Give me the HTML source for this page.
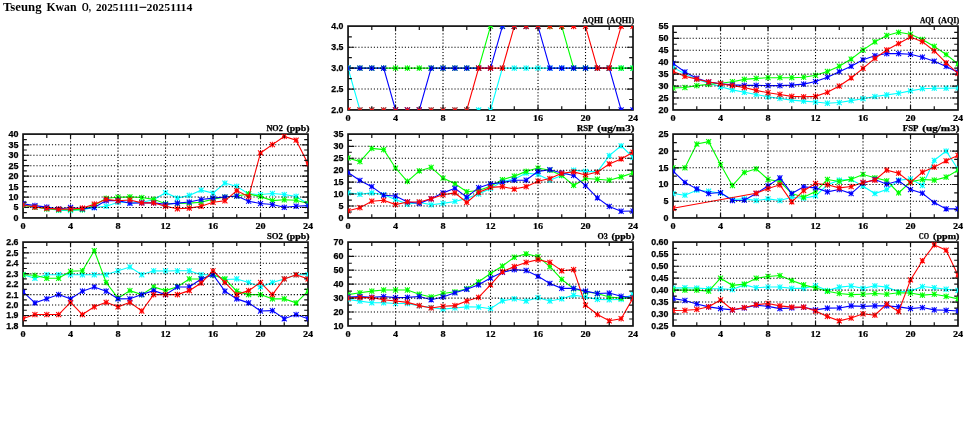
<!DOCTYPE html>
<html><head><meta charset="utf-8"><title>Tseung Kwan O</title>
<style>html,body{margin:0;padding:0;background:#fff;}svg{display:block;will-change:transform;}text{fill:#000;}</style></head>
<body>
<svg width="975" height="447" viewBox="0 0 975 447">
<defs>
<clipPath id="c0"><rect x="348.05" y="26.1" width="284.95" height="83.85"/></clipPath>
<clipPath id="s0"><path clip-rule="evenodd" d="M348.05 26.1h284.95v83.85h-284.95zM349.25 27.3h282.55v81.44999999999999h-282.55z"/></clipPath>
<clipPath id="c1"><rect x="673.05" y="26.1" width="284.95" height="83.85"/></clipPath>
<clipPath id="s1"><path clip-rule="evenodd" d="M673.05 26.1h284.95v83.85h-284.95zM674.25 27.3h282.55v81.44999999999999h-282.55z"/></clipPath>
<clipPath id="c2"><rect x="23.05" y="134.1" width="284.95" height="83.85"/></clipPath>
<clipPath id="s2"><path clip-rule="evenodd" d="M23.05 134.1h284.95v83.85h-284.95zM24.25 135.29999999999998h282.55v81.44999999999999h-282.55z"/></clipPath>
<clipPath id="c3"><rect x="348.05" y="134.1" width="284.95" height="83.85"/></clipPath>
<clipPath id="s3"><path clip-rule="evenodd" d="M348.05 134.1h284.95v83.85h-284.95zM349.25 135.29999999999998h282.55v81.44999999999999h-282.55z"/></clipPath>
<clipPath id="c4"><rect x="673.05" y="134.1" width="284.95" height="83.85"/></clipPath>
<clipPath id="s4"><path clip-rule="evenodd" d="M673.05 134.1h284.95v83.85h-284.95zM674.25 135.29999999999998h282.55v81.44999999999999h-282.55z"/></clipPath>
<clipPath id="c5"><rect x="23.05" y="242.1" width="284.95" height="83.85"/></clipPath>
<clipPath id="s5"><path clip-rule="evenodd" d="M23.05 242.1h284.95v83.85h-284.95zM24.25 243.29999999999998h282.55v81.44999999999999h-282.55z"/></clipPath>
<clipPath id="c6"><rect x="348.05" y="242.1" width="284.95" height="83.85"/></clipPath>
<clipPath id="s6"><path clip-rule="evenodd" d="M348.05 242.1h284.95v83.85h-284.95zM349.25 243.29999999999998h282.55v81.44999999999999h-282.55z"/></clipPath>
<clipPath id="c7"><rect x="673.05" y="242.1" width="284.95" height="83.85"/></clipPath>
<clipPath id="s7"><path clip-rule="evenodd" d="M673.05 242.1h284.95v83.85h-284.95zM674.25 243.29999999999998h282.55v81.44999999999999h-282.55z"/></clipPath>
</defs>
<rect width="975" height="447" fill="#fff"/>
<text x="3.0" y="10.8" font-family="Liberation Serif, serif" font-weight="bold" font-size="12" textLength="38.6" lengthAdjust="spacingAndGlyphs">Tseung</text>
<text x="46.4" y="10.8" font-family="Liberation Serif, serif" font-weight="bold" font-size="12" textLength="30.2" lengthAdjust="spacingAndGlyphs">Kwan</text>
<text x="81.7" y="10.8" font-family="Liberation Serif, serif" font-weight="bold" font-size="12" textLength="9.3" lengthAdjust="spacingAndGlyphs">O,</text>
<text x="96.0" y="10.8" font-family="Liberation Serif, serif" font-weight="bold" font-size="11.2" textLength="43.0" lengthAdjust="spacingAndGlyphs">20251111</text>
<path d="M139.5 7.3H146.3" stroke="#000" stroke-width="1.1" fill="none"/>
<text x="146.6" y="10.8" font-family="Liberation Serif, serif" font-weight="bold" font-size="11.2" textLength="45.8" lengthAdjust="spacingAndGlyphs">20251114</text>
<g clip-path="url(#c0)" fill="none" stroke-width="1.1" stroke-linecap="butt">
<path d="M348.05 68.15L359.92 109.95L371.80 109.95L383.67 109.95L395.54 109.95L407.41 109.95L419.29 109.95L431.16 109.95L443.03 109.95L454.91 109.95L466.78 109.95L478.65 109.95L490.52 109.95L502.40 68.15L514.27 68.15L526.14 68.15L538.02 68.15L549.89 68.15L561.76 68.15L573.64 68.15L585.51 68.15L597.38 68.15L609.25 68.15L621.13 68.15L633.00 68.15" stroke="#00ffff"/>
<path d="M345.53 65.63L350.57 70.67M345.53 70.67L350.57 65.63M348.05 65.35L348.05 70.95M345.95 68.15L350.15 68.15M357.40 107.43L362.44 112.47M357.40 112.47L362.44 107.43M359.92 107.15L359.92 112.75M357.82 109.95L362.02 109.95M369.28 107.43L374.32 112.47M369.28 112.47L374.32 107.43M371.80 107.15L371.80 112.75M369.70 109.95L373.90 109.95M381.15 107.43L386.19 112.47M381.15 112.47L386.19 107.43M383.67 107.15L383.67 112.75M381.57 109.95L385.77 109.95M393.02 107.43L398.06 112.47M393.02 112.47L398.06 107.43M395.54 107.15L395.54 112.75M393.44 109.95L397.64 109.95M404.89 107.43L409.93 112.47M404.89 112.47L409.93 107.43M407.41 107.15L407.41 112.75M405.31 109.95L409.51 109.95M416.77 107.43L421.81 112.47M416.77 112.47L421.81 107.43M419.29 107.15L419.29 112.75M417.19 109.95L421.39 109.95M428.64 107.43L433.68 112.47M428.64 112.47L433.68 107.43M431.16 107.15L431.16 112.75M429.06 109.95L433.26 109.95M440.51 107.43L445.55 112.47M440.51 112.47L445.55 107.43M443.03 107.15L443.03 112.75M440.93 109.95L445.13 109.95M452.39 107.43L457.43 112.47M452.39 112.47L457.43 107.43M454.91 107.15L454.91 112.75M452.81 109.95L457.01 109.95M464.26 107.43L469.30 112.47M464.26 112.47L469.30 107.43M466.78 107.15L466.78 112.75M464.68 109.95L468.88 109.95M476.13 107.43L481.17 112.47M476.13 112.47L481.17 107.43M478.65 107.15L478.65 112.75M476.55 109.95L480.75 109.95M488.00 107.43L493.04 112.47M488.00 112.47L493.04 107.43M490.52 107.15L490.52 112.75M488.42 109.95L492.62 109.95M499.88 65.63L504.92 70.67M499.88 70.67L504.92 65.63M502.40 65.35L502.40 70.95M500.30 68.15L504.50 68.15M511.75 65.63L516.79 70.67M511.75 70.67L516.79 65.63M514.27 65.35L514.27 70.95M512.17 68.15L516.37 68.15M523.62 65.63L528.66 70.67M523.62 70.67L528.66 65.63M526.14 65.35L526.14 70.95M524.04 68.15L528.24 68.15M535.50 65.63L540.54 70.67M535.50 70.67L540.54 65.63M538.02 65.35L538.02 70.95M535.92 68.15L540.12 68.15M547.37 65.63L552.41 70.67M547.37 70.67L552.41 65.63M549.89 65.35L549.89 70.95M547.79 68.15L551.99 68.15M559.24 65.63L564.28 70.67M559.24 70.67L564.28 65.63M561.76 65.35L561.76 70.95M559.66 68.15L563.86 68.15M571.12 65.63L576.16 70.67M571.12 70.67L576.16 65.63M573.64 65.35L573.64 70.95M571.54 68.15L575.74 68.15M582.99 65.63L588.03 70.67M582.99 70.67L588.03 65.63M585.51 65.35L585.51 70.95M583.41 68.15L587.61 68.15M594.86 65.63L599.90 70.67M594.86 70.67L599.90 65.63M597.38 65.35L597.38 70.95M595.28 68.15L599.48 68.15M606.73 65.63L611.77 70.67M606.73 70.67L611.77 65.63M609.25 65.35L609.25 70.95M607.15 68.15L611.35 68.15M618.61 65.63L623.65 70.67M618.61 70.67L623.65 65.63M621.13 65.35L621.13 70.95M619.03 68.15L623.23 68.15M630.48 65.63L635.52 70.67M630.48 70.67L635.52 65.63M633.00 65.35L633.00 70.95M630.90 68.15L635.10 68.15" stroke="#00ffff" stroke-width="1.05"/>
<path d="M348.05 68.15L359.92 68.15L371.80 68.15L383.67 68.15L395.54 68.15L407.41 68.15L419.29 68.15L431.16 68.15L443.03 68.15L454.91 68.15L466.78 68.15L478.65 68.15L490.52 26.35L502.40 26.35L514.27 26.35L526.14 26.35L538.02 26.35L549.89 26.35L561.76 26.35L573.64 68.15L585.51 68.15L597.38 68.15L609.25 68.15L621.13 68.15L633.00 68.15" stroke="#00ff00"/>
<path d="M345.53 65.63L350.57 70.67M345.53 70.67L350.57 65.63M348.05 65.35L348.05 70.95M345.95 68.15L350.15 68.15M357.40 65.63L362.44 70.67M357.40 70.67L362.44 65.63M359.92 65.35L359.92 70.95M357.82 68.15L362.02 68.15M369.28 65.63L374.32 70.67M369.28 70.67L374.32 65.63M371.80 65.35L371.80 70.95M369.70 68.15L373.90 68.15M381.15 65.63L386.19 70.67M381.15 70.67L386.19 65.63M383.67 65.35L383.67 70.95M381.57 68.15L385.77 68.15M393.02 65.63L398.06 70.67M393.02 70.67L398.06 65.63M395.54 65.35L395.54 70.95M393.44 68.15L397.64 68.15M404.89 65.63L409.93 70.67M404.89 70.67L409.93 65.63M407.41 65.35L407.41 70.95M405.31 68.15L409.51 68.15M416.77 65.63L421.81 70.67M416.77 70.67L421.81 65.63M419.29 65.35L419.29 70.95M417.19 68.15L421.39 68.15M428.64 65.63L433.68 70.67M428.64 70.67L433.68 65.63M431.16 65.35L431.16 70.95M429.06 68.15L433.26 68.15M440.51 65.63L445.55 70.67M440.51 70.67L445.55 65.63M443.03 65.35L443.03 70.95M440.93 68.15L445.13 68.15M452.39 65.63L457.43 70.67M452.39 70.67L457.43 65.63M454.91 65.35L454.91 70.95M452.81 68.15L457.01 68.15M464.26 65.63L469.30 70.67M464.26 70.67L469.30 65.63M466.78 65.35L466.78 70.95M464.68 68.15L468.88 68.15M476.13 65.63L481.17 70.67M476.13 70.67L481.17 65.63M478.65 65.35L478.65 70.95M476.55 68.15L480.75 68.15M488.00 23.83L493.04 28.87M488.00 28.87L493.04 23.83M490.52 23.55L490.52 29.15M488.42 26.35L492.62 26.35M499.88 23.83L504.92 28.87M499.88 28.87L504.92 23.83M502.40 23.55L502.40 29.15M500.30 26.35L504.50 26.35M511.75 23.83L516.79 28.87M511.75 28.87L516.79 23.83M514.27 23.55L514.27 29.15M512.17 26.35L516.37 26.35M523.62 23.83L528.66 28.87M523.62 28.87L528.66 23.83M526.14 23.55L526.14 29.15M524.04 26.35L528.24 26.35M535.50 23.83L540.54 28.87M535.50 28.87L540.54 23.83M538.02 23.55L538.02 29.15M535.92 26.35L540.12 26.35M547.37 23.83L552.41 28.87M547.37 28.87L552.41 23.83M549.89 23.55L549.89 29.15M547.79 26.35L551.99 26.35M559.24 23.83L564.28 28.87M559.24 28.87L564.28 23.83M561.76 23.55L561.76 29.15M559.66 26.35L563.86 26.35M571.12 65.63L576.16 70.67M571.12 70.67L576.16 65.63M573.64 65.35L573.64 70.95M571.54 68.15L575.74 68.15M582.99 65.63L588.03 70.67M582.99 70.67L588.03 65.63M585.51 65.35L585.51 70.95M583.41 68.15L587.61 68.15M594.86 65.63L599.90 70.67M594.86 70.67L599.90 65.63M597.38 65.35L597.38 70.95M595.28 68.15L599.48 68.15M606.73 65.63L611.77 70.67M606.73 70.67L611.77 65.63M609.25 65.35L609.25 70.95M607.15 68.15L611.35 68.15M618.61 65.63L623.65 70.67M618.61 70.67L623.65 65.63M621.13 65.35L621.13 70.95M619.03 68.15L623.23 68.15M630.48 65.63L635.52 70.67M630.48 70.67L635.52 65.63M633.00 65.35L633.00 70.95M630.90 68.15L635.10 68.15" stroke="#00ff00" stroke-width="1.05"/>
<path d="M348.05 68.15L359.92 68.15L371.80 68.15L383.67 68.15L395.54 109.95L407.41 109.95L419.29 109.95L431.16 68.15L443.03 68.15L454.91 68.15L466.78 68.15L478.65 68.15L490.52 68.15L502.40 26.35L514.27 26.35L526.14 26.35L538.02 26.35L549.89 68.15L561.76 68.15L573.64 68.15L585.51 68.15L597.38 68.15L609.25 68.15L621.13 109.95L633.00 109.95" stroke="#0000ff"/>
<path d="M345.53 65.63L350.57 70.67M345.53 70.67L350.57 65.63M348.05 65.35L348.05 70.95M345.95 68.15L350.15 68.15M357.40 65.63L362.44 70.67M357.40 70.67L362.44 65.63M359.92 65.35L359.92 70.95M357.82 68.15L362.02 68.15M369.28 65.63L374.32 70.67M369.28 70.67L374.32 65.63M371.80 65.35L371.80 70.95M369.70 68.15L373.90 68.15M381.15 65.63L386.19 70.67M381.15 70.67L386.19 65.63M383.67 65.35L383.67 70.95M381.57 68.15L385.77 68.15M393.02 107.43L398.06 112.47M393.02 112.47L398.06 107.43M395.54 107.15L395.54 112.75M393.44 109.95L397.64 109.95M404.89 107.43L409.93 112.47M404.89 112.47L409.93 107.43M407.41 107.15L407.41 112.75M405.31 109.95L409.51 109.95M416.77 107.43L421.81 112.47M416.77 112.47L421.81 107.43M419.29 107.15L419.29 112.75M417.19 109.95L421.39 109.95M428.64 65.63L433.68 70.67M428.64 70.67L433.68 65.63M431.16 65.35L431.16 70.95M429.06 68.15L433.26 68.15M440.51 65.63L445.55 70.67M440.51 70.67L445.55 65.63M443.03 65.35L443.03 70.95M440.93 68.15L445.13 68.15M452.39 65.63L457.43 70.67M452.39 70.67L457.43 65.63M454.91 65.35L454.91 70.95M452.81 68.15L457.01 68.15M464.26 65.63L469.30 70.67M464.26 70.67L469.30 65.63M466.78 65.35L466.78 70.95M464.68 68.15L468.88 68.15M476.13 65.63L481.17 70.67M476.13 70.67L481.17 65.63M478.65 65.35L478.65 70.95M476.55 68.15L480.75 68.15M488.00 65.63L493.04 70.67M488.00 70.67L493.04 65.63M490.52 65.35L490.52 70.95M488.42 68.15L492.62 68.15M499.88 23.83L504.92 28.87M499.88 28.87L504.92 23.83M502.40 23.55L502.40 29.15M500.30 26.35L504.50 26.35M511.75 23.83L516.79 28.87M511.75 28.87L516.79 23.83M514.27 23.55L514.27 29.15M512.17 26.35L516.37 26.35M523.62 23.83L528.66 28.87M523.62 28.87L528.66 23.83M526.14 23.55L526.14 29.15M524.04 26.35L528.24 26.35M535.50 23.83L540.54 28.87M535.50 28.87L540.54 23.83M538.02 23.55L538.02 29.15M535.92 26.35L540.12 26.35M547.37 65.63L552.41 70.67M547.37 70.67L552.41 65.63M549.89 65.35L549.89 70.95M547.79 68.15L551.99 68.15M559.24 65.63L564.28 70.67M559.24 70.67L564.28 65.63M561.76 65.35L561.76 70.95M559.66 68.15L563.86 68.15M571.12 65.63L576.16 70.67M571.12 70.67L576.16 65.63M573.64 65.35L573.64 70.95M571.54 68.15L575.74 68.15M582.99 65.63L588.03 70.67M582.99 70.67L588.03 65.63M585.51 65.35L585.51 70.95M583.41 68.15L587.61 68.15M594.86 65.63L599.90 70.67M594.86 70.67L599.90 65.63M597.38 65.35L597.38 70.95M595.28 68.15L599.48 68.15M606.73 65.63L611.77 70.67M606.73 70.67L611.77 65.63M609.25 65.35L609.25 70.95M607.15 68.15L611.35 68.15M618.61 107.43L623.65 112.47M618.61 112.47L623.65 107.43M621.13 107.15L621.13 112.75M619.03 109.95L623.23 109.95M630.48 107.43L635.52 112.47M630.48 112.47L635.52 107.43M633.00 107.15L633.00 112.75M630.90 109.95L635.10 109.95" stroke="#0000ff" stroke-width="1.05"/>
<path d="M348.05 109.95L359.92 109.95L371.80 109.95L383.67 109.95L395.54 109.95L407.41 109.95L419.29 109.95L431.16 109.95L443.03 109.95L454.91 109.95L466.78 109.95L478.65 68.15L490.52 68.15L502.40 68.15L514.27 26.35L526.14 26.35L538.02 26.35L549.89 26.35L561.76 26.35L573.64 26.35L585.51 26.35L597.38 68.15L609.25 68.15L621.13 26.35L633.00 26.35" stroke="#ff0000"/>
<path d="M345.53 107.43L350.57 112.47M345.53 112.47L350.57 107.43M348.05 107.15L348.05 112.75M345.95 109.95L350.15 109.95M357.40 107.43L362.44 112.47M357.40 112.47L362.44 107.43M359.92 107.15L359.92 112.75M357.82 109.95L362.02 109.95M369.28 107.43L374.32 112.47M369.28 112.47L374.32 107.43M371.80 107.15L371.80 112.75M369.70 109.95L373.90 109.95M381.15 107.43L386.19 112.47M381.15 112.47L386.19 107.43M383.67 107.15L383.67 112.75M381.57 109.95L385.77 109.95M393.02 107.43L398.06 112.47M393.02 112.47L398.06 107.43M395.54 107.15L395.54 112.75M393.44 109.95L397.64 109.95M404.89 107.43L409.93 112.47M404.89 112.47L409.93 107.43M407.41 107.15L407.41 112.75M405.31 109.95L409.51 109.95M416.77 107.43L421.81 112.47M416.77 112.47L421.81 107.43M419.29 107.15L419.29 112.75M417.19 109.95L421.39 109.95M428.64 107.43L433.68 112.47M428.64 112.47L433.68 107.43M431.16 107.15L431.16 112.75M429.06 109.95L433.26 109.95M440.51 107.43L445.55 112.47M440.51 112.47L445.55 107.43M443.03 107.15L443.03 112.75M440.93 109.95L445.13 109.95M452.39 107.43L457.43 112.47M452.39 112.47L457.43 107.43M454.91 107.15L454.91 112.75M452.81 109.95L457.01 109.95M464.26 107.43L469.30 112.47M464.26 112.47L469.30 107.43M466.78 107.15L466.78 112.75M464.68 109.95L468.88 109.95M476.13 65.63L481.17 70.67M476.13 70.67L481.17 65.63M478.65 65.35L478.65 70.95M476.55 68.15L480.75 68.15M488.00 65.63L493.04 70.67M488.00 70.67L493.04 65.63M490.52 65.35L490.52 70.95M488.42 68.15L492.62 68.15M499.88 65.63L504.92 70.67M499.88 70.67L504.92 65.63M502.40 65.35L502.40 70.95M500.30 68.15L504.50 68.15M511.75 23.83L516.79 28.87M511.75 28.87L516.79 23.83M514.27 23.55L514.27 29.15M512.17 26.35L516.37 26.35M523.62 23.83L528.66 28.87M523.62 28.87L528.66 23.83M526.14 23.55L526.14 29.15M524.04 26.35L528.24 26.35M535.50 23.83L540.54 28.87M535.50 28.87L540.54 23.83M538.02 23.55L538.02 29.15M535.92 26.35L540.12 26.35M547.37 23.83L552.41 28.87M547.37 28.87L552.41 23.83M549.89 23.55L549.89 29.15M547.79 26.35L551.99 26.35M559.24 23.83L564.28 28.87M559.24 28.87L564.28 23.83M561.76 23.55L561.76 29.15M559.66 26.35L563.86 26.35M571.12 23.83L576.16 28.87M571.12 28.87L576.16 23.83M573.64 23.55L573.64 29.15M571.54 26.35L575.74 26.35M582.99 23.83L588.03 28.87M582.99 28.87L588.03 23.83M585.51 23.55L585.51 29.15M583.41 26.35L587.61 26.35M594.86 65.63L599.90 70.67M594.86 70.67L599.90 65.63M597.38 65.35L597.38 70.95M595.28 68.15L599.48 68.15M606.73 65.63L611.77 70.67M606.73 70.67L611.77 65.63M609.25 65.35L609.25 70.95M607.15 68.15L611.35 68.15M618.61 23.83L623.65 28.87M618.61 28.87L623.65 23.83M621.13 23.55L621.13 29.15M619.03 26.35L623.23 26.35M630.48 23.83L635.52 28.87M630.48 28.87L635.52 23.83M633.00 23.55L633.00 29.15M630.90 26.35L635.10 26.35" stroke="#ff0000" stroke-width="1.05"/>
</g>
<path d="M349.05 89.05H633.00M349.05 68.15H633.00M349.05 47.25H633.00" stroke="#000" stroke-width="1.1" stroke-dasharray="1.15 1.95" fill="none"/>
<path d="M395.54 27.10V109.95M443.03 27.10V109.95M490.52 27.10V109.95M538.02 27.10V109.95M585.51 27.10V109.95" stroke="#000" stroke-width="1.1" stroke-dasharray="1.15 1.95" fill="none"/>
<path d="M371.80 26.10v3.8M371.80 109.95v-3.8M395.54 26.10v4.6M395.54 109.95v-4.6M419.29 26.10v3.8M419.29 109.95v-3.8M443.03 26.10v4.6M443.03 109.95v-4.6M466.78 26.10v3.8M466.78 109.95v-3.8M490.52 26.10v4.6M490.52 109.95v-4.6M514.27 26.10v3.8M514.27 109.95v-3.8M538.02 26.10v4.6M538.02 109.95v-4.6M561.76 26.10v3.8M561.76 109.95v-3.8M585.51 26.10v4.6M585.51 109.95v-4.6M609.25 26.10v3.8M609.25 109.95v-3.8M348.05 99.50h3.8M633.00 99.50h-3.8M348.05 89.05h6.2M633.00 89.05h-6.2M348.05 78.60h3.8M633.00 78.60h-3.8M348.05 68.15h6.2M633.00 68.15h-6.2M348.05 57.70h3.8M633.00 57.70h-3.8M348.05 47.25h6.2M633.00 47.25h-6.2M348.05 36.80h3.8M633.00 36.80h-3.8" stroke="#111" stroke-width="1.2" fill="none"/>
<rect x="348.05" y="26.1" width="284.95" height="83.85" fill="none" stroke="#111" stroke-width="1.7"/>
<g clip-path="url(#s0)" fill="none" stroke-width="1.05">
<path d="M345.53 65.63L350.57 70.67M345.53 70.67L350.57 65.63M348.05 65.35L348.05 70.95M345.95 68.15L350.15 68.15M357.40 107.43L362.44 112.47M357.40 112.47L362.44 107.43M359.92 107.15L359.92 112.75M357.82 109.95L362.02 109.95M369.28 107.43L374.32 112.47M369.28 112.47L374.32 107.43M371.80 107.15L371.80 112.75M369.70 109.95L373.90 109.95M381.15 107.43L386.19 112.47M381.15 112.47L386.19 107.43M383.67 107.15L383.67 112.75M381.57 109.95L385.77 109.95M393.02 107.43L398.06 112.47M393.02 112.47L398.06 107.43M395.54 107.15L395.54 112.75M393.44 109.95L397.64 109.95M404.89 107.43L409.93 112.47M404.89 112.47L409.93 107.43M407.41 107.15L407.41 112.75M405.31 109.95L409.51 109.95M416.77 107.43L421.81 112.47M416.77 112.47L421.81 107.43M419.29 107.15L419.29 112.75M417.19 109.95L421.39 109.95M428.64 107.43L433.68 112.47M428.64 112.47L433.68 107.43M431.16 107.15L431.16 112.75M429.06 109.95L433.26 109.95M440.51 107.43L445.55 112.47M440.51 112.47L445.55 107.43M443.03 107.15L443.03 112.75M440.93 109.95L445.13 109.95M452.39 107.43L457.43 112.47M452.39 112.47L457.43 107.43M454.91 107.15L454.91 112.75M452.81 109.95L457.01 109.95M464.26 107.43L469.30 112.47M464.26 112.47L469.30 107.43M466.78 107.15L466.78 112.75M464.68 109.95L468.88 109.95M476.13 107.43L481.17 112.47M476.13 112.47L481.17 107.43M478.65 107.15L478.65 112.75M476.55 109.95L480.75 109.95M488.00 107.43L493.04 112.47M488.00 112.47L493.04 107.43M490.52 107.15L490.52 112.75M488.42 109.95L492.62 109.95M630.48 65.63L635.52 70.67M630.48 70.67L635.52 65.63M633.00 65.35L633.00 70.95M630.90 68.15L635.10 68.15" stroke="#00ffff"/>
<path d="M345.53 65.63L350.57 70.67M345.53 70.67L350.57 65.63M348.05 65.35L348.05 70.95M345.95 68.15L350.15 68.15M488.00 23.83L493.04 28.87M488.00 28.87L493.04 23.83M490.52 23.55L490.52 29.15M488.42 26.35L492.62 26.35M499.88 23.83L504.92 28.87M499.88 28.87L504.92 23.83M502.40 23.55L502.40 29.15M500.30 26.35L504.50 26.35M511.75 23.83L516.79 28.87M511.75 28.87L516.79 23.83M514.27 23.55L514.27 29.15M512.17 26.35L516.37 26.35M523.62 23.83L528.66 28.87M523.62 28.87L528.66 23.83M526.14 23.55L526.14 29.15M524.04 26.35L528.24 26.35M535.50 23.83L540.54 28.87M535.50 28.87L540.54 23.83M538.02 23.55L538.02 29.15M535.92 26.35L540.12 26.35M547.37 23.83L552.41 28.87M547.37 28.87L552.41 23.83M549.89 23.55L549.89 29.15M547.79 26.35L551.99 26.35M559.24 23.83L564.28 28.87M559.24 28.87L564.28 23.83M561.76 23.55L561.76 29.15M559.66 26.35L563.86 26.35M630.48 65.63L635.52 70.67M630.48 70.67L635.52 65.63M633.00 65.35L633.00 70.95M630.90 68.15L635.10 68.15" stroke="#00ff00"/>
<path d="M345.53 65.63L350.57 70.67M345.53 70.67L350.57 65.63M348.05 65.35L348.05 70.95M345.95 68.15L350.15 68.15M393.02 107.43L398.06 112.47M393.02 112.47L398.06 107.43M395.54 107.15L395.54 112.75M393.44 109.95L397.64 109.95M404.89 107.43L409.93 112.47M404.89 112.47L409.93 107.43M407.41 107.15L407.41 112.75M405.31 109.95L409.51 109.95M416.77 107.43L421.81 112.47M416.77 112.47L421.81 107.43M419.29 107.15L419.29 112.75M417.19 109.95L421.39 109.95M499.88 23.83L504.92 28.87M499.88 28.87L504.92 23.83M502.40 23.55L502.40 29.15M500.30 26.35L504.50 26.35M511.75 23.83L516.79 28.87M511.75 28.87L516.79 23.83M514.27 23.55L514.27 29.15M512.17 26.35L516.37 26.35M523.62 23.83L528.66 28.87M523.62 28.87L528.66 23.83M526.14 23.55L526.14 29.15M524.04 26.35L528.24 26.35M535.50 23.83L540.54 28.87M535.50 28.87L540.54 23.83M538.02 23.55L538.02 29.15M535.92 26.35L540.12 26.35M618.61 107.43L623.65 112.47M618.61 112.47L623.65 107.43M621.13 107.15L621.13 112.75M619.03 109.95L623.23 109.95M630.48 107.43L635.52 112.47M630.48 112.47L635.52 107.43M633.00 107.15L633.00 112.75M630.90 109.95L635.10 109.95" stroke="#0000ff"/>
<path d="M345.53 107.43L350.57 112.47M345.53 112.47L350.57 107.43M348.05 107.15L348.05 112.75M345.95 109.95L350.15 109.95M357.40 107.43L362.44 112.47M357.40 112.47L362.44 107.43M359.92 107.15L359.92 112.75M357.82 109.95L362.02 109.95M369.28 107.43L374.32 112.47M369.28 112.47L374.32 107.43M371.80 107.15L371.80 112.75M369.70 109.95L373.90 109.95M381.15 107.43L386.19 112.47M381.15 112.47L386.19 107.43M383.67 107.15L383.67 112.75M381.57 109.95L385.77 109.95M393.02 107.43L398.06 112.47M393.02 112.47L398.06 107.43M395.54 107.15L395.54 112.75M393.44 109.95L397.64 109.95M404.89 107.43L409.93 112.47M404.89 112.47L409.93 107.43M407.41 107.15L407.41 112.75M405.31 109.95L409.51 109.95M416.77 107.43L421.81 112.47M416.77 112.47L421.81 107.43M419.29 107.15L419.29 112.75M417.19 109.95L421.39 109.95M428.64 107.43L433.68 112.47M428.64 112.47L433.68 107.43M431.16 107.15L431.16 112.75M429.06 109.95L433.26 109.95M440.51 107.43L445.55 112.47M440.51 112.47L445.55 107.43M443.03 107.15L443.03 112.75M440.93 109.95L445.13 109.95M452.39 107.43L457.43 112.47M452.39 112.47L457.43 107.43M454.91 107.15L454.91 112.75M452.81 109.95L457.01 109.95M464.26 107.43L469.30 112.47M464.26 112.47L469.30 107.43M466.78 107.15L466.78 112.75M464.68 109.95L468.88 109.95M511.75 23.83L516.79 28.87M511.75 28.87L516.79 23.83M514.27 23.55L514.27 29.15M512.17 26.35L516.37 26.35M523.62 23.83L528.66 28.87M523.62 28.87L528.66 23.83M526.14 23.55L526.14 29.15M524.04 26.35L528.24 26.35M535.50 23.83L540.54 28.87M535.50 28.87L540.54 23.83M538.02 23.55L538.02 29.15M535.92 26.35L540.12 26.35M547.37 23.83L552.41 28.87M547.37 28.87L552.41 23.83M549.89 23.55L549.89 29.15M547.79 26.35L551.99 26.35M559.24 23.83L564.28 28.87M559.24 28.87L564.28 23.83M561.76 23.55L561.76 29.15M559.66 26.35L563.86 26.35M571.12 23.83L576.16 28.87M571.12 28.87L576.16 23.83M573.64 23.55L573.64 29.15M571.54 26.35L575.74 26.35M582.99 23.83L588.03 28.87M582.99 28.87L588.03 23.83M585.51 23.55L585.51 29.15M583.41 26.35L587.61 26.35M618.61 23.83L623.65 28.87M618.61 28.87L623.65 23.83M621.13 23.55L621.13 29.15M619.03 26.35L623.23 26.35M630.48 23.83L635.52 28.87M630.48 28.87L635.52 23.83M633.00 23.55L633.00 29.15M630.90 26.35L635.10 26.35" stroke="#ff0000"/>
</g>
<text x="348.05" y="121.05" font-family="Liberation Serif, serif" font-weight="bold" font-size="8.6" stroke="#000" stroke-width="0.2" text-anchor="middle" textLength="5.1" lengthAdjust="spacingAndGlyphs">0</text>
<text x="395.54" y="121.05" font-family="Liberation Serif, serif" font-weight="bold" font-size="8.6" stroke="#000" stroke-width="0.2" text-anchor="middle" textLength="5.1" lengthAdjust="spacingAndGlyphs">4</text>
<text x="443.03" y="121.05" font-family="Liberation Serif, serif" font-weight="bold" font-size="8.6" stroke="#000" stroke-width="0.2" text-anchor="middle" textLength="5.1" lengthAdjust="spacingAndGlyphs">8</text>
<text x="490.52" y="121.05" font-family="Liberation Serif, serif" font-weight="bold" font-size="8.6" stroke="#000" stroke-width="0.2" text-anchor="middle" textLength="10.2" lengthAdjust="spacingAndGlyphs">12</text>
<text x="538.02" y="121.05" font-family="Liberation Serif, serif" font-weight="bold" font-size="8.6" stroke="#000" stroke-width="0.2" text-anchor="middle" textLength="10.2" lengthAdjust="spacingAndGlyphs">16</text>
<text x="585.51" y="121.05" font-family="Liberation Serif, serif" font-weight="bold" font-size="8.6" stroke="#000" stroke-width="0.2" text-anchor="middle" textLength="10.2" lengthAdjust="spacingAndGlyphs">20</text>
<text x="633.00" y="121.05" font-family="Liberation Serif, serif" font-weight="bold" font-size="8.6" stroke="#000" stroke-width="0.2" text-anchor="middle" textLength="10.2" lengthAdjust="spacingAndGlyphs">24</text>
<text x="343.45" y="112.85" font-family="Liberation Sans, sans-serif" font-weight="bold" font-size="8.5" stroke="#000" stroke-width="0.25" text-anchor="end" textLength="12.2" lengthAdjust="spacingAndGlyphs">2.0</text>
<text x="343.45" y="91.95" font-family="Liberation Sans, sans-serif" font-weight="bold" font-size="8.5" stroke="#000" stroke-width="0.25" text-anchor="end" textLength="12.2" lengthAdjust="spacingAndGlyphs">2.5</text>
<text x="343.45" y="71.05" font-family="Liberation Sans, sans-serif" font-weight="bold" font-size="8.5" stroke="#000" stroke-width="0.25" text-anchor="end" textLength="12.2" lengthAdjust="spacingAndGlyphs">3.0</text>
<text x="343.45" y="50.15" font-family="Liberation Sans, sans-serif" font-weight="bold" font-size="8.5" stroke="#000" stroke-width="0.25" text-anchor="end" textLength="12.2" lengthAdjust="spacingAndGlyphs">3.5</text>
<text x="343.45" y="29.25" font-family="Liberation Sans, sans-serif" font-weight="bold" font-size="8.5" stroke="#000" stroke-width="0.25" text-anchor="end" textLength="12.2" lengthAdjust="spacingAndGlyphs">4.0</text>
<text x="603.00" y="22.70" font-family="Liberation Serif, serif" font-weight="bold" font-size="7.8" stroke="#000" stroke-width="0.25" text-anchor="end" textLength="20.8" lengthAdjust="spacingAndGlyphs">AQHI</text>
<text x="634.20" y="22.70" font-family="Liberation Serif, serif" font-weight="bold" font-size="7.8" stroke="#000" stroke-width="0.25" text-anchor="end" textLength="27.4" lengthAdjust="spacingAndGlyphs">(AQHI)</text>
<g clip-path="url(#c1)" fill="none" stroke-width="1.1" stroke-linecap="butt">
<path d="M673.05 67.43L684.92 73.88L696.80 79.14L708.67 83.20L720.54 86.78L732.41 89.89L744.29 92.27L756.16 94.42L768.03 96.81L779.91 98.48L791.78 100.16L803.65 101.11L815.52 102.07L827.40 103.26L839.27 102.55L851.14 100.63L863.02 98.72L874.89 96.57L886.76 94.90L898.64 93.23L910.51 90.84L922.38 88.69L934.25 88.21L946.13 88.21L958.00 87.98" stroke="#00ffff"/>
<path d="M670.53 64.91L675.57 69.95M670.53 69.95L675.57 64.91M673.05 64.63L673.05 70.23M670.95 67.43L675.15 67.43M682.40 71.36L687.44 76.40M682.40 76.40L687.44 71.36M684.92 71.08L684.92 76.68M682.82 73.88L687.02 73.88M694.28 76.62L699.32 81.66M694.28 81.66L699.32 76.62M696.80 76.34L696.80 81.94M694.70 79.14L698.90 79.14M706.15 80.68L711.19 85.72M706.15 85.72L711.19 80.68M708.67 80.40L708.67 86.00M706.57 83.20L710.77 83.20M718.02 84.26L723.06 89.30M718.02 89.30L723.06 84.26M720.54 83.98L720.54 89.58M718.44 86.78L722.64 86.78M729.89 87.37L734.93 92.41M729.89 92.41L734.93 87.37M732.41 87.09L732.41 92.69M730.31 89.89L734.51 89.89M741.77 89.75L746.81 94.79M741.77 94.79L746.81 89.75M744.29 89.47L744.29 95.07M742.19 92.27L746.39 92.27M753.64 91.90L758.68 96.94M753.64 96.94L758.68 91.90M756.16 91.62L756.16 97.22M754.06 94.42L758.26 94.42M765.51 94.29L770.55 99.33M765.51 99.33L770.55 94.29M768.03 94.01L768.03 99.61M765.93 96.81L770.13 96.81M777.39 95.96L782.43 101.00M777.39 101.00L782.43 95.96M779.91 95.68L779.91 101.28M777.81 98.48L782.01 98.48M789.26 97.64L794.30 102.68M789.26 102.68L794.30 97.64M791.78 97.36L791.78 102.96M789.68 100.16L793.88 100.16M801.13 98.59L806.17 103.63M801.13 103.63L806.17 98.59M803.65 98.31L803.65 103.91M801.55 101.11L805.75 101.11M813.00 99.55L818.04 104.59M813.00 104.59L818.04 99.55M815.52 99.27L815.52 104.87M813.42 102.07L817.62 102.07M824.88 100.74L829.92 105.78M824.88 105.78L829.92 100.74M827.40 100.46L827.40 106.06M825.30 103.26L829.50 103.26M836.75 100.03L841.79 105.07M836.75 105.07L841.79 100.03M839.27 99.75L839.27 105.35M837.17 102.55L841.37 102.55M848.62 98.11L853.66 103.15M848.62 103.15L853.66 98.11M851.14 97.83L851.14 103.43M849.04 100.63L853.24 100.63M860.50 96.20L865.54 101.24M860.50 101.24L865.54 96.20M863.02 95.92L863.02 101.52M860.92 98.72L865.12 98.72M872.37 94.05L877.41 99.09M872.37 99.09L877.41 94.05M874.89 93.77L874.89 99.37M872.79 96.57L876.99 96.57M884.24 92.38L889.28 97.42M884.24 97.42L889.28 92.38M886.76 92.10L886.76 97.70M884.66 94.90L888.86 94.90M896.12 90.71L901.16 95.75M896.12 95.75L901.16 90.71M898.64 90.43L898.64 96.03M896.54 93.23L900.74 93.23M907.99 88.32L913.03 93.36M907.99 93.36L913.03 88.32M910.51 88.04L910.51 93.64M908.41 90.84L912.61 90.84M919.86 86.17L924.90 91.21M919.86 91.21L924.90 86.17M922.38 85.89L922.38 91.49M920.28 88.69L924.48 88.69M931.73 85.69L936.77 90.73M931.73 90.73L936.77 85.69M934.25 85.41L934.25 91.01M932.15 88.21L936.35 88.21M943.61 85.69L948.65 90.73M943.61 90.73L948.65 85.69M946.13 85.41L946.13 91.01M944.03 88.21L948.23 88.21M955.48 85.46L960.52 90.50M955.48 90.50L960.52 85.46M958.00 85.18L958.00 90.78M955.90 87.98L960.10 87.98" stroke="#00ffff" stroke-width="1.05"/>
<path d="M673.05 87.98L684.92 87.50L696.80 85.59L708.67 84.39L720.54 83.20L732.41 81.76L744.29 79.38L756.16 78.42L768.03 77.70L779.91 77.70L791.78 77.70L803.65 77.23L815.52 75.32L827.40 71.49L839.27 66.24L851.14 59.07L863.02 50.00L874.89 41.88L886.76 35.43L898.64 32.32L910.51 34.23L922.38 39.49L934.25 46.41L946.13 54.54L958.00 63.85" stroke="#00ff00"/>
<path d="M670.53 85.46L675.57 90.50M670.53 90.50L675.57 85.46M673.05 85.18L673.05 90.78M670.95 87.98L675.15 87.98M682.40 84.98L687.44 90.02M682.40 90.02L687.44 84.98M684.92 84.70L684.92 90.30M682.82 87.50L687.02 87.50M694.28 83.07L699.32 88.11M694.28 88.11L699.32 83.07M696.80 82.79L696.80 88.39M694.70 85.59L698.90 85.59M706.15 81.87L711.19 86.91M706.15 86.91L711.19 81.87M708.67 81.59L708.67 87.19M706.57 84.39L710.77 84.39M718.02 80.68L723.06 85.72M718.02 85.72L723.06 80.68M720.54 80.40L720.54 86.00M718.44 83.20L722.64 83.20M729.89 79.24L734.93 84.28M729.89 84.28L734.93 79.24M732.41 78.96L732.41 84.56M730.31 81.76L734.51 81.76M741.77 76.86L746.81 81.90M741.77 81.90L746.81 76.86M744.29 76.58L744.29 82.18M742.19 79.38L746.39 79.38M753.64 75.90L758.68 80.94M753.64 80.94L758.68 75.90M756.16 75.62L756.16 81.22M754.06 78.42L758.26 78.42M765.51 75.18L770.55 80.22M765.51 80.22L770.55 75.18M768.03 74.90L768.03 80.50M765.93 77.70L770.13 77.70M777.39 75.18L782.43 80.22M777.39 80.22L782.43 75.18M779.91 74.90L779.91 80.50M777.81 77.70L782.01 77.70M789.26 75.18L794.30 80.22M789.26 80.22L794.30 75.18M791.78 74.90L791.78 80.50M789.68 77.70L793.88 77.70M801.13 74.71L806.17 79.75M801.13 79.75L806.17 74.71M803.65 74.43L803.65 80.03M801.55 77.23L805.75 77.23M813.00 72.80L818.04 77.84M813.00 77.84L818.04 72.80M815.52 72.52L815.52 78.12M813.42 75.32L817.62 75.32M824.88 68.97L829.92 74.01M824.88 74.01L829.92 68.97M827.40 68.69L827.40 74.29M825.30 71.49L829.50 71.49M836.75 63.72L841.79 68.76M836.75 68.76L841.79 63.72M839.27 63.44L839.27 69.04M837.17 66.24L841.37 66.24M848.62 56.55L853.66 61.59M848.62 61.59L853.66 56.55M851.14 56.27L851.14 61.87M849.04 59.07L853.24 59.07M860.50 47.48L865.54 52.52M860.50 52.52L865.54 47.48M863.02 47.20L863.02 52.80M860.92 50.00L865.12 50.00M872.37 39.36L877.41 44.40M872.37 44.40L877.41 39.36M874.89 39.08L874.89 44.68M872.79 41.88L876.99 41.88M884.24 32.91L889.28 37.95M884.24 37.95L889.28 32.91M886.76 32.63L886.76 38.23M884.66 35.43L888.86 35.43M896.12 29.80L901.16 34.84M896.12 34.84L901.16 29.80M898.64 29.52L898.64 35.12M896.54 32.32L900.74 32.32M907.99 31.71L913.03 36.75M907.99 36.75L913.03 31.71M910.51 31.43L910.51 37.03M908.41 34.23L912.61 34.23M919.86 36.97L924.90 42.01M919.86 42.01L924.90 36.97M922.38 36.69L922.38 42.29M920.28 39.49L924.48 39.49M931.73 43.89L936.77 48.93M931.73 48.93L936.77 43.89M934.25 43.61L934.25 49.21M932.15 46.41L936.35 46.41M943.61 52.02L948.65 57.06M943.61 57.06L948.65 52.02M946.13 51.74L946.13 57.34M944.03 54.54L948.23 54.54M955.48 61.33L960.52 66.37M955.48 66.37L960.52 61.33M958.00 61.05L958.00 66.65M955.90 63.85L960.10 63.85" stroke="#00ff00" stroke-width="1.05"/>
<path d="M673.05 63.37L684.92 71.97L696.80 78.18L708.67 82.00L720.54 83.68L732.41 84.87L744.29 85.35L756.16 85.35L768.03 85.59L779.91 85.59L791.78 85.11L803.65 84.15L815.52 81.53L827.40 77.23L839.27 71.73L851.14 66.24L863.02 59.79L874.89 55.73L886.76 53.58L898.64 53.58L910.51 54.30L922.38 57.16L934.25 61.22L946.13 66.48L958.00 72.21" stroke="#0000ff"/>
<path d="M670.53 60.85L675.57 65.89M670.53 65.89L675.57 60.85M673.05 60.57L673.05 66.17M670.95 63.37L675.15 63.37M682.40 69.45L687.44 74.49M682.40 74.49L687.44 69.45M684.92 69.17L684.92 74.77M682.82 71.97L687.02 71.97M694.28 75.66L699.32 80.70M694.28 80.70L699.32 75.66M696.80 75.38L696.80 80.98M694.70 78.18L698.90 78.18M706.15 79.48L711.19 84.52M706.15 84.52L711.19 79.48M708.67 79.20L708.67 84.80M706.57 82.00L710.77 82.00M718.02 81.16L723.06 86.20M718.02 86.20L723.06 81.16M720.54 80.88L720.54 86.48M718.44 83.68L722.64 83.68M729.89 82.35L734.93 87.39M729.89 87.39L734.93 82.35M732.41 82.07L732.41 87.67M730.31 84.87L734.51 84.87M741.77 82.83L746.81 87.87M741.77 87.87L746.81 82.83M744.29 82.55L744.29 88.15M742.19 85.35L746.39 85.35M753.64 82.83L758.68 87.87M753.64 87.87L758.68 82.83M756.16 82.55L756.16 88.15M754.06 85.35L758.26 85.35M765.51 83.07L770.55 88.11M765.51 88.11L770.55 83.07M768.03 82.79L768.03 88.39M765.93 85.59L770.13 85.59M777.39 83.07L782.43 88.11M777.39 88.11L782.43 83.07M779.91 82.79L779.91 88.39M777.81 85.59L782.01 85.59M789.26 82.59L794.30 87.63M789.26 87.63L794.30 82.59M791.78 82.31L791.78 87.91M789.68 85.11L793.88 85.11M801.13 81.63L806.17 86.67M801.13 86.67L806.17 81.63M803.65 81.35L803.65 86.95M801.55 84.15L805.75 84.15M813.00 79.01L818.04 84.05M813.00 84.05L818.04 79.01M815.52 78.73L815.52 84.33M813.42 81.53L817.62 81.53M824.88 74.71L829.92 79.75M824.88 79.75L829.92 74.71M827.40 74.43L827.40 80.03M825.30 77.23L829.50 77.23M836.75 69.21L841.79 74.25M836.75 74.25L841.79 69.21M839.27 68.93L839.27 74.53M837.17 71.73L841.37 71.73M848.62 63.72L853.66 68.76M848.62 68.76L853.66 63.72M851.14 63.44L851.14 69.04M849.04 66.24L853.24 66.24M860.50 57.27L865.54 62.31M860.50 62.31L865.54 57.27M863.02 56.99L863.02 62.59M860.92 59.79L865.12 59.79M872.37 53.21L877.41 58.25M872.37 58.25L877.41 53.21M874.89 52.93L874.89 58.53M872.79 55.73L876.99 55.73M884.24 51.06L889.28 56.10M884.24 56.10L889.28 51.06M886.76 50.78L886.76 56.38M884.66 53.58L888.86 53.58M896.12 51.06L901.16 56.10M896.12 56.10L901.16 51.06M898.64 50.78L898.64 56.38M896.54 53.58L900.74 53.58M907.99 51.78L913.03 56.82M907.99 56.82L913.03 51.78M910.51 51.50L910.51 57.10M908.41 54.30L912.61 54.30M919.86 54.64L924.90 59.68M919.86 59.68L924.90 54.64M922.38 54.36L922.38 59.96M920.28 57.16L924.48 57.16M931.73 58.70L936.77 63.74M931.73 63.74L936.77 58.70M934.25 58.42L934.25 64.02M932.15 61.22L936.35 61.22M943.61 63.96L948.65 69.00M943.61 69.00L948.65 63.96M946.13 63.68L946.13 69.28M944.03 66.48L948.23 66.48M955.48 69.69L960.52 74.73M955.48 74.73L960.52 69.69M958.00 69.41L958.00 75.01M955.90 72.21L960.10 72.21" stroke="#0000ff" stroke-width="1.05"/>
<path d="M673.05 71.49L684.92 76.27L696.80 79.14L708.67 82.00L720.54 83.68L732.41 85.59L744.29 87.50L756.16 90.36L768.03 92.75L779.91 94.42L791.78 96.34L803.65 96.81L815.52 96.34L827.40 92.27L839.27 86.06L851.14 77.94L863.02 68.39L874.89 58.36L886.76 50.00L898.64 43.55L910.51 37.10L922.38 41.64L934.25 50.95L946.13 62.90L958.00 73.40" stroke="#ff0000"/>
<path d="M670.53 68.97L675.57 74.01M670.53 74.01L675.57 68.97M673.05 68.69L673.05 74.29M670.95 71.49L675.15 71.49M682.40 73.75L687.44 78.79M682.40 78.79L687.44 73.75M684.92 73.47L684.92 79.07M682.82 76.27L687.02 76.27M694.28 76.62L699.32 81.66M694.28 81.66L699.32 76.62M696.80 76.34L696.80 81.94M694.70 79.14L698.90 79.14M706.15 79.48L711.19 84.52M706.15 84.52L711.19 79.48M708.67 79.20L708.67 84.80M706.57 82.00L710.77 82.00M718.02 81.16L723.06 86.20M718.02 86.20L723.06 81.16M720.54 80.88L720.54 86.48M718.44 83.68L722.64 83.68M729.89 83.07L734.93 88.11M729.89 88.11L734.93 83.07M732.41 82.79L732.41 88.39M730.31 85.59L734.51 85.59M741.77 84.98L746.81 90.02M741.77 90.02L746.81 84.98M744.29 84.70L744.29 90.30M742.19 87.50L746.39 87.50M753.64 87.84L758.68 92.88M753.64 92.88L758.68 87.84M756.16 87.56L756.16 93.16M754.06 90.36L758.26 90.36M765.51 90.23L770.55 95.27M765.51 95.27L770.55 90.23M768.03 89.95L768.03 95.55M765.93 92.75L770.13 92.75M777.39 91.90L782.43 96.94M777.39 96.94L782.43 91.90M779.91 91.62L779.91 97.22M777.81 94.42L782.01 94.42M789.26 93.82L794.30 98.86M789.26 98.86L794.30 93.82M791.78 93.54L791.78 99.14M789.68 96.34L793.88 96.34M801.13 94.29L806.17 99.33M801.13 99.33L806.17 94.29M803.65 94.01L803.65 99.61M801.55 96.81L805.75 96.81M813.00 93.82L818.04 98.86M813.00 98.86L818.04 93.82M815.52 93.54L815.52 99.14M813.42 96.34L817.62 96.34M824.88 89.75L829.92 94.79M824.88 94.79L829.92 89.75M827.40 89.47L827.40 95.07M825.30 92.27L829.50 92.27M836.75 83.54L841.79 88.58M836.75 88.58L841.79 83.54M839.27 83.26L839.27 88.86M837.17 86.06L841.37 86.06M848.62 75.42L853.66 80.46M848.62 80.46L853.66 75.42M851.14 75.14L851.14 80.74M849.04 77.94L853.24 77.94M860.50 65.87L865.54 70.91M860.50 70.91L865.54 65.87M863.02 65.59L863.02 71.19M860.92 68.39L865.12 68.39M872.37 55.84L877.41 60.88M872.37 60.88L877.41 55.84M874.89 55.56L874.89 61.16M872.79 58.36L876.99 58.36M884.24 47.48L889.28 52.52M884.24 52.52L889.28 47.48M886.76 47.20L886.76 52.80M884.66 50.00L888.86 50.00M896.12 41.03L901.16 46.07M896.12 46.07L901.16 41.03M898.64 40.75L898.64 46.35M896.54 43.55L900.74 43.55M907.99 34.58L913.03 39.62M907.99 39.62L913.03 34.58M910.51 34.30L910.51 39.90M908.41 37.10L912.61 37.10M919.86 39.12L924.90 44.16M919.86 44.16L924.90 39.12M922.38 38.84L922.38 44.44M920.28 41.64L924.48 41.64M931.73 48.43L936.77 53.47M931.73 53.47L936.77 48.43M934.25 48.15L934.25 53.75M932.15 50.95L936.35 50.95M943.61 60.38L948.65 65.42M943.61 65.42L948.65 60.38M946.13 60.10L946.13 65.70M944.03 62.90L948.23 62.90M955.48 70.88L960.52 75.92M955.48 75.92L960.52 70.88M958.00 70.60L958.00 76.20M955.90 73.40L960.10 73.40" stroke="#ff0000" stroke-width="1.05"/>
</g>
<path d="M674.05 98.01H958.00M674.05 86.06H958.00M674.05 74.12H958.00M674.05 62.18H958.00M674.05 50.24H958.00M674.05 38.29H958.00" stroke="#000" stroke-width="1.1" stroke-dasharray="1.15 1.95" fill="none"/>
<path d="M720.54 27.10V109.95M768.03 27.10V109.95M815.52 27.10V109.95M863.02 27.10V109.95M910.51 27.10V109.95" stroke="#000" stroke-width="1.1" stroke-dasharray="1.15 1.95" fill="none"/>
<path d="M696.80 26.10v3.8M696.80 109.95v-3.8M720.54 26.10v4.6M720.54 109.95v-4.6M744.29 26.10v3.8M744.29 109.95v-3.8M768.03 26.10v4.6M768.03 109.95v-4.6M791.78 26.10v3.8M791.78 109.95v-3.8M815.52 26.10v4.6M815.52 109.95v-4.6M839.27 26.10v3.8M839.27 109.95v-3.8M863.02 26.10v4.6M863.02 109.95v-4.6M886.76 26.10v3.8M886.76 109.95v-3.8M910.51 26.10v4.6M910.51 109.95v-4.6M934.25 26.10v3.8M934.25 109.95v-3.8M673.05 103.98h3.8M958.00 103.98h-3.8M673.05 98.01h6.2M958.00 98.01h-6.2M673.05 92.04h3.8M958.00 92.04h-3.8M673.05 86.06h6.2M958.00 86.06h-6.2M673.05 80.09h3.8M958.00 80.09h-3.8M673.05 74.12h6.2M958.00 74.12h-6.2M673.05 68.15h3.8M958.00 68.15h-3.8M673.05 62.18h6.2M958.00 62.18h-6.2M673.05 56.21h3.8M958.00 56.21h-3.8M673.05 50.24h6.2M958.00 50.24h-6.2M673.05 44.26h3.8M958.00 44.26h-3.8M673.05 38.29h6.2M958.00 38.29h-6.2M673.05 32.32h3.8M958.00 32.32h-3.8" stroke="#111" stroke-width="1.2" fill="none"/>
<rect x="673.05" y="26.1" width="284.95" height="83.85" fill="none" stroke="#111" stroke-width="1.7"/>
<g clip-path="url(#s1)" fill="none" stroke-width="1.05">
<path d="M670.53 64.91L675.57 69.95M670.53 69.95L675.57 64.91M673.05 64.63L673.05 70.23M670.95 67.43L675.15 67.43M955.48 85.46L960.52 90.50M955.48 90.50L960.52 85.46M958.00 85.18L958.00 90.78M955.90 87.98L960.10 87.98" stroke="#00ffff"/>
<path d="M670.53 85.46L675.57 90.50M670.53 90.50L675.57 85.46M673.05 85.18L673.05 90.78M670.95 87.98L675.15 87.98M955.48 61.33L960.52 66.37M955.48 66.37L960.52 61.33M958.00 61.05L958.00 66.65M955.90 63.85L960.10 63.85" stroke="#00ff00"/>
<path d="M670.53 60.85L675.57 65.89M670.53 65.89L675.57 60.85M673.05 60.57L673.05 66.17M670.95 63.37L675.15 63.37M955.48 69.69L960.52 74.73M955.48 74.73L960.52 69.69M958.00 69.41L958.00 75.01M955.90 72.21L960.10 72.21" stroke="#0000ff"/>
<path d="M670.53 68.97L675.57 74.01M670.53 74.01L675.57 68.97M673.05 68.69L673.05 74.29M670.95 71.49L675.15 71.49M955.48 70.88L960.52 75.92M955.48 75.92L960.52 70.88M958.00 70.60L958.00 76.20M955.90 73.40L960.10 73.40" stroke="#ff0000"/>
</g>
<text x="673.05" y="121.05" font-family="Liberation Serif, serif" font-weight="bold" font-size="8.6" stroke="#000" stroke-width="0.2" text-anchor="middle" textLength="5.1" lengthAdjust="spacingAndGlyphs">0</text>
<text x="720.54" y="121.05" font-family="Liberation Serif, serif" font-weight="bold" font-size="8.6" stroke="#000" stroke-width="0.2" text-anchor="middle" textLength="5.1" lengthAdjust="spacingAndGlyphs">4</text>
<text x="768.03" y="121.05" font-family="Liberation Serif, serif" font-weight="bold" font-size="8.6" stroke="#000" stroke-width="0.2" text-anchor="middle" textLength="5.1" lengthAdjust="spacingAndGlyphs">8</text>
<text x="815.52" y="121.05" font-family="Liberation Serif, serif" font-weight="bold" font-size="8.6" stroke="#000" stroke-width="0.2" text-anchor="middle" textLength="10.2" lengthAdjust="spacingAndGlyphs">12</text>
<text x="863.02" y="121.05" font-family="Liberation Serif, serif" font-weight="bold" font-size="8.6" stroke="#000" stroke-width="0.2" text-anchor="middle" textLength="10.2" lengthAdjust="spacingAndGlyphs">16</text>
<text x="910.51" y="121.05" font-family="Liberation Serif, serif" font-weight="bold" font-size="8.6" stroke="#000" stroke-width="0.2" text-anchor="middle" textLength="10.2" lengthAdjust="spacingAndGlyphs">20</text>
<text x="958.00" y="121.05" font-family="Liberation Serif, serif" font-weight="bold" font-size="8.6" stroke="#000" stroke-width="0.2" text-anchor="middle" textLength="10.2" lengthAdjust="spacingAndGlyphs">24</text>
<text x="668.45" y="112.85" font-family="Liberation Sans, sans-serif" font-weight="bold" font-size="8.5" stroke="#000" stroke-width="0.25" text-anchor="end" textLength="10.0" lengthAdjust="spacingAndGlyphs">20</text>
<text x="668.45" y="100.91" font-family="Liberation Sans, sans-serif" font-weight="bold" font-size="8.5" stroke="#000" stroke-width="0.25" text-anchor="end" textLength="10.0" lengthAdjust="spacingAndGlyphs">25</text>
<text x="668.45" y="88.96" font-family="Liberation Sans, sans-serif" font-weight="bold" font-size="8.5" stroke="#000" stroke-width="0.25" text-anchor="end" textLength="10.0" lengthAdjust="spacingAndGlyphs">30</text>
<text x="668.45" y="77.02" font-family="Liberation Sans, sans-serif" font-weight="bold" font-size="8.5" stroke="#000" stroke-width="0.25" text-anchor="end" textLength="10.0" lengthAdjust="spacingAndGlyphs">35</text>
<text x="668.45" y="65.08" font-family="Liberation Sans, sans-serif" font-weight="bold" font-size="8.5" stroke="#000" stroke-width="0.25" text-anchor="end" textLength="10.0" lengthAdjust="spacingAndGlyphs">40</text>
<text x="668.45" y="53.14" font-family="Liberation Sans, sans-serif" font-weight="bold" font-size="8.5" stroke="#000" stroke-width="0.25" text-anchor="end" textLength="10.0" lengthAdjust="spacingAndGlyphs">45</text>
<text x="668.45" y="41.19" font-family="Liberation Sans, sans-serif" font-weight="bold" font-size="8.5" stroke="#000" stroke-width="0.25" text-anchor="end" textLength="10.0" lengthAdjust="spacingAndGlyphs">50</text>
<text x="668.45" y="29.25" font-family="Liberation Sans, sans-serif" font-weight="bold" font-size="8.5" stroke="#000" stroke-width="0.25" text-anchor="end" textLength="10.0" lengthAdjust="spacingAndGlyphs">55</text>
<text x="934.00" y="22.70" font-family="Liberation Serif, serif" font-weight="bold" font-size="7.8" stroke="#000" stroke-width="0.25" text-anchor="end" textLength="14.0" lengthAdjust="spacingAndGlyphs">AQI</text>
<text x="959.30" y="22.70" font-family="Liberation Serif, serif" font-weight="bold" font-size="7.8" stroke="#000" stroke-width="0.25" text-anchor="end" textLength="21.1" lengthAdjust="spacingAndGlyphs">(AQI)</text>
<g clip-path="url(#c2)" fill="none" stroke-width="1.1" stroke-linecap="butt">
<path d="M23.05 204.99L34.92 207.08L46.80 208.75L58.67 210.32L70.54 210.63L82.41 209.59L94.29 207.50L106.16 206.25L118.03 202.27L129.91 202.27L141.78 202.27L153.65 199.77L165.53 192.66L177.40 198.09L189.27 195.38L201.14 190.15L213.02 193.08L224.89 183.05L236.76 186.39L248.64 193.91L260.51 194.54L272.38 193.50L284.25 194.54L296.13 196.42L308.00 203.95" stroke="#00ffff"/>
<path d="M20.53 202.47L25.57 207.51M20.53 207.51L25.57 202.47M23.05 202.19L23.05 207.79M20.95 204.99L25.15 204.99M32.40 204.56L37.44 209.60M32.40 209.60L37.44 204.56M34.92 204.28L34.92 209.88M32.82 207.08L37.02 207.08M44.28 206.23L49.32 211.27M44.28 211.27L49.32 206.23M46.80 205.95L46.80 211.55M44.70 208.75L48.90 208.75M56.15 207.80L61.19 212.84M56.15 212.84L61.19 207.80M58.67 207.52L58.67 213.12M56.57 210.32L60.77 210.32M68.02 208.11L73.06 213.16M68.02 213.16L73.06 208.11M70.54 207.83L70.54 213.44M68.44 210.63L72.64 210.63M79.89 207.07L84.93 212.11M79.89 212.11L84.93 207.07M82.41 206.79L82.41 212.39M80.31 209.59L84.51 209.59M91.77 204.98L96.81 210.02M91.77 210.02L96.81 204.98M94.29 204.70L94.29 210.30M92.19 207.50L96.39 207.50M103.64 203.73L108.68 208.77M103.64 208.77L108.68 203.73M106.16 203.45L106.16 209.05M104.06 206.25L108.26 206.25M115.51 199.75L120.55 204.79M115.51 204.79L120.55 199.75M118.03 199.47L118.03 205.07M115.93 202.27L120.13 202.27M127.39 199.75L132.43 204.79M127.39 204.79L132.43 199.75M129.91 199.47L129.91 205.07M127.81 202.27L132.01 202.27M139.26 199.75L144.30 204.79M139.26 204.79L144.30 199.75M141.78 199.47L141.78 205.07M139.68 202.27L143.88 202.27M151.13 197.25L156.17 202.29M151.13 202.29L156.17 197.25M153.65 196.97L153.65 202.57M151.55 199.77L155.75 199.77M163.00 190.14L168.05 195.18M163.00 195.18L168.05 190.14M165.53 189.86L165.53 195.46M163.43 192.66L167.62 192.66M174.88 195.57L179.92 200.62M174.88 200.62L179.92 195.57M177.40 195.29L177.40 200.90M175.30 198.09L179.50 198.09M186.75 192.86L191.79 197.90M186.75 197.90L191.79 192.86M189.27 192.58L189.27 198.18M187.17 195.38L191.37 195.38M198.62 187.63L203.66 192.67M198.62 192.67L203.66 187.63M201.14 187.35L201.14 192.95M199.04 190.15L203.24 190.15M210.50 190.56L215.54 195.60M210.50 195.60L215.54 190.56M213.02 190.28L213.02 195.88M210.92 193.08L215.12 193.08M222.37 180.53L227.41 185.57M222.37 185.57L227.41 180.53M224.89 180.25L224.89 185.85M222.79 183.05L226.99 183.05M234.24 183.87L239.28 188.91M234.24 188.91L239.28 183.87M236.76 183.59L236.76 189.19M234.66 186.39L238.86 186.39M246.12 191.39L251.16 196.44M246.12 196.44L251.16 191.39M248.64 191.11L248.64 196.72M246.54 193.91L250.74 193.91M257.99 192.02L263.03 197.06M257.99 197.06L263.03 192.02M260.51 191.74L260.51 197.34M258.41 194.54L262.61 194.54M269.86 190.98L274.90 196.02M269.86 196.02L274.90 190.98M272.38 190.70L272.38 196.30M270.28 193.50L274.48 193.50M281.73 192.02L286.77 197.06M281.73 197.06L286.77 192.02M284.25 191.74L284.25 197.34M282.15 194.54L286.35 194.54M293.61 193.90L298.65 198.94M293.61 198.94L298.65 193.90M296.13 193.62L296.13 199.22M294.03 196.42L298.23 196.42M305.48 201.43L310.52 206.47M305.48 206.47L310.52 201.43M308.00 201.15L308.00 206.75M305.90 203.95L310.10 203.95" stroke="#00ffff" stroke-width="1.05"/>
<path d="M23.05 205.41L34.92 207.08L46.80 208.75L58.67 209.80L70.54 209.59L82.41 209.59L94.29 205.41L106.16 198.30L118.03 197.26L129.91 196.84L141.78 197.57L153.65 199.35L165.53 203.74L177.40 203.53L189.27 203.11L201.14 202.27L213.02 199.14L224.89 197.05L236.76 196.00L248.64 193.91L260.51 196.63L272.38 200.60L284.25 199.77L296.13 200.19L308.00 203.53" stroke="#00ff00"/>
<path d="M20.53 202.89L25.57 207.93M20.53 207.93L25.57 202.89M23.05 202.61L23.05 208.21M20.95 205.41L25.15 205.41M32.40 204.56L37.44 209.60M32.40 209.60L37.44 204.56M34.92 204.28L34.92 209.88M32.82 207.08L37.02 207.08M44.28 206.23L49.32 211.27M44.28 211.27L49.32 206.23M46.80 205.95L46.80 211.55M44.70 208.75L48.90 208.75M56.15 207.28L61.19 212.32M56.15 212.32L61.19 207.28M58.67 207.00L58.67 212.60M56.57 209.80L60.77 209.80M68.02 207.07L73.06 212.11M68.02 212.11L73.06 207.07M70.54 206.79L70.54 212.39M68.44 209.59L72.64 209.59M79.89 207.07L84.93 212.11M79.89 212.11L84.93 207.07M82.41 206.79L82.41 212.39M80.31 209.59L84.51 209.59M91.77 202.89L96.81 207.93M91.77 207.93L96.81 202.89M94.29 202.61L94.29 208.21M92.19 205.41L96.39 205.41M103.64 195.78L108.68 200.82M103.64 200.82L108.68 195.78M106.16 195.50L106.16 201.10M104.06 198.30L108.26 198.30M115.51 194.74L120.55 199.78M115.51 199.78L120.55 194.74M118.03 194.46L118.03 200.06M115.93 197.26L120.13 197.26M127.39 194.32L132.43 199.36M127.39 199.36L132.43 194.32M129.91 194.04L129.91 199.64M127.81 196.84L132.01 196.84M139.26 195.05L144.30 200.09M139.26 200.09L144.30 195.05M141.78 194.77L141.78 200.37M139.68 197.57L143.88 197.57M151.13 196.83L156.17 201.87M151.13 201.87L156.17 196.83M153.65 196.55L153.65 202.15M151.55 199.35L155.75 199.35M163.00 201.22L168.05 206.26M163.00 206.26L168.05 201.22M165.53 200.94L165.53 206.54M163.43 203.74L167.62 203.74M174.88 201.01L179.92 206.05M174.88 206.05L179.92 201.01M177.40 200.73L177.40 206.33M175.30 203.53L179.50 203.53M186.75 200.59L191.79 205.63M186.75 205.63L191.79 200.59M189.27 200.31L189.27 205.91M187.17 203.11L191.37 203.11M198.62 199.75L203.66 204.79M198.62 204.79L203.66 199.75M201.14 199.47L201.14 205.07M199.04 202.27L203.24 202.27M210.50 196.62L215.54 201.66M210.50 201.66L215.54 196.62M213.02 196.34L213.02 201.94M210.92 199.14L215.12 199.14M222.37 194.53L227.41 199.57M222.37 199.57L227.41 194.53M224.89 194.25L224.89 199.85M222.79 197.05L226.99 197.05M234.24 193.48L239.28 198.53M234.24 198.53L239.28 193.48M236.76 193.20L236.76 198.81M234.66 196.00L238.86 196.00M246.12 191.39L251.16 196.44M246.12 196.44L251.16 191.39M248.64 191.11L248.64 196.72M246.54 193.91L250.74 193.91M257.99 194.11L263.03 199.15M257.99 199.15L263.03 194.11M260.51 193.83L260.51 199.43M258.41 196.63L262.61 196.63M269.86 198.08L274.90 203.12M269.86 203.12L274.90 198.08M272.38 197.80L272.38 203.40M270.28 200.60L274.48 200.60M281.73 197.25L286.77 202.29M281.73 202.29L286.77 197.25M284.25 196.97L284.25 202.57M282.15 199.77L286.35 199.77M293.61 197.66L298.65 202.71M293.61 202.71L298.65 197.66M296.13 197.38L296.13 202.99M294.03 200.19L298.23 200.19M305.48 201.01L310.52 206.05M305.48 206.05L310.52 201.01M308.00 200.73L308.00 206.33M305.90 203.53L310.10 203.53" stroke="#00ff00" stroke-width="1.05"/>
<path d="M23.05 203.74L34.92 205.62L46.80 207.08L58.67 208.96L70.54 207.50L82.41 208.75L94.29 207.50L106.16 200.60L118.03 200.60L129.91 203.32L141.78 202.90L153.65 202.90L165.53 204.36L177.40 203.11L189.27 202.07L201.14 199.56L213.02 198.09L224.89 197.05L236.76 196.00L248.64 201.23L260.51 203.53L272.38 204.57L284.25 207.29L296.13 206.25L308.00 205.62" stroke="#0000ff"/>
<path d="M20.53 201.22L25.57 206.26M20.53 206.26L25.57 201.22M23.05 200.94L23.05 206.54M20.95 203.74L25.15 203.74M32.40 203.10L37.44 208.14M32.40 208.14L37.44 203.10M34.92 202.82L34.92 208.42M32.82 205.62L37.02 205.62M44.28 204.56L49.32 209.60M44.28 209.60L49.32 204.56M46.80 204.28L46.80 209.88M44.70 207.08L48.90 207.08M56.15 206.44L61.19 211.48M56.15 211.48L61.19 206.44M58.67 206.16L58.67 211.76M56.57 208.96L60.77 208.96M68.02 204.98L73.06 210.02M68.02 210.02L73.06 204.98M70.54 204.70L70.54 210.30M68.44 207.50L72.64 207.50M79.89 206.23L84.93 211.27M79.89 211.27L84.93 206.23M82.41 205.95L82.41 211.55M80.31 208.75L84.51 208.75M91.77 204.98L96.81 210.02M91.77 210.02L96.81 204.98M94.29 204.70L94.29 210.30M92.19 207.50L96.39 207.50M103.64 198.08L108.68 203.12M103.64 203.12L108.68 198.08M106.16 197.80L106.16 203.40M104.06 200.60L108.26 200.60M115.51 198.08L120.55 203.12M115.51 203.12L120.55 198.08M118.03 197.80L118.03 203.40M115.93 200.60L120.13 200.60M127.39 200.80L132.43 205.84M127.39 205.84L132.43 200.80M129.91 200.52L129.91 206.12M127.81 203.32L132.01 203.32M139.26 200.38L144.30 205.42M139.26 205.42L144.30 200.38M141.78 200.10L141.78 205.70M139.68 202.90L143.88 202.90M151.13 200.38L156.17 205.42M151.13 205.42L156.17 200.38M153.65 200.10L153.65 205.70M151.55 202.90L155.75 202.90M163.00 201.84L168.05 206.88M163.00 206.88L168.05 201.84M165.53 201.56L165.53 207.16M163.43 204.36L167.62 204.36M174.88 200.59L179.92 205.63M174.88 205.63L179.92 200.59M177.40 200.31L177.40 205.91M175.30 203.11L179.50 203.11M186.75 199.55L191.79 204.59M186.75 204.59L191.79 199.55M189.27 199.27L189.27 204.87M187.17 202.07L191.37 202.07M198.62 197.04L203.66 202.08M198.62 202.08L203.66 197.04M201.14 196.76L201.14 202.36M199.04 199.56L203.24 199.56M210.50 195.57L215.54 200.62M210.50 200.62L215.54 195.57M213.02 195.29L213.02 200.90M210.92 198.09L215.12 198.09M222.37 194.53L227.41 199.57M222.37 199.57L227.41 194.53M224.89 194.25L224.89 199.85M222.79 197.05L226.99 197.05M234.24 193.48L239.28 198.53M234.24 198.53L239.28 193.48M236.76 193.20L236.76 198.81M234.66 196.00L238.86 196.00M246.12 198.71L251.16 203.75M246.12 203.75L251.16 198.71M248.64 198.43L248.64 204.03M246.54 201.23L250.74 201.23M257.99 201.01L263.03 206.05M257.99 206.05L263.03 201.01M260.51 200.73L260.51 206.33M258.41 203.53L262.61 203.53M269.86 202.05L274.90 207.09M269.86 207.09L274.90 202.05M272.38 201.77L272.38 207.37M270.28 204.57L274.48 204.57M281.73 204.77L286.77 209.81M281.73 209.81L286.77 204.77M284.25 204.49L284.25 210.09M282.15 207.29L286.35 207.29M293.61 203.73L298.65 208.77M293.61 208.77L298.65 203.73M296.13 203.45L296.13 209.05M294.03 206.25L298.23 206.25M305.48 203.10L310.52 208.14M305.48 208.14L310.52 203.10M308.00 202.82L308.00 208.42M305.90 205.62L310.10 205.62" stroke="#0000ff" stroke-width="1.05"/>
<path d="M23.05 204.99L34.92 207.08L46.80 208.34L58.67 209.17L70.54 208.96L82.41 208.13L94.29 204.16L106.16 199.35L118.03 200.81L129.91 199.98L141.78 202.90L153.65 202.90L165.53 206.25L177.40 208.75L189.27 208.13L201.14 206.25L213.02 202.27L224.89 200.81L236.76 190.57L248.64 196.63L260.51 152.95L272.38 144.59L284.25 136.44L296.13 140.20L308.00 163.82" stroke="#ff0000"/>
<path d="M20.53 202.47L25.57 207.51M20.53 207.51L25.57 202.47M23.05 202.19L23.05 207.79M20.95 204.99L25.15 204.99M32.40 204.56L37.44 209.60M32.40 209.60L37.44 204.56M34.92 204.28L34.92 209.88M32.82 207.08L37.02 207.08M44.28 205.82L49.32 210.86M44.28 210.86L49.32 205.82M46.80 205.54L46.80 211.14M44.70 208.34L48.90 208.34M56.15 206.65L61.19 211.69M56.15 211.69L61.19 206.65M58.67 206.37L58.67 211.97M56.57 209.17L60.77 209.17M68.02 206.44L73.06 211.48M68.02 211.48L73.06 206.44M70.54 206.16L70.54 211.76M68.44 208.96L72.64 208.96M79.89 205.61L84.93 210.65M79.89 210.65L84.93 205.61M82.41 205.33L82.41 210.93M80.31 208.13L84.51 208.13M91.77 201.64L96.81 206.68M91.77 206.68L96.81 201.64M94.29 201.36L94.29 206.96M92.19 204.16L96.39 204.16M103.64 196.83L108.68 201.87M103.64 201.87L108.68 196.83M106.16 196.55L106.16 202.15M104.06 199.35L108.26 199.35M115.51 198.29L120.55 203.33M115.51 203.33L120.55 198.29M118.03 198.01L118.03 203.61M115.93 200.81L120.13 200.81M127.39 197.46L132.43 202.50M127.39 202.50L132.43 197.46M129.91 197.18L129.91 202.78M127.81 199.98L132.01 199.98M139.26 200.38L144.30 205.42M139.26 205.42L144.30 200.38M141.78 200.10L141.78 205.70M139.68 202.90L143.88 202.90M151.13 200.38L156.17 205.42M151.13 205.42L156.17 200.38M153.65 200.10L153.65 205.70M151.55 202.90L155.75 202.90M163.00 203.73L168.05 208.77M163.00 208.77L168.05 203.73M165.53 203.45L165.53 209.05M163.43 206.25L167.62 206.25M174.88 206.23L179.92 211.27M174.88 211.27L179.92 206.23M177.40 205.95L177.40 211.55M175.30 208.75L179.50 208.75M186.75 205.61L191.79 210.65M186.75 210.65L191.79 205.61M189.27 205.33L189.27 210.93M187.17 208.13L191.37 208.13M198.62 203.73L203.66 208.77M198.62 208.77L203.66 203.73M201.14 203.45L201.14 209.05M199.04 206.25L203.24 206.25M210.50 199.75L215.54 204.79M210.50 204.79L215.54 199.75M213.02 199.47L213.02 205.07M210.92 202.27L215.12 202.27M222.37 198.29L227.41 203.33M222.37 203.33L227.41 198.29M224.89 198.01L224.89 203.61M222.79 200.81L226.99 200.81M234.24 188.05L239.28 193.09M234.24 193.09L239.28 188.05M236.76 187.77L236.76 193.37M234.66 190.57L238.86 190.57M246.12 194.11L251.16 199.15M246.12 199.15L251.16 194.11M248.64 193.83L248.64 199.43M246.54 196.63L250.74 196.63M257.99 150.43L263.03 155.47M257.99 155.47L263.03 150.43M260.51 150.15L260.51 155.75M258.41 152.95L262.61 152.95M269.86 142.07L274.90 147.11M269.86 147.11L274.90 142.07M272.38 141.79L272.38 147.39M270.28 144.59L274.48 144.59M281.73 133.92L286.77 138.96M281.73 138.96L286.77 133.92M284.25 133.64L284.25 139.24M282.15 136.44L286.35 136.44M293.61 137.68L298.65 142.72M293.61 142.72L298.65 137.68M296.13 137.40L296.13 143.00M294.03 140.20L298.23 140.20M305.48 161.30L310.52 166.34M305.48 166.34L310.52 161.30M308.00 161.02L308.00 166.62M305.90 163.82L310.10 163.82" stroke="#ff0000" stroke-width="1.05"/>
</g>
<path d="M24.05 207.50H308.00M24.05 197.05H308.00M24.05 186.60H308.00M24.05 176.15H308.00M24.05 165.70H308.00M24.05 155.25H308.00M24.05 144.80H308.00" stroke="#000" stroke-width="1.1" stroke-dasharray="1.15 1.95" fill="none"/>
<path d="M70.54 135.10V217.95M118.03 135.10V217.95M165.53 135.10V217.95M213.02 135.10V217.95M260.51 135.10V217.95" stroke="#000" stroke-width="1.1" stroke-dasharray="1.15 1.95" fill="none"/>
<path d="M46.80 134.10v3.8M46.80 217.95v-3.8M70.54 134.10v4.6M70.54 217.95v-4.6M94.29 134.10v3.8M94.29 217.95v-3.8M118.03 134.10v4.6M118.03 217.95v-4.6M141.78 134.10v3.8M141.78 217.95v-3.8M165.53 134.10v4.6M165.53 217.95v-4.6M189.27 134.10v3.8M189.27 217.95v-3.8M213.02 134.10v4.6M213.02 217.95v-4.6M236.76 134.10v3.8M236.76 217.95v-3.8M260.51 134.10v4.6M260.51 217.95v-4.6M284.25 134.10v3.8M284.25 217.95v-3.8M23.05 212.72h3.8M308.00 212.72h-3.8M23.05 207.50h6.2M308.00 207.50h-6.2M23.05 202.27h3.8M308.00 202.27h-3.8M23.05 197.05h6.2M308.00 197.05h-6.2M23.05 191.82h3.8M308.00 191.82h-3.8M23.05 186.60h6.2M308.00 186.60h-6.2M23.05 181.38h3.8M308.00 181.38h-3.8M23.05 176.15h6.2M308.00 176.15h-6.2M23.05 170.92h3.8M308.00 170.92h-3.8M23.05 165.70h6.2M308.00 165.70h-6.2M23.05 160.47h3.8M308.00 160.47h-3.8M23.05 155.25h6.2M308.00 155.25h-6.2M23.05 150.02h3.8M308.00 150.02h-3.8M23.05 144.80h6.2M308.00 144.80h-6.2M23.05 139.57h3.8M308.00 139.57h-3.8" stroke="#111" stroke-width="1.2" fill="none"/>
<rect x="23.05" y="134.1" width="284.95" height="83.85" fill="none" stroke="#111" stroke-width="1.7"/>
<g clip-path="url(#s2)" fill="none" stroke-width="1.05">
<path d="M20.53 202.47L25.57 207.51M20.53 207.51L25.57 202.47M23.05 202.19L23.05 207.79M20.95 204.99L25.15 204.99M305.48 201.43L310.52 206.47M305.48 206.47L310.52 201.43M308.00 201.15L308.00 206.75M305.90 203.95L310.10 203.95" stroke="#00ffff"/>
<path d="M20.53 202.89L25.57 207.93M20.53 207.93L25.57 202.89M23.05 202.61L23.05 208.21M20.95 205.41L25.15 205.41M305.48 201.01L310.52 206.05M305.48 206.05L310.52 201.01M308.00 200.73L308.00 206.33M305.90 203.53L310.10 203.53" stroke="#00ff00"/>
<path d="M20.53 201.22L25.57 206.26M20.53 206.26L25.57 201.22M23.05 200.94L23.05 206.54M20.95 203.74L25.15 203.74M305.48 203.10L310.52 208.14M305.48 208.14L310.52 203.10M308.00 202.82L308.00 208.42M305.90 205.62L310.10 205.62" stroke="#0000ff"/>
<path d="M20.53 202.47L25.57 207.51M20.53 207.51L25.57 202.47M23.05 202.19L23.05 207.79M20.95 204.99L25.15 204.99M281.73 133.92L286.77 138.96M281.73 138.96L286.77 133.92M284.25 133.64L284.25 139.24M282.15 136.44L286.35 136.44M305.48 161.30L310.52 166.34M305.48 166.34L310.52 161.30M308.00 161.02L308.00 166.62M305.90 163.82L310.10 163.82" stroke="#ff0000"/>
</g>
<text x="23.05" y="229.05" font-family="Liberation Serif, serif" font-weight="bold" font-size="8.6" stroke="#000" stroke-width="0.2" text-anchor="middle" textLength="5.1" lengthAdjust="spacingAndGlyphs">0</text>
<text x="70.54" y="229.05" font-family="Liberation Serif, serif" font-weight="bold" font-size="8.6" stroke="#000" stroke-width="0.2" text-anchor="middle" textLength="5.1" lengthAdjust="spacingAndGlyphs">4</text>
<text x="118.03" y="229.05" font-family="Liberation Serif, serif" font-weight="bold" font-size="8.6" stroke="#000" stroke-width="0.2" text-anchor="middle" textLength="5.1" lengthAdjust="spacingAndGlyphs">8</text>
<text x="165.53" y="229.05" font-family="Liberation Serif, serif" font-weight="bold" font-size="8.6" stroke="#000" stroke-width="0.2" text-anchor="middle" textLength="10.2" lengthAdjust="spacingAndGlyphs">12</text>
<text x="213.02" y="229.05" font-family="Liberation Serif, serif" font-weight="bold" font-size="8.6" stroke="#000" stroke-width="0.2" text-anchor="middle" textLength="10.2" lengthAdjust="spacingAndGlyphs">16</text>
<text x="260.51" y="229.05" font-family="Liberation Serif, serif" font-weight="bold" font-size="8.6" stroke="#000" stroke-width="0.2" text-anchor="middle" textLength="10.2" lengthAdjust="spacingAndGlyphs">20</text>
<text x="308.00" y="229.05" font-family="Liberation Serif, serif" font-weight="bold" font-size="8.6" stroke="#000" stroke-width="0.2" text-anchor="middle" textLength="10.2" lengthAdjust="spacingAndGlyphs">24</text>
<text x="18.45" y="220.85" font-family="Liberation Sans, sans-serif" font-weight="bold" font-size="8.5" stroke="#000" stroke-width="0.25" text-anchor="end" textLength="5.0" lengthAdjust="spacingAndGlyphs">0</text>
<text x="18.45" y="210.40" font-family="Liberation Sans, sans-serif" font-weight="bold" font-size="8.5" stroke="#000" stroke-width="0.25" text-anchor="end" textLength="5.0" lengthAdjust="spacingAndGlyphs">5</text>
<text x="18.45" y="199.95" font-family="Liberation Sans, sans-serif" font-weight="bold" font-size="8.5" stroke="#000" stroke-width="0.25" text-anchor="end" textLength="10.0" lengthAdjust="spacingAndGlyphs">10</text>
<text x="18.45" y="189.50" font-family="Liberation Sans, sans-serif" font-weight="bold" font-size="8.5" stroke="#000" stroke-width="0.25" text-anchor="end" textLength="10.0" lengthAdjust="spacingAndGlyphs">15</text>
<text x="18.45" y="179.05" font-family="Liberation Sans, sans-serif" font-weight="bold" font-size="8.5" stroke="#000" stroke-width="0.25" text-anchor="end" textLength="10.0" lengthAdjust="spacingAndGlyphs">20</text>
<text x="18.45" y="168.60" font-family="Liberation Sans, sans-serif" font-weight="bold" font-size="8.5" stroke="#000" stroke-width="0.25" text-anchor="end" textLength="10.0" lengthAdjust="spacingAndGlyphs">25</text>
<text x="18.45" y="158.15" font-family="Liberation Sans, sans-serif" font-weight="bold" font-size="8.5" stroke="#000" stroke-width="0.25" text-anchor="end" textLength="10.0" lengthAdjust="spacingAndGlyphs">30</text>
<text x="18.45" y="147.70" font-family="Liberation Sans, sans-serif" font-weight="bold" font-size="8.5" stroke="#000" stroke-width="0.25" text-anchor="end" textLength="10.0" lengthAdjust="spacingAndGlyphs">35</text>
<text x="18.45" y="137.25" font-family="Liberation Sans, sans-serif" font-weight="bold" font-size="8.5" stroke="#000" stroke-width="0.25" text-anchor="end" textLength="10.0" lengthAdjust="spacingAndGlyphs">40</text>
<text x="282.90" y="130.70" font-family="Liberation Serif, serif" font-weight="bold" font-size="7.8" stroke="#000" stroke-width="0.25" text-anchor="end" textLength="16.5" lengthAdjust="spacingAndGlyphs">NO2</text>
<text x="309.50" y="130.70" font-family="Liberation Serif, serif" font-weight="bold" font-size="7.8" stroke="#000" stroke-width="0.25" text-anchor="end" textLength="23.0" lengthAdjust="spacingAndGlyphs">(ppb)</text>
<g clip-path="url(#c3)" fill="none" stroke-width="1.1" stroke-linecap="butt">
<path d="M348.05 192.87L359.92 194.30L371.80 192.87L383.67 194.78L395.54 199.56L407.41 204.10L419.29 202.42L431.16 204.81L443.03 203.38L454.91 201.47L466.78 198.36L478.65 194.06L490.52 188.57L502.40 181.40L514.27 179.26L526.14 173.04L538.02 174.48L549.89 180.21L561.76 175.43L573.64 170.18L585.51 171.37L597.38 171.85L609.25 155.61L621.13 145.82L633.00 157.28" stroke="#00ffff"/>
<path d="M345.53 190.35L350.57 195.39M345.53 195.39L350.57 190.35M348.05 190.07L348.05 195.67M345.95 192.87L350.15 192.87M357.40 191.78L362.44 196.82M357.40 196.82L362.44 191.78M359.92 191.50L359.92 197.10M357.82 194.30L362.02 194.30M369.28 190.35L374.32 195.39M369.28 195.39L374.32 190.35M371.80 190.07L371.80 195.67M369.70 192.87L373.90 192.87M381.15 192.26L386.19 197.30M381.15 197.30L386.19 192.26M383.67 191.98L383.67 197.58M381.57 194.78L385.77 194.78M393.02 197.04L398.06 202.08M393.02 202.08L398.06 197.04M395.54 196.76L395.54 202.36M393.44 199.56L397.64 199.56M404.89 201.58L409.93 206.62M404.89 206.62L409.93 201.58M407.41 201.30L407.41 206.90M405.31 204.10L409.51 204.10M416.77 199.90L421.81 204.94M416.77 204.94L421.81 199.90M419.29 199.62L419.29 205.22M417.19 202.42L421.39 202.42M428.64 202.29L433.68 207.33M428.64 207.33L433.68 202.29M431.16 202.01L431.16 207.61M429.06 204.81L433.26 204.81M440.51 200.86L445.55 205.90M440.51 205.90L445.55 200.86M443.03 200.58L443.03 206.18M440.93 203.38L445.13 203.38M452.39 198.95L457.43 203.99M452.39 203.99L457.43 198.95M454.91 198.67L454.91 204.27M452.81 201.47L457.01 201.47M464.26 195.84L469.30 200.88M464.26 200.88L469.30 195.84M466.78 195.56L466.78 201.16M464.68 198.36L468.88 198.36M476.13 191.54L481.17 196.58M476.13 196.58L481.17 191.54M478.65 191.26L478.65 196.86M476.55 194.06L480.75 194.06M488.00 186.05L493.04 191.09M488.00 191.09L493.04 186.05M490.52 185.77L490.52 191.37M488.42 188.57L492.62 188.57M499.88 178.88L504.92 183.92M499.88 183.92L504.92 178.88M502.40 178.60L502.40 184.20M500.30 181.40L504.50 181.40M511.75 176.74L516.79 181.78M511.75 181.78L516.79 176.74M514.27 176.46L514.27 182.06M512.17 179.26L516.37 179.26M523.62 170.52L528.66 175.56M523.62 175.56L528.66 170.52M526.14 170.24L526.14 175.84M524.04 173.04L528.24 173.04M535.50 171.96L540.54 177.00M535.50 177.00L540.54 171.96M538.02 171.68L538.02 177.28M535.92 174.48L540.12 174.48M547.37 177.69L552.41 182.73M547.37 182.73L552.41 177.69M549.89 177.41L549.89 183.01M547.79 180.21L551.99 180.21M559.24 172.91L564.28 177.95M559.24 177.95L564.28 172.91M561.76 172.63L561.76 178.23M559.66 175.43L563.86 175.43M571.12 167.66L576.16 172.70M571.12 172.70L576.16 167.66M573.64 167.38L573.64 172.98M571.54 170.18L575.74 170.18M582.99 168.85L588.03 173.89M582.99 173.89L588.03 168.85M585.51 168.57L585.51 174.17M583.41 171.37L587.61 171.37M594.86 169.33L599.90 174.37M594.86 174.37L599.90 169.33M597.38 169.05L597.38 174.65M595.28 171.85L599.48 171.85M606.73 153.09L611.77 158.13M606.73 158.13L611.77 153.09M609.25 152.81L609.25 158.41M607.15 155.61L611.35 155.61M618.61 143.30L623.65 148.34M618.61 148.34L623.65 143.30M621.13 143.02L621.13 148.62M619.03 145.82L623.23 145.82M630.48 154.76L635.52 159.80M630.48 159.80L635.52 154.76M633.00 154.48L633.00 160.08M630.90 157.28L635.10 157.28" stroke="#00ffff" stroke-width="1.05"/>
<path d="M348.05 158.00L359.92 161.58L371.80 148.44L383.67 149.64L395.54 168.03L407.41 181.40L419.29 170.90L431.16 167.31L443.03 178.06L454.91 183.79L466.78 191.68L478.65 190.48L490.52 186.18L502.40 179.73L514.27 176.15L526.14 171.37L538.02 168.03L549.89 170.18L561.76 175.43L573.64 185.47L585.51 178.54L597.38 179.26L609.25 180.21L621.13 176.87L633.00 173.04" stroke="#00ff00"/>
<path d="M345.53 155.48L350.57 160.52M345.53 160.52L350.57 155.48M348.05 155.20L348.05 160.80M345.95 158.00L350.15 158.00M357.40 159.06L362.44 164.10M357.40 164.10L362.44 159.06M359.92 158.78L359.92 164.38M357.82 161.58L362.02 161.58M369.28 145.92L374.32 150.96M369.28 150.96L374.32 145.92M371.80 145.64L371.80 151.24M369.70 148.44L373.90 148.44M381.15 147.12L386.19 152.16M381.15 152.16L386.19 147.12M383.67 146.84L383.67 152.44M381.57 149.64L385.77 149.64M393.02 165.51L398.06 170.55M393.02 170.55L398.06 165.51M395.54 165.23L395.54 170.83M393.44 168.03L397.64 168.03M404.89 178.88L409.93 183.92M404.89 183.92L409.93 178.88M407.41 178.60L407.41 184.20M405.31 181.40L409.51 181.40M416.77 168.38L421.81 173.42M416.77 173.42L421.81 168.38M419.29 168.10L419.29 173.70M417.19 170.90L421.39 170.90M428.64 164.79L433.68 169.83M428.64 169.83L433.68 164.79M431.16 164.51L431.16 170.11M429.06 167.31L433.26 167.31M440.51 175.54L445.55 180.58M440.51 180.58L445.55 175.54M443.03 175.26L443.03 180.86M440.93 178.06L445.13 178.06M452.39 181.27L457.43 186.31M452.39 186.31L457.43 181.27M454.91 180.99L454.91 186.59M452.81 183.79L457.01 183.79M464.26 189.16L469.30 194.20M464.26 194.20L469.30 189.16M466.78 188.88L466.78 194.48M464.68 191.68L468.88 191.68M476.13 187.96L481.17 193.00M476.13 193.00L481.17 187.96M478.65 187.68L478.65 193.28M476.55 190.48L480.75 190.48M488.00 183.66L493.04 188.70M488.00 188.70L493.04 183.66M490.52 183.38L490.52 188.98M488.42 186.18L492.62 186.18M499.88 177.21L504.92 182.25M499.88 182.25L504.92 177.21M502.40 176.93L502.40 182.53M500.30 179.73L504.50 179.73M511.75 173.63L516.79 178.67M511.75 178.67L516.79 173.63M514.27 173.35L514.27 178.95M512.17 176.15L516.37 176.15M523.62 168.85L528.66 173.89M523.62 173.89L528.66 168.85M526.14 168.57L526.14 174.17M524.04 171.37L528.24 171.37M535.50 165.51L540.54 170.55M535.50 170.55L540.54 165.51M538.02 165.23L538.02 170.83M535.92 168.03L540.12 168.03M547.37 167.66L552.41 172.70M547.37 172.70L552.41 167.66M549.89 167.38L549.89 172.98M547.79 170.18L551.99 170.18M559.24 172.91L564.28 177.95M559.24 177.95L564.28 172.91M561.76 172.63L561.76 178.23M559.66 175.43L563.86 175.43M571.12 182.95L576.16 187.99M571.12 187.99L576.16 182.95M573.64 182.67L573.64 188.27M571.54 185.47L575.74 185.47M582.99 176.02L588.03 181.06M582.99 181.06L588.03 176.02M585.51 175.74L585.51 181.34M583.41 178.54L587.61 178.54M594.86 176.74L599.90 181.78M594.86 181.78L599.90 176.74M597.38 176.46L597.38 182.06M595.28 179.26L599.48 179.26M606.73 177.69L611.77 182.73M606.73 182.73L611.77 177.69M609.25 177.41L609.25 183.01M607.15 180.21L611.35 180.21M618.61 174.35L623.65 179.39M618.61 179.39L623.65 174.35M621.13 174.07L621.13 179.67M619.03 176.87L623.23 176.87M630.48 170.52L635.52 175.56M630.48 175.56L635.52 170.52M633.00 170.24L633.00 175.84M630.90 173.04L635.10 173.04" stroke="#00ff00" stroke-width="1.05"/>
<path d="M348.05 172.57L359.92 180.45L371.80 186.66L383.67 195.26L395.54 195.98L407.41 201.95L419.29 203.38L431.16 198.84L443.03 192.87L454.91 188.33L466.78 197.17L478.65 187.62L490.52 183.79L502.40 182.60L514.27 180.21L526.14 180.21L538.02 171.37L549.89 169.70L561.76 173.04L573.64 175.43L585.51 185.70L597.38 197.89L609.25 206.48L621.13 211.26L633.00 211.02" stroke="#0000ff"/>
<path d="M345.53 170.05L350.57 175.09M345.53 175.09L350.57 170.05M348.05 169.77L348.05 175.37M345.95 172.57L350.15 172.57M357.40 177.93L362.44 182.97M357.40 182.97L362.44 177.93M359.92 177.65L359.92 183.25M357.82 180.45L362.02 180.45M369.28 184.14L374.32 189.18M369.28 189.18L374.32 184.14M371.80 183.86L371.80 189.46M369.70 186.66L373.90 186.66M381.15 192.74L386.19 197.78M381.15 197.78L386.19 192.74M383.67 192.46L383.67 198.06M381.57 195.26L385.77 195.26M393.02 193.46L398.06 198.50M393.02 198.50L398.06 193.46M395.54 193.18L395.54 198.78M393.44 195.98L397.64 195.98M404.89 199.43L409.93 204.47M404.89 204.47L409.93 199.43M407.41 199.15L407.41 204.75M405.31 201.95L409.51 201.95M416.77 200.86L421.81 205.90M416.77 205.90L421.81 200.86M419.29 200.58L419.29 206.18M417.19 203.38L421.39 203.38M428.64 196.32L433.68 201.36M428.64 201.36L433.68 196.32M431.16 196.04L431.16 201.64M429.06 198.84L433.26 198.84M440.51 190.35L445.55 195.39M440.51 195.39L445.55 190.35M443.03 190.07L443.03 195.67M440.93 192.87L445.13 192.87M452.39 185.81L457.43 190.85M452.39 190.85L457.43 185.81M454.91 185.53L454.91 191.13M452.81 188.33L457.01 188.33M464.26 194.65L469.30 199.69M464.26 199.69L469.30 194.65M466.78 194.37L466.78 199.97M464.68 197.17L468.88 197.17M476.13 185.10L481.17 190.14M476.13 190.14L481.17 185.10M478.65 184.82L478.65 190.42M476.55 187.62L480.75 187.62M488.00 181.27L493.04 186.31M488.00 186.31L493.04 181.27M490.52 180.99L490.52 186.59M488.42 183.79L492.62 183.79M499.88 180.08L504.92 185.12M499.88 185.12L504.92 180.08M502.40 179.80L502.40 185.40M500.30 182.60L504.50 182.60M511.75 177.69L516.79 182.73M511.75 182.73L516.79 177.69M514.27 177.41L514.27 183.01M512.17 180.21L516.37 180.21M523.62 177.69L528.66 182.73M523.62 182.73L528.66 177.69M526.14 177.41L526.14 183.01M524.04 180.21L528.24 180.21M535.50 168.85L540.54 173.89M535.50 173.89L540.54 168.85M538.02 168.57L538.02 174.17M535.92 171.37L540.12 171.37M547.37 167.18L552.41 172.22M547.37 172.22L552.41 167.18M549.89 166.90L549.89 172.50M547.79 169.70L551.99 169.70M559.24 170.52L564.28 175.56M559.24 175.56L564.28 170.52M561.76 170.24L561.76 175.84M559.66 173.04L563.86 173.04M571.12 172.91L576.16 177.95M571.12 177.95L576.16 172.91M573.64 172.63L573.64 178.23M571.54 175.43L575.74 175.43M582.99 183.18L588.03 188.22M582.99 188.22L588.03 183.18M585.51 182.90L585.51 188.50M583.41 185.70L587.61 185.70M594.86 195.37L599.90 200.41M594.86 200.41L599.90 195.37M597.38 195.09L597.38 200.69M595.28 197.89L599.48 197.89M606.73 203.96L611.77 209.00M606.73 209.00L611.77 203.96M609.25 203.68L609.25 209.28M607.15 206.48L611.35 206.48M618.61 208.74L623.65 213.78M618.61 213.78L623.65 208.74M621.13 208.46L621.13 214.06M619.03 211.26L623.23 211.26M630.48 208.50L635.52 213.54M630.48 213.54L635.52 208.50M633.00 208.22L633.00 213.82M630.90 211.02L635.10 211.02" stroke="#0000ff" stroke-width="1.05"/>
<path d="M348.05 210.78L359.92 207.68L371.80 201.23L383.67 200.27L395.54 204.57L407.41 201.95L419.29 201.95L431.16 198.84L443.03 194.78L454.91 192.87L466.78 202.42L478.65 192.39L490.52 187.38L502.40 186.66L514.27 189.05L526.14 186.66L538.02 181.17L549.89 178.54L561.76 173.28L573.64 171.85L585.51 174.96L597.38 172.09L609.25 163.97L621.13 158.95L633.00 152.26" stroke="#ff0000"/>
<path d="M345.53 208.26L350.57 213.30M345.53 213.30L350.57 208.26M348.05 207.98L348.05 213.58M345.95 210.78L350.15 210.78M357.40 205.16L362.44 210.20M357.40 210.20L362.44 205.16M359.92 204.88L359.92 210.48M357.82 207.68L362.02 207.68M369.28 198.71L374.32 203.75M369.28 203.75L374.32 198.71M371.80 198.43L371.80 204.03M369.70 201.23L373.90 201.23M381.15 197.75L386.19 202.79M381.15 202.79L386.19 197.75M383.67 197.47L383.67 203.07M381.57 200.27L385.77 200.27M393.02 202.05L398.06 207.09M393.02 207.09L398.06 202.05M395.54 201.77L395.54 207.37M393.44 204.57L397.64 204.57M404.89 199.43L409.93 204.47M404.89 204.47L409.93 199.43M407.41 199.15L407.41 204.75M405.31 201.95L409.51 201.95M416.77 199.43L421.81 204.47M416.77 204.47L421.81 199.43M419.29 199.15L419.29 204.75M417.19 201.95L421.39 201.95M428.64 196.32L433.68 201.36M428.64 201.36L433.68 196.32M431.16 196.04L431.16 201.64M429.06 198.84L433.26 198.84M440.51 192.26L445.55 197.30M440.51 197.30L445.55 192.26M443.03 191.98L443.03 197.58M440.93 194.78L445.13 194.78M452.39 190.35L457.43 195.39M452.39 195.39L457.43 190.35M454.91 190.07L454.91 195.67M452.81 192.87L457.01 192.87M464.26 199.90L469.30 204.94M464.26 204.94L469.30 199.90M466.78 199.62L466.78 205.22M464.68 202.42L468.88 202.42M476.13 189.87L481.17 194.91M476.13 194.91L481.17 189.87M478.65 189.59L478.65 195.19M476.55 192.39L480.75 192.39M488.00 184.86L493.04 189.90M488.00 189.90L493.04 184.86M490.52 184.58L490.52 190.18M488.42 187.38L492.62 187.38M499.88 184.14L504.92 189.18M499.88 189.18L504.92 184.14M502.40 183.86L502.40 189.46M500.30 186.66L504.50 186.66M511.75 186.53L516.79 191.57M511.75 191.57L516.79 186.53M514.27 186.25L514.27 191.85M512.17 189.05L516.37 189.05M523.62 184.14L528.66 189.18M523.62 189.18L528.66 184.14M526.14 183.86L526.14 189.46M524.04 186.66L528.24 186.66M535.50 178.65L540.54 183.69M535.50 183.69L540.54 178.65M538.02 178.37L538.02 183.97M535.92 181.17L540.12 181.17M547.37 176.02L552.41 181.06M547.37 181.06L552.41 176.02M549.89 175.74L549.89 181.34M547.79 178.54L551.99 178.54M559.24 170.76L564.28 175.80M559.24 175.80L564.28 170.76M561.76 170.48L561.76 176.08M559.66 173.28L563.86 173.28M571.12 169.33L576.16 174.37M571.12 174.37L576.16 169.33M573.64 169.05L573.64 174.65M571.54 171.85L575.74 171.85M582.99 172.44L588.03 177.48M582.99 177.48L588.03 172.44M585.51 172.16L585.51 177.76M583.41 174.96L587.61 174.96M594.86 169.57L599.90 174.61M594.86 174.61L599.90 169.57M597.38 169.29L597.38 174.89M595.28 172.09L599.48 172.09M606.73 161.45L611.77 166.49M606.73 166.49L611.77 161.45M609.25 161.17L609.25 166.77M607.15 163.97L611.35 163.97M618.61 156.43L623.65 161.47M618.61 161.47L623.65 156.43M621.13 156.15L621.13 161.75M619.03 158.95L623.23 158.95M630.48 149.74L635.52 154.78M630.48 154.78L635.52 149.74M633.00 149.46L633.00 155.06M630.90 152.26L635.10 152.26" stroke="#ff0000" stroke-width="1.05"/>
</g>
<path d="M349.05 206.01H633.00M349.05 194.06H633.00M349.05 182.12H633.00M349.05 170.18H633.00M349.05 158.24H633.00M349.05 146.29H633.00" stroke="#000" stroke-width="1.1" stroke-dasharray="1.15 1.95" fill="none"/>
<path d="M395.54 135.10V217.95M443.03 135.10V217.95M490.52 135.10V217.95M538.02 135.10V217.95M585.51 135.10V217.95" stroke="#000" stroke-width="1.1" stroke-dasharray="1.15 1.95" fill="none"/>
<path d="M371.80 134.10v3.8M371.80 217.95v-3.8M395.54 134.10v4.6M395.54 217.95v-4.6M419.29 134.10v3.8M419.29 217.95v-3.8M443.03 134.10v4.6M443.03 217.95v-4.6M466.78 134.10v3.8M466.78 217.95v-3.8M490.52 134.10v4.6M490.52 217.95v-4.6M514.27 134.10v3.8M514.27 217.95v-3.8M538.02 134.10v4.6M538.02 217.95v-4.6M561.76 134.10v3.8M561.76 217.95v-3.8M585.51 134.10v4.6M585.51 217.95v-4.6M609.25 134.10v3.8M609.25 217.95v-3.8M348.05 211.98h3.8M633.00 211.98h-3.8M348.05 206.01h6.2M633.00 206.01h-6.2M348.05 200.04h3.8M633.00 200.04h-3.8M348.05 194.06h6.2M633.00 194.06h-6.2M348.05 188.09h3.8M633.00 188.09h-3.8M348.05 182.12h6.2M633.00 182.12h-6.2M348.05 176.15h3.8M633.00 176.15h-3.8M348.05 170.18h6.2M633.00 170.18h-6.2M348.05 164.21h3.8M633.00 164.21h-3.8M348.05 158.24h6.2M633.00 158.24h-6.2M348.05 152.26h3.8M633.00 152.26h-3.8M348.05 146.29h6.2M633.00 146.29h-6.2M348.05 140.32h3.8M633.00 140.32h-3.8" stroke="#111" stroke-width="1.2" fill="none"/>
<rect x="348.05" y="134.1" width="284.95" height="83.85" fill="none" stroke="#111" stroke-width="1.7"/>
<g clip-path="url(#s3)" fill="none" stroke-width="1.05">
<path d="M345.53 190.35L350.57 195.39M345.53 195.39L350.57 190.35M348.05 190.07L348.05 195.67M345.95 192.87L350.15 192.87M630.48 154.76L635.52 159.80M630.48 159.80L635.52 154.76M633.00 154.48L633.00 160.08M630.90 157.28L635.10 157.28" stroke="#00ffff"/>
<path d="M345.53 155.48L350.57 160.52M345.53 160.52L350.57 155.48M348.05 155.20L348.05 160.80M345.95 158.00L350.15 158.00M630.48 170.52L635.52 175.56M630.48 175.56L635.52 170.52M633.00 170.24L633.00 175.84M630.90 173.04L635.10 173.04" stroke="#00ff00"/>
<path d="M345.53 170.05L350.57 175.09M345.53 175.09L350.57 170.05M348.05 169.77L348.05 175.37M345.95 172.57L350.15 172.57M630.48 208.50L635.52 213.54M630.48 213.54L635.52 208.50M633.00 208.22L633.00 213.82M630.90 211.02L635.10 211.02" stroke="#0000ff"/>
<path d="M345.53 208.26L350.57 213.30M345.53 213.30L350.57 208.26M348.05 207.98L348.05 213.58M345.95 210.78L350.15 210.78M630.48 149.74L635.52 154.78M630.48 154.78L635.52 149.74M633.00 149.46L633.00 155.06M630.90 152.26L635.10 152.26" stroke="#ff0000"/>
</g>
<text x="348.05" y="229.05" font-family="Liberation Serif, serif" font-weight="bold" font-size="8.6" stroke="#000" stroke-width="0.2" text-anchor="middle" textLength="5.1" lengthAdjust="spacingAndGlyphs">0</text>
<text x="395.54" y="229.05" font-family="Liberation Serif, serif" font-weight="bold" font-size="8.6" stroke="#000" stroke-width="0.2" text-anchor="middle" textLength="5.1" lengthAdjust="spacingAndGlyphs">4</text>
<text x="443.03" y="229.05" font-family="Liberation Serif, serif" font-weight="bold" font-size="8.6" stroke="#000" stroke-width="0.2" text-anchor="middle" textLength="5.1" lengthAdjust="spacingAndGlyphs">8</text>
<text x="490.52" y="229.05" font-family="Liberation Serif, serif" font-weight="bold" font-size="8.6" stroke="#000" stroke-width="0.2" text-anchor="middle" textLength="10.2" lengthAdjust="spacingAndGlyphs">12</text>
<text x="538.02" y="229.05" font-family="Liberation Serif, serif" font-weight="bold" font-size="8.6" stroke="#000" stroke-width="0.2" text-anchor="middle" textLength="10.2" lengthAdjust="spacingAndGlyphs">16</text>
<text x="585.51" y="229.05" font-family="Liberation Serif, serif" font-weight="bold" font-size="8.6" stroke="#000" stroke-width="0.2" text-anchor="middle" textLength="10.2" lengthAdjust="spacingAndGlyphs">20</text>
<text x="633.00" y="229.05" font-family="Liberation Serif, serif" font-weight="bold" font-size="8.6" stroke="#000" stroke-width="0.2" text-anchor="middle" textLength="10.2" lengthAdjust="spacingAndGlyphs">24</text>
<text x="343.45" y="220.85" font-family="Liberation Sans, sans-serif" font-weight="bold" font-size="8.5" stroke="#000" stroke-width="0.25" text-anchor="end" textLength="5.0" lengthAdjust="spacingAndGlyphs">0</text>
<text x="343.45" y="208.91" font-family="Liberation Sans, sans-serif" font-weight="bold" font-size="8.5" stroke="#000" stroke-width="0.25" text-anchor="end" textLength="5.0" lengthAdjust="spacingAndGlyphs">5</text>
<text x="343.45" y="196.96" font-family="Liberation Sans, sans-serif" font-weight="bold" font-size="8.5" stroke="#000" stroke-width="0.25" text-anchor="end" textLength="10.0" lengthAdjust="spacingAndGlyphs">10</text>
<text x="343.45" y="185.02" font-family="Liberation Sans, sans-serif" font-weight="bold" font-size="8.5" stroke="#000" stroke-width="0.25" text-anchor="end" textLength="10.0" lengthAdjust="spacingAndGlyphs">15</text>
<text x="343.45" y="173.08" font-family="Liberation Sans, sans-serif" font-weight="bold" font-size="8.5" stroke="#000" stroke-width="0.25" text-anchor="end" textLength="10.0" lengthAdjust="spacingAndGlyphs">20</text>
<text x="343.45" y="161.14" font-family="Liberation Sans, sans-serif" font-weight="bold" font-size="8.5" stroke="#000" stroke-width="0.25" text-anchor="end" textLength="10.0" lengthAdjust="spacingAndGlyphs">25</text>
<text x="343.45" y="149.19" font-family="Liberation Sans, sans-serif" font-weight="bold" font-size="8.5" stroke="#000" stroke-width="0.25" text-anchor="end" textLength="10.0" lengthAdjust="spacingAndGlyphs">30</text>
<text x="343.45" y="137.25" font-family="Liberation Sans, sans-serif" font-weight="bold" font-size="8.5" stroke="#000" stroke-width="0.25" text-anchor="end" textLength="10.0" lengthAdjust="spacingAndGlyphs">35</text>
<text x="593.40" y="130.70" font-family="Liberation Serif, serif" font-weight="bold" font-size="7.8" stroke="#000" stroke-width="0.25" text-anchor="end" textLength="16.3" lengthAdjust="spacingAndGlyphs">RSP</text>
<text x="634.50" y="130.70" font-family="Liberation Serif, serif" font-weight="bold" font-size="7.8" stroke="#000" stroke-width="0.25" text-anchor="end" textLength="37.3" lengthAdjust="spacingAndGlyphs">(ug/m3)</text>
<g clip-path="url(#c4)" fill="none" stroke-width="1.1" stroke-linecap="butt">
<path d="M673.05 193.54L684.92 195.21L696.80 190.19L708.67 191.20L720.54 193.20L732.41 199.56L744.29 198.89L756.16 200.56L768.03 198.89L779.91 200.56L791.78 197.22L803.65 198.22L815.52 195.88L827.40 184.84L839.27 180.16L851.14 179.49L863.02 186.18L874.89 193.54L886.76 189.53L898.64 180.16L910.51 178.83L922.38 185.51L934.25 160.43L946.13 151.07L958.00 169.13" stroke="#00ffff"/>
<path d="M670.53 191.02L675.57 196.06M670.53 196.06L675.57 191.02M673.05 190.74L673.05 196.34M670.95 193.54L675.15 193.54M682.40 192.69L687.44 197.73M682.40 197.73L687.44 192.69M684.92 192.41L684.92 198.01M682.82 195.21L687.02 195.21M694.28 187.67L699.32 192.71M694.28 192.71L699.32 187.67M696.80 187.39L696.80 192.99M694.70 190.19L698.90 190.19M706.15 188.68L711.19 193.72M706.15 193.72L711.19 188.68M708.67 188.40L708.67 194.00M706.57 191.20L710.77 191.20M718.02 190.68L723.06 195.72M718.02 195.72L723.06 190.68M720.54 190.40L720.54 196.00M718.44 193.20L722.64 193.20M729.89 197.04L734.93 202.08M729.89 202.08L734.93 197.04M732.41 196.76L732.41 202.36M730.31 199.56L734.51 199.56M741.77 196.37L746.81 201.41M741.77 201.41L746.81 196.37M744.29 196.09L744.29 201.69M742.19 198.89L746.39 198.89M753.64 198.04L758.68 203.08M753.64 203.08L758.68 198.04M756.16 197.76L756.16 203.36M754.06 200.56L758.26 200.56M765.51 196.37L770.55 201.41M765.51 201.41L770.55 196.37M768.03 196.09L768.03 201.69M765.93 198.89L770.13 198.89M777.39 198.04L782.43 203.08M777.39 203.08L782.43 198.04M779.91 197.76L779.91 203.36M777.81 200.56L782.01 200.56M789.26 194.70L794.30 199.74M789.26 199.74L794.30 194.70M791.78 194.42L791.78 200.02M789.68 197.22L793.88 197.22M801.13 195.70L806.17 200.74M801.13 200.74L806.17 195.70M803.65 195.42L803.65 201.02M801.55 198.22L805.75 198.22M813.00 193.36L818.04 198.40M813.00 198.40L818.04 193.36M815.52 193.08L815.52 198.68M813.42 195.88L817.62 195.88M824.88 182.32L829.92 187.36M824.88 187.36L829.92 182.32M827.40 182.04L827.40 187.64M825.30 184.84L829.50 184.84M836.75 177.64L841.79 182.68M836.75 182.68L841.79 177.64M839.27 177.36L839.27 182.96M837.17 180.16L841.37 180.16M848.62 176.97L853.66 182.01M848.62 182.01L853.66 176.97M851.14 176.69L851.14 182.29M849.04 179.49L853.24 179.49M860.50 183.66L865.54 188.70M860.50 188.70L865.54 183.66M863.02 183.38L863.02 188.98M860.92 186.18L865.12 186.18M872.37 191.02L877.41 196.06M872.37 196.06L877.41 191.02M874.89 190.74L874.89 196.34M872.79 193.54L876.99 193.54M884.24 187.01L889.28 192.05M884.24 192.05L889.28 187.01M886.76 186.73L886.76 192.33M884.66 189.53L888.86 189.53M896.12 177.64L901.16 182.68M896.12 182.68L901.16 177.64M898.64 177.36L898.64 182.96M896.54 180.16L900.74 180.16M907.99 176.31L913.03 181.35M907.99 181.35L913.03 176.31M910.51 176.03L910.51 181.63M908.41 178.83L912.61 178.83M919.86 182.99L924.90 188.03M919.86 188.03L924.90 182.99M922.38 182.71L922.38 188.31M920.28 185.51L924.48 185.51M931.73 157.91L936.77 162.95M931.73 162.95L936.77 157.91M934.25 157.63L934.25 163.23M932.15 160.43L936.35 160.43M943.61 148.55L948.65 153.59M943.61 153.59L948.65 148.55M946.13 148.27L946.13 153.87M944.03 151.07L948.23 151.07M955.48 166.61L960.52 171.65M955.48 171.65L960.52 166.61M958.00 166.33L958.00 171.93M955.90 169.13L960.10 169.13" stroke="#00ffff" stroke-width="1.05"/>
<path d="M673.05 167.79L684.92 167.79L696.80 144.05L708.67 141.71L720.54 164.45L732.41 185.51L744.29 172.47L756.16 168.79L768.03 179.49L779.91 181.50L791.78 193.54L803.65 197.22L815.52 191.53L827.40 179.49L839.27 181.50L851.14 179.16L863.02 174.48L874.89 177.82L886.76 180.83L898.64 192.87L910.51 181.83L922.38 179.49L934.25 180.16L946.13 177.15L958.00 170.13" stroke="#00ff00"/>
<path d="M670.53 165.27L675.57 170.31M670.53 170.31L675.57 165.27M673.05 164.99L673.05 170.59M670.95 167.79L675.15 167.79M682.40 165.27L687.44 170.31M682.40 170.31L687.44 165.27M684.92 164.99L684.92 170.59M682.82 167.79L687.02 167.79M694.28 141.53L699.32 146.57M694.28 146.57L699.32 141.53M696.80 141.25L696.80 146.85M694.70 144.05L698.90 144.05M706.15 139.19L711.19 144.23M706.15 144.23L711.19 139.19M708.67 138.91L708.67 144.51M706.57 141.71L710.77 141.71M718.02 161.93L723.06 166.97M718.02 166.97L723.06 161.93M720.54 161.65L720.54 167.25M718.44 164.45L722.64 164.45M729.89 182.99L734.93 188.03M729.89 188.03L734.93 182.99M732.41 182.71L732.41 188.31M730.31 185.51L734.51 185.51M741.77 169.95L746.81 174.99M741.77 174.99L746.81 169.95M744.29 169.67L744.29 175.27M742.19 172.47L746.39 172.47M753.64 166.27L758.68 171.31M753.64 171.31L758.68 166.27M756.16 165.99L756.16 171.59M754.06 168.79L758.26 168.79M765.51 176.97L770.55 182.01M765.51 182.01L770.55 176.97M768.03 176.69L768.03 182.29M765.93 179.49L770.13 179.49M777.39 178.98L782.43 184.02M777.39 184.02L782.43 178.98M779.91 178.70L779.91 184.30M777.81 181.50L782.01 181.50M789.26 191.02L794.30 196.06M789.26 196.06L794.30 191.02M791.78 190.74L791.78 196.34M789.68 193.54L793.88 193.54M801.13 194.70L806.17 199.74M801.13 199.74L806.17 194.70M803.65 194.42L803.65 200.02M801.55 197.22L805.75 197.22M813.00 189.01L818.04 194.05M813.00 194.05L818.04 189.01M815.52 188.73L815.52 194.33M813.42 191.53L817.62 191.53M824.88 176.97L829.92 182.01M824.88 182.01L829.92 176.97M827.40 176.69L827.40 182.29M825.30 179.49L829.50 179.49M836.75 178.98L841.79 184.02M836.75 184.02L841.79 178.98M839.27 178.70L839.27 184.30M837.17 181.50L841.37 181.50M848.62 176.64L853.66 181.68M848.62 181.68L853.66 176.64M851.14 176.36L851.14 181.96M849.04 179.16L853.24 179.16M860.50 171.96L865.54 177.00M860.50 177.00L865.54 171.96M863.02 171.68L863.02 177.28M860.92 174.48L865.12 174.48M872.37 175.30L877.41 180.34M872.37 180.34L877.41 175.30M874.89 175.02L874.89 180.62M872.79 177.82L876.99 177.82M884.24 178.31L889.28 183.35M884.24 183.35L889.28 178.31M886.76 178.03L886.76 183.63M884.66 180.83L888.86 180.83M896.12 190.35L901.16 195.39M896.12 195.39L901.16 190.35M898.64 190.07L898.64 195.67M896.54 192.87L900.74 192.87M907.99 179.31L913.03 184.35M907.99 184.35L913.03 179.31M910.51 179.03L910.51 184.63M908.41 181.83L912.61 181.83M919.86 176.97L924.90 182.01M919.86 182.01L924.90 176.97M922.38 176.69L922.38 182.29M920.28 179.49L924.48 179.49M931.73 177.64L936.77 182.68M931.73 182.68L936.77 177.64M934.25 177.36L934.25 182.96M932.15 180.16L936.35 180.16M943.61 174.63L948.65 179.67M943.61 179.67L948.65 174.63M946.13 174.35L946.13 179.95M944.03 177.15L948.23 177.15M955.48 167.61L960.52 172.65M955.48 172.65L960.52 167.61M958.00 167.33L958.00 172.93M955.90 170.13L960.10 170.13" stroke="#00ff00" stroke-width="1.05"/>
<path d="M673.05 171.13L684.92 182.50L696.80 188.86L708.67 193.54L720.54 192.54L732.41 200.56L744.29 200.23L756.16 193.54L768.03 185.85L779.91 177.82L791.78 193.54L803.65 186.85L815.52 187.85L827.40 191.87L839.27 189.53L851.14 193.54L863.02 183.17L874.89 179.49L886.76 184.18L898.64 180.83L910.51 189.53L922.38 193.20L934.25 202.57L946.13 208.92L958.00 208.92" stroke="#0000ff"/>
<path d="M670.53 168.61L675.57 173.65M670.53 173.65L675.57 168.61M673.05 168.33L673.05 173.93M670.95 171.13L675.15 171.13M682.40 179.98L687.44 185.02M682.40 185.02L687.44 179.98M684.92 179.70L684.92 185.30M682.82 182.50L687.02 182.50M694.28 186.34L699.32 191.38M694.28 191.38L699.32 186.34M696.80 186.06L696.80 191.66M694.70 188.86L698.90 188.86M706.15 191.02L711.19 196.06M706.15 196.06L711.19 191.02M708.67 190.74L708.67 196.34M706.57 193.54L710.77 193.54M718.02 190.02L723.06 195.06M718.02 195.06L723.06 190.02M720.54 189.74L720.54 195.34M718.44 192.54L722.64 192.54M729.89 198.04L734.93 203.08M729.89 203.08L734.93 198.04M732.41 197.76L732.41 203.36M730.31 200.56L734.51 200.56M741.77 197.71L746.81 202.75M741.77 202.75L746.81 197.71M744.29 197.43L744.29 203.03M742.19 200.23L746.39 200.23M753.64 191.02L758.68 196.06M753.64 196.06L758.68 191.02M756.16 190.74L756.16 196.34M754.06 193.54L758.26 193.54M765.51 183.33L770.55 188.37M765.51 188.37L770.55 183.33M768.03 183.05L768.03 188.65M765.93 185.85L770.13 185.85M777.39 175.30L782.43 180.34M777.39 180.34L782.43 175.30M779.91 175.02L779.91 180.62M777.81 177.82L782.01 177.82M789.26 191.02L794.30 196.06M789.26 196.06L794.30 191.02M791.78 190.74L791.78 196.34M789.68 193.54L793.88 193.54M801.13 184.33L806.17 189.37M801.13 189.37L806.17 184.33M803.65 184.05L803.65 189.65M801.55 186.85L805.75 186.85M813.00 185.33L818.04 190.37M813.00 190.37L818.04 185.33M815.52 185.05L815.52 190.65M813.42 187.85L817.62 187.85M824.88 189.35L829.92 194.39M824.88 194.39L829.92 189.35M827.40 189.07L827.40 194.67M825.30 191.87L829.50 191.87M836.75 187.01L841.79 192.05M836.75 192.05L841.79 187.01M839.27 186.73L839.27 192.33M837.17 189.53L841.37 189.53M848.62 191.02L853.66 196.06M848.62 196.06L853.66 191.02M851.14 190.74L851.14 196.34M849.04 193.54L853.24 193.54M860.50 180.65L865.54 185.69M860.50 185.69L865.54 180.65M863.02 180.37L863.02 185.97M860.92 183.17L865.12 183.17M872.37 176.97L877.41 182.01M872.37 182.01L877.41 176.97M874.89 176.69L874.89 182.29M872.79 179.49L876.99 179.49M884.24 181.66L889.28 186.70M884.24 186.70L889.28 181.66M886.76 181.38L886.76 186.98M884.66 184.18L888.86 184.18M896.12 178.31L901.16 183.35M896.12 183.35L901.16 178.31M898.64 178.03L898.64 183.63M896.54 180.83L900.74 180.83M907.99 187.01L913.03 192.05M907.99 192.05L913.03 187.01M910.51 186.73L910.51 192.33M908.41 189.53L912.61 189.53M919.86 190.68L924.90 195.72M919.86 195.72L924.90 190.68M922.38 190.40L922.38 196.00M920.28 193.20L924.48 193.20M931.73 200.05L936.77 205.09M931.73 205.09L936.77 200.05M934.25 199.77L934.25 205.37M932.15 202.57L936.35 202.57M943.61 206.40L948.65 211.44M943.61 211.44L948.65 206.40M946.13 206.12L946.13 211.72M944.03 208.92L948.23 208.92M955.48 206.40L960.52 211.44M955.48 211.44L960.52 206.40M958.00 206.12L958.00 211.72M955.90 208.92L960.10 208.92" stroke="#0000ff" stroke-width="1.05"/>
<path d="M673.05 208.25L756.16 193.20L768.03 188.52L779.91 184.84L791.78 201.90L803.65 190.70L815.52 183.51L827.40 184.84L839.27 187.85L851.14 186.52L863.02 182.50L874.89 180.16L886.76 170.13L898.64 173.14L910.51 182.50L922.38 172.14L934.25 167.12L946.13 160.77L958.00 155.42" stroke="#ff0000"/>
<path d="M670.53 205.73L675.57 210.77M670.53 210.77L675.57 205.73M673.05 205.45L673.05 211.05M670.95 208.25L675.15 208.25M753.64 190.68L758.68 195.72M753.64 195.72L758.68 190.68M756.16 190.40L756.16 196.00M754.06 193.20L758.26 193.20M765.51 186.00L770.55 191.04M765.51 191.04L770.55 186.00M768.03 185.72L768.03 191.32M765.93 188.52L770.13 188.52M777.39 182.32L782.43 187.36M777.39 187.36L782.43 182.32M779.91 182.04L779.91 187.64M777.81 184.84L782.01 184.84M789.26 199.38L794.30 204.42M789.26 204.42L794.30 199.38M791.78 199.10L791.78 204.70M789.68 201.90L793.88 201.90M801.13 188.18L806.17 193.22M801.13 193.22L806.17 188.18M803.65 187.90L803.65 193.50M801.55 190.70L805.75 190.70M813.00 180.99L818.04 186.03M813.00 186.03L818.04 180.99M815.52 180.71L815.52 186.31M813.42 183.51L817.62 183.51M824.88 182.32L829.92 187.36M824.88 187.36L829.92 182.32M827.40 182.04L827.40 187.64M825.30 184.84L829.50 184.84M836.75 185.33L841.79 190.37M836.75 190.37L841.79 185.33M839.27 185.05L839.27 190.65M837.17 187.85L841.37 187.85M848.62 184.00L853.66 189.04M848.62 189.04L853.66 184.00M851.14 183.72L851.14 189.32M849.04 186.52L853.24 186.52M860.50 179.98L865.54 185.02M860.50 185.02L865.54 179.98M863.02 179.70L863.02 185.30M860.92 182.50L865.12 182.50M872.37 177.64L877.41 182.68M872.37 182.68L877.41 177.64M874.89 177.36L874.89 182.96M872.79 180.16L876.99 180.16M884.24 167.61L889.28 172.65M884.24 172.65L889.28 167.61M886.76 167.33L886.76 172.93M884.66 170.13L888.86 170.13M896.12 170.62L901.16 175.66M896.12 175.66L901.16 170.62M898.64 170.34L898.64 175.94M896.54 173.14L900.74 173.14M907.99 179.98L913.03 185.02M907.99 185.02L913.03 179.98M910.51 179.70L910.51 185.30M908.41 182.50L912.61 182.50M919.86 169.62L924.90 174.66M919.86 174.66L924.90 169.62M922.38 169.34L922.38 174.94M920.28 172.14L924.48 172.14M931.73 164.60L936.77 169.64M931.73 169.64L936.77 164.60M934.25 164.32L934.25 169.92M932.15 167.12L936.35 167.12M943.61 158.25L948.65 163.29M943.61 163.29L948.65 158.25M946.13 157.97L946.13 163.57M944.03 160.77L948.23 160.77M955.48 152.90L960.52 157.94M955.48 157.94L960.52 152.90M958.00 152.62L958.00 158.22M955.90 155.42L960.10 155.42" stroke="#ff0000" stroke-width="1.05"/>
</g>
<path d="M674.05 201.23H958.00M674.05 184.51H958.00M674.05 167.79H958.00M674.05 151.07H958.00" stroke="#000" stroke-width="1.1" stroke-dasharray="1.15 1.95" fill="none"/>
<path d="M720.54 135.10V217.95M768.03 135.10V217.95M815.52 135.10V217.95M863.02 135.10V217.95M910.51 135.10V217.95" stroke="#000" stroke-width="1.1" stroke-dasharray="1.15 1.95" fill="none"/>
<path d="M696.80 134.10v3.8M696.80 217.95v-3.8M720.54 134.10v4.6M720.54 217.95v-4.6M744.29 134.10v3.8M744.29 217.95v-3.8M768.03 134.10v4.6M768.03 217.95v-4.6M791.78 134.10v3.8M791.78 217.95v-3.8M815.52 134.10v4.6M815.52 217.95v-4.6M839.27 134.10v3.8M839.27 217.95v-3.8M863.02 134.10v4.6M863.02 217.95v-4.6M886.76 134.10v3.8M886.76 217.95v-3.8M910.51 134.10v4.6M910.51 217.95v-4.6M934.25 134.10v3.8M934.25 217.95v-3.8M673.05 209.59h3.8M958.00 209.59h-3.8M673.05 201.23h6.2M958.00 201.23h-6.2M673.05 192.87h3.8M958.00 192.87h-3.8M673.05 184.51h6.2M958.00 184.51h-6.2M673.05 176.15h3.8M958.00 176.15h-3.8M673.05 167.79h6.2M958.00 167.79h-6.2M673.05 159.43h3.8M958.00 159.43h-3.8M673.05 151.07h6.2M958.00 151.07h-6.2M673.05 142.71h3.8M958.00 142.71h-3.8" stroke="#111" stroke-width="1.2" fill="none"/>
<rect x="673.05" y="134.1" width="284.95" height="83.85" fill="none" stroke="#111" stroke-width="1.7"/>
<g clip-path="url(#s4)" fill="none" stroke-width="1.05">
<path d="M670.53 191.02L675.57 196.06M670.53 196.06L675.57 191.02M673.05 190.74L673.05 196.34M670.95 193.54L675.15 193.54M955.48 166.61L960.52 171.65M955.48 171.65L960.52 166.61M958.00 166.33L958.00 171.93M955.90 169.13L960.10 169.13" stroke="#00ffff"/>
<path d="M670.53 165.27L675.57 170.31M670.53 170.31L675.57 165.27M673.05 164.99L673.05 170.59M670.95 167.79L675.15 167.79M955.48 167.61L960.52 172.65M955.48 172.65L960.52 167.61M958.00 167.33L958.00 172.93M955.90 170.13L960.10 170.13" stroke="#00ff00"/>
<path d="M670.53 168.61L675.57 173.65M670.53 173.65L675.57 168.61M673.05 168.33L673.05 173.93M670.95 171.13L675.15 171.13M955.48 206.40L960.52 211.44M955.48 211.44L960.52 206.40M958.00 206.12L958.00 211.72M955.90 208.92L960.10 208.92" stroke="#0000ff"/>
<path d="M670.53 205.73L675.57 210.77M670.53 210.77L675.57 205.73M673.05 205.45L673.05 211.05M670.95 208.25L675.15 208.25M955.48 152.90L960.52 157.94M955.48 157.94L960.52 152.90M958.00 152.62L958.00 158.22M955.90 155.42L960.10 155.42" stroke="#ff0000"/>
</g>
<text x="673.05" y="229.05" font-family="Liberation Serif, serif" font-weight="bold" font-size="8.6" stroke="#000" stroke-width="0.2" text-anchor="middle" textLength="5.1" lengthAdjust="spacingAndGlyphs">0</text>
<text x="720.54" y="229.05" font-family="Liberation Serif, serif" font-weight="bold" font-size="8.6" stroke="#000" stroke-width="0.2" text-anchor="middle" textLength="5.1" lengthAdjust="spacingAndGlyphs">4</text>
<text x="768.03" y="229.05" font-family="Liberation Serif, serif" font-weight="bold" font-size="8.6" stroke="#000" stroke-width="0.2" text-anchor="middle" textLength="5.1" lengthAdjust="spacingAndGlyphs">8</text>
<text x="815.52" y="229.05" font-family="Liberation Serif, serif" font-weight="bold" font-size="8.6" stroke="#000" stroke-width="0.2" text-anchor="middle" textLength="10.2" lengthAdjust="spacingAndGlyphs">12</text>
<text x="863.02" y="229.05" font-family="Liberation Serif, serif" font-weight="bold" font-size="8.6" stroke="#000" stroke-width="0.2" text-anchor="middle" textLength="10.2" lengthAdjust="spacingAndGlyphs">16</text>
<text x="910.51" y="229.05" font-family="Liberation Serif, serif" font-weight="bold" font-size="8.6" stroke="#000" stroke-width="0.2" text-anchor="middle" textLength="10.2" lengthAdjust="spacingAndGlyphs">20</text>
<text x="958.00" y="229.05" font-family="Liberation Serif, serif" font-weight="bold" font-size="8.6" stroke="#000" stroke-width="0.2" text-anchor="middle" textLength="10.2" lengthAdjust="spacingAndGlyphs">24</text>
<text x="668.45" y="220.85" font-family="Liberation Sans, sans-serif" font-weight="bold" font-size="8.5" stroke="#000" stroke-width="0.25" text-anchor="end" textLength="5.0" lengthAdjust="spacingAndGlyphs">0</text>
<text x="668.45" y="204.13" font-family="Liberation Sans, sans-serif" font-weight="bold" font-size="8.5" stroke="#000" stroke-width="0.25" text-anchor="end" textLength="5.0" lengthAdjust="spacingAndGlyphs">5</text>
<text x="668.45" y="187.41" font-family="Liberation Sans, sans-serif" font-weight="bold" font-size="8.5" stroke="#000" stroke-width="0.25" text-anchor="end" textLength="10.0" lengthAdjust="spacingAndGlyphs">10</text>
<text x="668.45" y="170.69" font-family="Liberation Sans, sans-serif" font-weight="bold" font-size="8.5" stroke="#000" stroke-width="0.25" text-anchor="end" textLength="10.0" lengthAdjust="spacingAndGlyphs">15</text>
<text x="668.45" y="153.97" font-family="Liberation Sans, sans-serif" font-weight="bold" font-size="8.5" stroke="#000" stroke-width="0.25" text-anchor="end" textLength="10.0" lengthAdjust="spacingAndGlyphs">20</text>
<text x="668.45" y="137.25" font-family="Liberation Sans, sans-serif" font-weight="bold" font-size="8.5" stroke="#000" stroke-width="0.25" text-anchor="end" textLength="10.0" lengthAdjust="spacingAndGlyphs">25</text>
<text x="918.50" y="130.70" font-family="Liberation Serif, serif" font-weight="bold" font-size="7.8" stroke="#000" stroke-width="0.25" text-anchor="end" textLength="15.7" lengthAdjust="spacingAndGlyphs">FSP</text>
<text x="959.50" y="130.70" font-family="Liberation Serif, serif" font-weight="bold" font-size="7.8" stroke="#000" stroke-width="0.25" text-anchor="end" textLength="37.3" lengthAdjust="spacingAndGlyphs">(ug/m3)</text>
<g clip-path="url(#c5)" fill="none" stroke-width="1.1" stroke-linecap="butt">
<path d="M23.05 274.75L34.92 278.30L46.80 274.75L58.67 274.75L70.54 274.75L82.41 274.75L94.29 274.75L106.16 274.75L118.03 270.77L129.91 267.01L141.78 274.75L153.65 270.77L165.53 270.98L177.40 270.77L189.27 270.77L201.14 274.75L213.02 274.75L224.89 279.45L236.76 278.93L248.64 282.48L260.51 286.97L272.38 282.48L284.25 278.93L296.13 274.75L308.00 274.75" stroke="#00ffff"/>
<path d="M20.53 272.23L25.57 277.26M20.53 277.26L25.57 272.23M23.05 271.94L23.05 277.55M20.95 274.75L25.15 274.75M32.40 275.78L37.44 280.82M32.40 280.82L37.44 275.78M34.92 275.50L34.92 281.10M32.82 278.30L37.02 278.30M44.28 272.23L49.32 277.26M44.28 277.26L49.32 272.23M46.80 271.94L46.80 277.55M44.70 274.75L48.90 274.75M56.15 272.23L61.19 277.26M56.15 277.26L61.19 272.23M58.67 271.94L58.67 277.55M56.57 274.75L60.77 274.75M68.02 272.23L73.06 277.26M68.02 277.26L73.06 272.23M70.54 271.94L70.54 277.55M68.44 274.75L72.64 274.75M79.89 272.23L84.93 277.26M79.89 277.26L84.93 272.23M82.41 271.94L82.41 277.55M80.31 274.75L84.51 274.75M91.77 272.23L96.81 277.26M91.77 277.26L96.81 272.23M94.29 271.94L94.29 277.55M92.19 274.75L96.39 274.75M103.64 272.23L108.68 277.26M103.64 277.26L108.68 272.23M106.16 271.94L106.16 277.55M104.06 274.75L108.26 274.75M115.51 268.25L120.55 273.29M115.51 273.29L120.55 268.25M118.03 267.97L118.03 273.57M115.93 270.77L120.13 270.77M127.39 264.49L132.43 269.53M127.39 269.53L132.43 264.49M129.91 264.21L129.91 269.81M127.81 267.01L132.01 267.01M139.26 272.23L144.30 277.26M139.26 277.26L144.30 272.23M141.78 271.94L141.78 277.55M139.68 274.75L143.88 274.75M151.13 268.25L156.17 273.29M151.13 273.29L156.17 268.25M153.65 267.97L153.65 273.57M151.55 270.77L155.75 270.77M163.00 268.46L168.05 273.50M163.00 273.50L168.05 268.46M165.53 268.18L165.53 273.78M163.43 270.98L167.62 270.98M174.88 268.25L179.92 273.29M174.88 273.29L179.92 268.25M177.40 267.97L177.40 273.57M175.30 270.77L179.50 270.77M186.75 268.25L191.79 273.29M186.75 273.29L191.79 268.25M189.27 267.97L189.27 273.57M187.17 270.77L191.37 270.77M198.62 272.23L203.66 277.26M198.62 277.26L203.66 272.23M201.14 271.94L201.14 277.55M199.04 274.75L203.24 274.75M210.50 272.23L215.54 277.26M210.50 277.26L215.54 272.23M213.02 271.94L213.02 277.55M210.92 274.75L215.12 274.75M222.37 276.93L227.41 281.97M222.37 281.97L227.41 276.93M224.89 276.65L224.89 282.25M222.79 279.45L226.99 279.45M234.24 276.41L239.28 281.44M234.24 281.44L239.28 276.41M236.76 276.12L236.76 281.73M234.66 278.93L238.86 278.93M246.12 279.96L251.16 285.00M246.12 285.00L251.16 279.96M248.64 279.68L248.64 285.28M246.54 282.48L250.74 282.48M257.99 284.45L263.03 289.49M257.99 289.49L263.03 284.45M260.51 284.17L260.51 289.77M258.41 286.97L262.61 286.97M269.86 279.96L274.90 285.00M269.86 285.00L274.90 279.96M272.38 279.68L272.38 285.28M270.28 282.48L274.48 282.48M281.73 276.41L286.77 281.44M281.73 281.44L286.77 276.41M284.25 276.12L284.25 281.73M282.15 278.93L286.35 278.93M293.61 272.23L298.65 277.26M293.61 277.26L298.65 272.23M296.13 271.94L296.13 277.55M294.03 274.75L298.23 274.75M305.48 272.23L310.52 277.26M305.48 277.26L310.52 272.23M308.00 271.94L308.00 277.55M305.90 274.75L310.10 274.75" stroke="#00ffff" stroke-width="1.05"/>
<path d="M23.05 274.75L34.92 275.27L46.80 278.30L58.67 278.30L70.54 271.30L82.41 270.77L94.29 250.71L106.16 282.48L118.03 298.15L129.91 290.63L141.78 294.60L153.65 286.97L165.53 290.63L177.40 286.66L189.27 278.93L201.14 278.93L213.02 274.75L224.89 278.93L236.76 291.15L248.64 294.60L260.51 294.60L272.38 298.88L284.25 298.88L296.13 302.86L308.00 291.15" stroke="#00ff00"/>
<path d="M20.53 272.23L25.57 277.26M20.53 277.26L25.57 272.23M23.05 271.94L23.05 277.55M20.95 274.75L25.15 274.75M32.40 272.75L37.44 277.79M32.40 277.79L37.44 272.75M34.92 272.47L34.92 278.07M32.82 275.27L37.02 275.27M44.28 275.78L49.32 280.82M44.28 280.82L49.32 275.78M46.80 275.50L46.80 281.10M44.70 278.30L48.90 278.30M56.15 275.78L61.19 280.82M56.15 280.82L61.19 275.78M58.67 275.50L58.67 281.10M56.57 278.30L60.77 278.30M68.02 268.78L73.06 273.82M68.02 273.82L73.06 268.78M70.54 268.50L70.54 274.10M68.44 271.30L72.64 271.30M79.89 268.25L84.93 273.29M79.89 273.29L84.93 268.25M82.41 267.97L82.41 273.57M80.31 270.77L84.51 270.77M91.77 248.19L96.81 253.23M91.77 253.23L96.81 248.19M94.29 247.91L94.29 253.51M92.19 250.71L96.39 250.71M103.64 279.96L108.68 285.00M103.64 285.00L108.68 279.96M106.16 279.68L106.16 285.28M104.06 282.48L108.26 282.48M115.51 295.63L120.55 300.67M115.51 300.67L120.55 295.63M118.03 295.35L118.03 300.95M115.93 298.15L120.13 298.15M127.39 288.11L132.43 293.15M127.39 293.15L132.43 288.11M129.91 287.83L129.91 293.43M127.81 290.63L132.01 290.63M139.26 292.08L144.30 297.12M139.26 297.12L144.30 292.08M141.78 291.80L141.78 297.40M139.68 294.60L143.88 294.60M151.13 284.45L156.17 289.49M151.13 289.49L156.17 284.45M153.65 284.17L153.65 289.77M151.55 286.97L155.75 286.97M163.00 288.11L168.05 293.15M163.00 293.15L168.05 288.11M165.53 287.83L165.53 293.43M163.43 290.63L167.62 290.63M174.88 284.14L179.92 289.18M174.88 289.18L179.92 284.14M177.40 283.86L177.40 289.46M175.30 286.66L179.50 286.66M186.75 276.41L191.79 281.44M186.75 281.44L191.79 276.41M189.27 276.12L189.27 281.73M187.17 278.93L191.37 278.93M198.62 276.41L203.66 281.44M198.62 281.44L203.66 276.41M201.14 276.12L201.14 281.73M199.04 278.93L203.24 278.93M210.50 272.23L215.54 277.26M210.50 277.26L215.54 272.23M213.02 271.94L213.02 277.55M210.92 274.75L215.12 274.75M222.37 276.41L227.41 281.44M222.37 281.44L227.41 276.41M224.89 276.12L224.89 281.73M222.79 278.93L226.99 278.93M234.24 288.63L239.28 293.67M234.24 293.67L239.28 288.63M236.76 288.35L236.76 293.95M234.66 291.15L238.86 291.15M246.12 292.08L251.16 297.12M246.12 297.12L251.16 292.08M248.64 291.80L248.64 297.40M246.54 294.60L250.74 294.60M257.99 292.08L263.03 297.12M257.99 297.12L263.03 292.08M260.51 291.80L260.51 297.40M258.41 294.60L262.61 294.60M269.86 296.36L274.90 301.40M269.86 301.40L274.90 296.36M272.38 296.08L272.38 301.68M270.28 298.88L274.48 298.88M281.73 296.36L286.77 301.40M281.73 301.40L286.77 296.36M284.25 296.08L284.25 301.68M282.15 298.88L286.35 298.88M293.61 300.34L298.65 305.38M293.61 305.38L298.65 300.34M296.13 300.06L296.13 305.66M294.03 302.86L298.23 302.86M305.48 288.63L310.52 293.67M305.48 293.67L310.52 288.63M308.00 288.35L308.00 293.95M305.90 291.15L310.10 291.15" stroke="#00ff00" stroke-width="1.05"/>
<path d="M23.05 291.88L34.92 302.86L46.80 298.78L58.67 294.60L70.54 298.78L82.41 291.15L94.29 286.97L106.16 291.15L118.03 298.88L129.91 298.78L141.78 294.60L153.65 290.63L165.53 294.60L177.40 286.97L189.27 286.97L201.14 278.93L213.02 274.75L224.89 291.15L236.76 298.88L248.64 302.86L260.51 311.01L272.38 310.59L284.25 318.74L296.13 314.56L308.00 318.74" stroke="#0000ff"/>
<path d="M20.53 289.36L25.57 294.40M20.53 294.40L25.57 289.36M23.05 289.08L23.05 294.68M20.95 291.88L25.15 291.88M32.40 300.34L37.44 305.38M32.40 305.38L37.44 300.34M34.92 300.06L34.92 305.66M32.82 302.86L37.02 302.86M44.28 296.26L49.32 301.30M44.28 301.30L49.32 296.26M46.80 295.98L46.80 301.58M44.70 298.78L48.90 298.78M56.15 292.08L61.19 297.12M56.15 297.12L61.19 292.08M58.67 291.80L58.67 297.40M56.57 294.60L60.77 294.60M68.02 296.26L73.06 301.30M68.02 301.30L73.06 296.26M70.54 295.98L70.54 301.58M68.44 298.78L72.64 298.78M79.89 288.63L84.93 293.67M79.89 293.67L84.93 288.63M82.41 288.35L82.41 293.95M80.31 291.15L84.51 291.15M91.77 284.45L96.81 289.49M91.77 289.49L96.81 284.45M94.29 284.17L94.29 289.77M92.19 286.97L96.39 286.97M103.64 288.63L108.68 293.67M103.64 293.67L108.68 288.63M106.16 288.35L106.16 293.95M104.06 291.15L108.26 291.15M115.51 296.36L120.55 301.40M115.51 301.40L120.55 296.36M118.03 296.08L118.03 301.68M115.93 298.88L120.13 298.88M127.39 296.26L132.43 301.30M127.39 301.30L132.43 296.26M129.91 295.98L129.91 301.58M127.81 298.78L132.01 298.78M139.26 292.08L144.30 297.12M139.26 297.12L144.30 292.08M141.78 291.80L141.78 297.40M139.68 294.60L143.88 294.60M151.13 288.11L156.17 293.15M151.13 293.15L156.17 288.11M153.65 287.83L153.65 293.43M151.55 290.63L155.75 290.63M163.00 292.08L168.05 297.12M163.00 297.12L168.05 292.08M165.53 291.80L165.53 297.40M163.43 294.60L167.62 294.60M174.88 284.45L179.92 289.49M174.88 289.49L179.92 284.45M177.40 284.17L177.40 289.77M175.30 286.97L179.50 286.97M186.75 284.45L191.79 289.49M186.75 289.49L191.79 284.45M189.27 284.17L189.27 289.77M187.17 286.97L191.37 286.97M198.62 276.41L203.66 281.44M198.62 281.44L203.66 276.41M201.14 276.12L201.14 281.73M199.04 278.93L203.24 278.93M210.50 272.23L215.54 277.26M210.50 277.26L215.54 272.23M213.02 271.94L213.02 277.55M210.92 274.75L215.12 274.75M222.37 288.63L227.41 293.67M222.37 293.67L227.41 288.63M224.89 288.35L224.89 293.95M222.79 291.15L226.99 291.15M234.24 296.36L239.28 301.40M234.24 301.40L239.28 296.36M236.76 296.08L236.76 301.68M234.66 298.88L238.86 298.88M246.12 300.34L251.16 305.38M246.12 305.38L251.16 300.34M248.64 300.06L248.64 305.66M246.54 302.86L250.74 302.86M257.99 308.49L263.03 313.53M257.99 313.53L263.03 308.49M260.51 308.21L260.51 313.81M258.41 311.01L262.61 311.01M269.86 308.07L274.90 313.11M269.86 313.11L274.90 308.07M272.38 307.79L272.38 313.39M270.28 310.59L274.48 310.59M281.73 316.22L286.77 321.26M281.73 321.26L286.77 316.22M284.25 315.94L284.25 321.54M282.15 318.74L286.35 318.74M293.61 312.04L298.65 317.08M293.61 317.08L298.65 312.04M296.13 311.76L296.13 317.36M294.03 314.56L298.23 314.56M305.48 316.22L310.52 321.26M305.48 321.26L310.52 316.22M308.00 315.94L308.00 321.54M305.90 318.74L310.10 318.74" stroke="#0000ff" stroke-width="1.05"/>
<path d="M23.05 318.53L34.92 314.56L46.80 314.56L58.67 314.56L70.54 302.33L82.41 314.56L94.29 306.83L106.16 302.33L118.03 306.83L129.91 302.33L141.78 311.01L153.65 294.60L165.53 294.60L177.40 294.60L189.27 290.63L201.14 283.00L213.02 270.77L224.89 282.48L236.76 294.60L248.64 290.63L260.51 282.48L272.38 294.60L284.25 278.93L296.13 274.75L308.00 278.93" stroke="#ff0000"/>
<path d="M20.53 316.01L25.57 321.05M20.53 321.05L25.57 316.01M23.05 315.73L23.05 321.33M20.95 318.53L25.15 318.53M32.40 312.04L37.44 317.08M32.40 317.08L37.44 312.04M34.92 311.76L34.92 317.36M32.82 314.56L37.02 314.56M44.28 312.04L49.32 317.08M44.28 317.08L49.32 312.04M46.80 311.76L46.80 317.36M44.70 314.56L48.90 314.56M56.15 312.04L61.19 317.08M56.15 317.08L61.19 312.04M58.67 311.76L58.67 317.36M56.57 314.56L60.77 314.56M68.02 299.81L73.06 304.85M68.02 304.85L73.06 299.81M70.54 299.53L70.54 305.13M68.44 302.33L72.64 302.33M79.89 312.04L84.93 317.08M79.89 317.08L84.93 312.04M82.41 311.76L82.41 317.36M80.31 314.56L84.51 314.56M91.77 304.31L96.81 309.35M91.77 309.35L96.81 304.31M94.29 304.03L94.29 309.63M92.19 306.83L96.39 306.83M103.64 299.81L108.68 304.85M103.64 304.85L108.68 299.81M106.16 299.53L106.16 305.13M104.06 302.33L108.26 302.33M115.51 304.31L120.55 309.35M115.51 309.35L120.55 304.31M118.03 304.03L118.03 309.63M115.93 306.83L120.13 306.83M127.39 299.81L132.43 304.85M127.39 304.85L132.43 299.81M129.91 299.53L129.91 305.13M127.81 302.33L132.01 302.33M139.26 308.49L144.30 313.53M139.26 313.53L144.30 308.49M141.78 308.21L141.78 313.81M139.68 311.01L143.88 311.01M151.13 292.08L156.17 297.12M151.13 297.12L156.17 292.08M153.65 291.80L153.65 297.40M151.55 294.60L155.75 294.60M163.00 292.08L168.05 297.12M163.00 297.12L168.05 292.08M165.53 291.80L165.53 297.40M163.43 294.60L167.62 294.60M174.88 292.08L179.92 297.12M174.88 297.12L179.92 292.08M177.40 291.80L177.40 297.40M175.30 294.60L179.50 294.60M186.75 288.11L191.79 293.15M186.75 293.15L191.79 288.11M189.27 287.83L189.27 293.43M187.17 290.63L191.37 290.63M198.62 280.48L203.66 285.52M198.62 285.52L203.66 280.48M201.14 280.20L201.14 285.80M199.04 283.00L203.24 283.00M210.50 268.25L215.54 273.29M210.50 273.29L215.54 268.25M213.02 267.97L213.02 273.57M210.92 270.77L215.12 270.77M222.37 279.96L227.41 285.00M222.37 285.00L227.41 279.96M224.89 279.68L224.89 285.28M222.79 282.48L226.99 282.48M234.24 292.08L239.28 297.12M234.24 297.12L239.28 292.08M236.76 291.80L236.76 297.40M234.66 294.60L238.86 294.60M246.12 288.11L251.16 293.15M246.12 293.15L251.16 288.11M248.64 287.83L248.64 293.43M246.54 290.63L250.74 290.63M257.99 279.96L263.03 285.00M257.99 285.00L263.03 279.96M260.51 279.68L260.51 285.28M258.41 282.48L262.61 282.48M269.86 292.08L274.90 297.12M269.86 297.12L274.90 292.08M272.38 291.80L272.38 297.40M270.28 294.60L274.48 294.60M281.73 276.41L286.77 281.44M281.73 281.44L286.77 276.41M284.25 276.12L284.25 281.73M282.15 278.93L286.35 278.93M293.61 272.23L298.65 277.26M293.61 277.26L298.65 272.23M296.13 271.94L296.13 277.55M294.03 274.75L298.23 274.75M305.48 276.41L310.52 281.44M305.48 281.44L310.52 276.41M308.00 276.12L308.00 281.73M305.90 278.93L310.10 278.93" stroke="#ff0000" stroke-width="1.05"/>
</g>
<path d="M24.05 315.50H308.00M24.05 305.05H308.00M24.05 294.60H308.00M24.05 284.15H308.00M24.05 273.70H308.00M24.05 263.25H308.00M24.05 252.80H308.00" stroke="#000" stroke-width="1.1" stroke-dasharray="1.15 1.95" fill="none"/>
<path d="M70.54 243.10V325.95M118.03 243.10V325.95M165.53 243.10V325.95M213.02 243.10V325.95M260.51 243.10V325.95" stroke="#000" stroke-width="1.1" stroke-dasharray="1.15 1.95" fill="none"/>
<path d="M46.80 242.10v3.8M46.80 325.95v-3.8M70.54 242.10v4.6M70.54 325.95v-4.6M94.29 242.10v3.8M94.29 325.95v-3.8M118.03 242.10v4.6M118.03 325.95v-4.6M141.78 242.10v3.8M141.78 325.95v-3.8M165.53 242.10v4.6M165.53 325.95v-4.6M189.27 242.10v3.8M189.27 325.95v-3.8M213.02 242.10v4.6M213.02 325.95v-4.6M236.76 242.10v3.8M236.76 325.95v-3.8M260.51 242.10v4.6M260.51 325.95v-4.6M284.25 242.10v3.8M284.25 325.95v-3.8M23.05 320.72h3.8M308.00 320.72h-3.8M23.05 315.50h6.2M308.00 315.50h-6.2M23.05 310.27h3.8M308.00 310.27h-3.8M23.05 305.05h6.2M308.00 305.05h-6.2M23.05 299.82h3.8M308.00 299.82h-3.8M23.05 294.60h6.2M308.00 294.60h-6.2M23.05 289.38h3.8M308.00 289.38h-3.8M23.05 284.15h6.2M308.00 284.15h-6.2M23.05 278.93h3.8M308.00 278.93h-3.8M23.05 273.70h6.2M308.00 273.70h-6.2M23.05 268.48h3.8M308.00 268.48h-3.8M23.05 263.25h6.2M308.00 263.25h-6.2M23.05 258.02h3.8M308.00 258.02h-3.8M23.05 252.80h6.2M308.00 252.80h-6.2M23.05 247.58h3.8M308.00 247.58h-3.8" stroke="#111" stroke-width="1.2" fill="none"/>
<rect x="23.05" y="242.1" width="284.95" height="83.85" fill="none" stroke="#111" stroke-width="1.7"/>
<g clip-path="url(#s5)" fill="none" stroke-width="1.05">
<path d="M20.53 272.23L25.57 277.26M20.53 277.26L25.57 272.23M23.05 271.94L23.05 277.55M20.95 274.75L25.15 274.75M305.48 272.23L310.52 277.26M305.48 277.26L310.52 272.23M308.00 271.94L308.00 277.55M305.90 274.75L310.10 274.75" stroke="#00ffff"/>
<path d="M20.53 272.23L25.57 277.26M20.53 277.26L25.57 272.23M23.05 271.94L23.05 277.55M20.95 274.75L25.15 274.75M305.48 288.63L310.52 293.67M305.48 293.67L310.52 288.63M308.00 288.35L308.00 293.95M305.90 291.15L310.10 291.15" stroke="#00ff00"/>
<path d="M20.53 289.36L25.57 294.40M20.53 294.40L25.57 289.36M23.05 289.08L23.05 294.68M20.95 291.88L25.15 291.88M305.48 316.22L310.52 321.26M305.48 321.26L310.52 316.22M308.00 315.94L308.00 321.54M305.90 318.74L310.10 318.74" stroke="#0000ff"/>
<path d="M20.53 316.01L25.57 321.05M20.53 321.05L25.57 316.01M23.05 315.73L23.05 321.33M20.95 318.53L25.15 318.53M305.48 276.41L310.52 281.44M305.48 281.44L310.52 276.41M308.00 276.12L308.00 281.73M305.90 278.93L310.10 278.93" stroke="#ff0000"/>
</g>
<text x="23.05" y="337.05" font-family="Liberation Serif, serif" font-weight="bold" font-size="8.6" stroke="#000" stroke-width="0.2" text-anchor="middle" textLength="5.1" lengthAdjust="spacingAndGlyphs">0</text>
<text x="70.54" y="337.05" font-family="Liberation Serif, serif" font-weight="bold" font-size="8.6" stroke="#000" stroke-width="0.2" text-anchor="middle" textLength="5.1" lengthAdjust="spacingAndGlyphs">4</text>
<text x="118.03" y="337.05" font-family="Liberation Serif, serif" font-weight="bold" font-size="8.6" stroke="#000" stroke-width="0.2" text-anchor="middle" textLength="5.1" lengthAdjust="spacingAndGlyphs">8</text>
<text x="165.53" y="337.05" font-family="Liberation Serif, serif" font-weight="bold" font-size="8.6" stroke="#000" stroke-width="0.2" text-anchor="middle" textLength="10.2" lengthAdjust="spacingAndGlyphs">12</text>
<text x="213.02" y="337.05" font-family="Liberation Serif, serif" font-weight="bold" font-size="8.6" stroke="#000" stroke-width="0.2" text-anchor="middle" textLength="10.2" lengthAdjust="spacingAndGlyphs">16</text>
<text x="260.51" y="337.05" font-family="Liberation Serif, serif" font-weight="bold" font-size="8.6" stroke="#000" stroke-width="0.2" text-anchor="middle" textLength="10.2" lengthAdjust="spacingAndGlyphs">20</text>
<text x="308.00" y="337.05" font-family="Liberation Serif, serif" font-weight="bold" font-size="8.6" stroke="#000" stroke-width="0.2" text-anchor="middle" textLength="10.2" lengthAdjust="spacingAndGlyphs">24</text>
<text x="18.45" y="328.85" font-family="Liberation Sans, sans-serif" font-weight="bold" font-size="8.5" stroke="#000" stroke-width="0.25" text-anchor="end" textLength="12.2" lengthAdjust="spacingAndGlyphs">1.8</text>
<text x="18.45" y="318.40" font-family="Liberation Sans, sans-serif" font-weight="bold" font-size="8.5" stroke="#000" stroke-width="0.25" text-anchor="end" textLength="12.2" lengthAdjust="spacingAndGlyphs">1.9</text>
<text x="18.45" y="307.95" font-family="Liberation Sans, sans-serif" font-weight="bold" font-size="8.5" stroke="#000" stroke-width="0.25" text-anchor="end" textLength="12.2" lengthAdjust="spacingAndGlyphs">2.0</text>
<text x="18.45" y="297.50" font-family="Liberation Sans, sans-serif" font-weight="bold" font-size="8.5" stroke="#000" stroke-width="0.25" text-anchor="end" textLength="12.2" lengthAdjust="spacingAndGlyphs">2.1</text>
<text x="18.45" y="287.05" font-family="Liberation Sans, sans-serif" font-weight="bold" font-size="8.5" stroke="#000" stroke-width="0.25" text-anchor="end" textLength="12.2" lengthAdjust="spacingAndGlyphs">2.2</text>
<text x="18.45" y="276.60" font-family="Liberation Sans, sans-serif" font-weight="bold" font-size="8.5" stroke="#000" stroke-width="0.25" text-anchor="end" textLength="12.2" lengthAdjust="spacingAndGlyphs">2.3</text>
<text x="18.45" y="266.15" font-family="Liberation Sans, sans-serif" font-weight="bold" font-size="8.5" stroke="#000" stroke-width="0.25" text-anchor="end" textLength="12.2" lengthAdjust="spacingAndGlyphs">2.4</text>
<text x="18.45" y="255.70" font-family="Liberation Sans, sans-serif" font-weight="bold" font-size="8.5" stroke="#000" stroke-width="0.25" text-anchor="end" textLength="12.2" lengthAdjust="spacingAndGlyphs">2.5</text>
<text x="18.45" y="245.25" font-family="Liberation Sans, sans-serif" font-weight="bold" font-size="8.5" stroke="#000" stroke-width="0.25" text-anchor="end" textLength="12.2" lengthAdjust="spacingAndGlyphs">2.6</text>
<text x="282.90" y="238.70" font-family="Liberation Serif, serif" font-weight="bold" font-size="7.8" stroke="#000" stroke-width="0.25" text-anchor="end" textLength="15.9" lengthAdjust="spacingAndGlyphs">SO2</text>
<text x="309.50" y="238.70" font-family="Liberation Serif, serif" font-weight="bold" font-size="7.8" stroke="#000" stroke-width="0.25" text-anchor="end" textLength="23.0" lengthAdjust="spacingAndGlyphs">(ppb)</text>
<g clip-path="url(#c6)" fill="none" stroke-width="1.1" stroke-linecap="butt">
<path d="M348.05 299.34L359.92 301.15L371.80 302.82L383.67 302.82L395.54 303.52L407.41 303.52L419.29 305.89L431.16 307.56L443.03 309.09L454.91 307.98L466.78 306.86L478.65 307.00L490.52 308.67L502.40 300.87L514.27 298.78L526.14 301.01L538.02 297.67L549.89 301.01L561.76 298.78L573.64 295.16L585.51 296.97L597.38 299.34L609.25 299.76L621.13 299.34L633.00 294.60" stroke="#00ffff"/>
<path d="M345.53 296.82L350.57 301.86M345.53 301.86L350.57 296.82M348.05 296.54L348.05 302.14M345.95 299.34L350.15 299.34M357.40 298.63L362.44 303.67M357.40 303.67L362.44 298.63M359.92 298.35L359.92 303.95M357.82 301.15L362.02 301.15M369.28 300.30L374.32 305.34M369.28 305.34L374.32 300.30M371.80 300.02L371.80 305.62M369.70 302.82L373.90 302.82M381.15 300.30L386.19 305.34M381.15 305.34L386.19 300.30M383.67 300.02L383.67 305.62M381.57 302.82L385.77 302.82M393.02 301.00L398.06 306.04M393.02 306.04L398.06 301.00M395.54 300.72L395.54 306.32M393.44 303.52L397.64 303.52M404.89 301.00L409.93 306.04M404.89 306.04L409.93 301.00M407.41 300.72L407.41 306.32M405.31 303.52L409.51 303.52M416.77 303.37L421.81 308.41M416.77 308.41L421.81 303.37M419.29 303.09L419.29 308.69M417.19 305.89L421.39 305.89M428.64 305.04L433.68 310.08M428.64 310.08L433.68 305.04M431.16 304.76L431.16 310.36M429.06 307.56L433.26 307.56M440.51 306.57L445.55 311.61M440.51 311.61L445.55 306.57M443.03 306.29L443.03 311.89M440.93 309.09L445.13 309.09M452.39 305.46L457.43 310.50M452.39 310.50L457.43 305.46M454.91 305.18L454.91 310.78M452.81 307.98L457.01 307.98M464.26 304.34L469.30 309.38M464.26 309.38L469.30 304.34M466.78 304.06L466.78 309.66M464.68 306.86L468.88 306.86M476.13 304.48L481.17 309.52M476.13 309.52L481.17 304.48M478.65 304.20L478.65 309.80M476.55 307.00L480.75 307.00M488.00 306.15L493.04 311.19M488.00 311.19L493.04 306.15M490.52 305.87L490.52 311.47M488.42 308.67L492.62 308.67M499.88 298.35L504.92 303.39M499.88 303.39L504.92 298.35M502.40 298.07L502.40 303.67M500.30 300.87L504.50 300.87M511.75 296.26L516.79 301.30M511.75 301.30L516.79 296.26M514.27 295.98L514.27 301.58M512.17 298.78L516.37 298.78M523.62 298.49L528.66 303.53M523.62 303.53L528.66 298.49M526.14 298.21L526.14 303.81M524.04 301.01L528.24 301.01M535.50 295.15L540.54 300.19M535.50 300.19L540.54 295.15M538.02 294.87L538.02 300.47M535.92 297.67L540.12 297.67M547.37 298.49L552.41 303.53M547.37 303.53L552.41 298.49M549.89 298.21L549.89 303.81M547.79 301.01L551.99 301.01M559.24 296.26L564.28 301.30M559.24 301.30L564.28 296.26M561.76 295.98L561.76 301.58M559.66 298.78L563.86 298.78M571.12 292.64L576.16 297.68M571.12 297.68L576.16 292.64M573.64 292.36L573.64 297.96M571.54 295.16L575.74 295.16M582.99 294.45L588.03 299.49M582.99 299.49L588.03 294.45M585.51 294.17L585.51 299.77M583.41 296.97L587.61 296.97M594.86 296.82L599.90 301.86M594.86 301.86L599.90 296.82M597.38 296.54L597.38 302.14M595.28 299.34L599.48 299.34M606.73 297.24L611.77 302.28M606.73 302.28L611.77 297.24M609.25 296.96L609.25 302.56M607.15 299.76L611.35 299.76M618.61 296.82L623.65 301.86M618.61 301.86L623.65 296.82M621.13 296.54L621.13 302.14M619.03 299.34L623.23 299.34M630.48 292.08L635.52 297.12M630.48 297.12L635.52 292.08M633.00 291.80L633.00 297.40M630.90 294.60L635.10 294.60" stroke="#00ffff" stroke-width="1.05"/>
<path d="M348.05 294.60L359.92 292.79L371.80 291.12L383.67 290.00L395.54 290.00L407.41 290.00L419.29 294.18L431.16 296.97L443.03 293.49L454.91 291.81L466.78 288.75L478.65 281.78L490.52 273.56L502.40 266.04L514.27 257.26L526.14 253.78L538.02 256.70L549.89 266.59L561.76 279.41L573.64 288.75L585.51 291.81L597.38 293.49L609.25 296.97L621.13 298.08L633.00 297.67" stroke="#00ff00"/>
<path d="M345.53 292.08L350.57 297.12M345.53 297.12L350.57 292.08M348.05 291.80L348.05 297.40M345.95 294.60L350.15 294.60M357.40 290.27L362.44 295.31M357.40 295.31L362.44 290.27M359.92 289.99L359.92 295.59M357.82 292.79L362.02 292.79M369.28 288.60L374.32 293.64M369.28 293.64L374.32 288.60M371.80 288.32L371.80 293.92M369.70 291.12L373.90 291.12M381.15 287.48L386.19 292.52M381.15 292.52L386.19 287.48M383.67 287.20L383.67 292.80M381.57 290.00L385.77 290.00M393.02 287.48L398.06 292.52M393.02 292.52L398.06 287.48M395.54 287.20L395.54 292.80M393.44 290.00L397.64 290.00M404.89 287.48L409.93 292.52M404.89 292.52L409.93 287.48M407.41 287.20L407.41 292.80M405.31 290.00L409.51 290.00M416.77 291.66L421.81 296.70M416.77 296.70L421.81 291.66M419.29 291.38L419.29 296.98M417.19 294.18L421.39 294.18M428.64 294.45L433.68 299.49M428.64 299.49L433.68 294.45M431.16 294.17L431.16 299.77M429.06 296.97L433.26 296.97M440.51 290.97L445.55 296.01M440.51 296.01L445.55 290.97M443.03 290.69L443.03 296.29M440.93 293.49L445.13 293.49M452.39 289.29L457.43 294.33M452.39 294.33L457.43 289.29M454.91 289.01L454.91 294.61M452.81 291.81L457.01 291.81M464.26 286.23L469.30 291.27M464.26 291.27L469.30 286.23M466.78 285.95L466.78 291.55M464.68 288.75L468.88 288.75M476.13 279.26L481.17 284.30M476.13 284.30L481.17 279.26M478.65 278.98L478.65 284.58M476.55 281.78L480.75 281.78M488.00 271.04L493.04 276.08M488.00 276.08L493.04 271.04M490.52 270.76L490.52 276.36M488.42 273.56L492.62 273.56M499.88 263.52L504.92 268.56M499.88 268.56L504.92 263.52M502.40 263.24L502.40 268.84M500.30 266.04L504.50 266.04M511.75 254.74L516.79 259.78M511.75 259.78L516.79 254.74M514.27 254.46L514.27 260.06M512.17 257.26L516.37 257.26M523.62 251.26L528.66 256.30M523.62 256.30L528.66 251.26M526.14 250.98L526.14 256.58M524.04 253.78L528.24 253.78M535.50 254.18L540.54 259.22M535.50 259.22L540.54 254.18M538.02 253.90L538.02 259.50M535.92 256.70L540.12 256.70M547.37 264.07L552.41 269.11M547.37 269.11L552.41 264.07M549.89 263.79L549.89 269.39M547.79 266.59L551.99 266.59M559.24 276.89L564.28 281.93M559.24 281.93L564.28 276.89M561.76 276.61L561.76 282.21M559.66 279.41L563.86 279.41M571.12 286.23L576.16 291.27M571.12 291.27L576.16 286.23M573.64 285.95L573.64 291.55M571.54 288.75L575.74 288.75M582.99 289.29L588.03 294.33M582.99 294.33L588.03 289.29M585.51 289.01L585.51 294.61M583.41 291.81L587.61 291.81M594.86 290.97L599.90 296.01M594.86 296.01L599.90 290.97M597.38 290.69L597.38 296.29M595.28 293.49L599.48 293.49M606.73 294.45L611.77 299.49M606.73 299.49L611.77 294.45M609.25 294.17L609.25 299.77M607.15 296.97L611.35 296.97M618.61 295.56L623.65 300.60M618.61 300.60L623.65 295.56M621.13 295.28L621.13 300.88M619.03 298.08L623.23 298.08M630.48 295.15L635.52 300.19M630.48 300.19L635.52 295.15M633.00 294.87L633.00 300.47M630.90 297.67L635.10 297.67" stroke="#00ff00" stroke-width="1.05"/>
<path d="M348.05 296.97L359.92 296.55L371.80 297.39L383.67 296.55L395.54 297.67L407.41 297.39L419.29 296.55L431.16 299.76L443.03 296.97L454.91 292.79L466.78 289.31L478.65 284.85L490.52 278.02L502.40 272.31L514.27 269.66L526.14 270.50L538.02 276.35L549.89 283.45L561.76 288.33L573.64 288.33L585.51 291.12L597.38 293.49L609.25 293.07L621.13 296.27L633.00 297.67" stroke="#0000ff"/>
<path d="M345.53 294.45L350.57 299.49M345.53 299.49L350.57 294.45M348.05 294.17L348.05 299.77M345.95 296.97L350.15 296.97M357.40 294.03L362.44 299.07M357.40 299.07L362.44 294.03M359.92 293.75L359.92 299.35M357.82 296.55L362.02 296.55M369.28 294.87L374.32 299.91M369.28 299.91L374.32 294.87M371.80 294.59L371.80 300.19M369.70 297.39L373.90 297.39M381.15 294.03L386.19 299.07M381.15 299.07L386.19 294.03M383.67 293.75L383.67 299.35M381.57 296.55L385.77 296.55M393.02 295.15L398.06 300.19M393.02 300.19L398.06 295.15M395.54 294.87L395.54 300.47M393.44 297.67L397.64 297.67M404.89 294.87L409.93 299.91M404.89 299.91L409.93 294.87M407.41 294.59L407.41 300.19M405.31 297.39L409.51 297.39M416.77 294.03L421.81 299.07M416.77 299.07L421.81 294.03M419.29 293.75L419.29 299.35M417.19 296.55L421.39 296.55M428.64 297.24L433.68 302.28M428.64 302.28L433.68 297.24M431.16 296.96L431.16 302.56M429.06 299.76L433.26 299.76M440.51 294.45L445.55 299.49M440.51 299.49L445.55 294.45M443.03 294.17L443.03 299.77M440.93 296.97L445.13 296.97M452.39 290.27L457.43 295.31M452.39 295.31L457.43 290.27M454.91 289.99L454.91 295.59M452.81 292.79L457.01 292.79M464.26 286.79L469.30 291.83M464.26 291.83L469.30 286.79M466.78 286.51L466.78 292.11M464.68 289.31L468.88 289.31M476.13 282.33L481.17 287.37M476.13 287.37L481.17 282.33M478.65 282.05L478.65 287.65M476.55 284.85L480.75 284.85M488.00 275.50L493.04 280.54M488.00 280.54L493.04 275.50M490.52 275.22L490.52 280.82M488.42 278.02L492.62 278.02M499.88 269.79L504.92 274.83M499.88 274.83L504.92 269.79M502.40 269.51L502.40 275.11M500.30 272.31L504.50 272.31M511.75 267.14L516.79 272.18M511.75 272.18L516.79 267.14M514.27 266.86L514.27 272.46M512.17 269.66L516.37 269.66M523.62 267.98L528.66 273.02M523.62 273.02L528.66 267.98M526.14 267.70L526.14 273.30M524.04 270.50L528.24 270.50M535.50 273.83L540.54 278.87M535.50 278.87L540.54 273.83M538.02 273.55L538.02 279.15M535.92 276.35L540.12 276.35M547.37 280.93L552.41 285.97M547.37 285.97L552.41 280.93M549.89 280.65L549.89 286.25M547.79 283.45L551.99 283.45M559.24 285.81L564.28 290.85M559.24 290.85L564.28 285.81M561.76 285.53L561.76 291.13M559.66 288.33L563.86 288.33M571.12 285.81L576.16 290.85M571.12 290.85L576.16 285.81M573.64 285.53L573.64 291.13M571.54 288.33L575.74 288.33M582.99 288.60L588.03 293.64M582.99 293.64L588.03 288.60M585.51 288.32L585.51 293.92M583.41 291.12L587.61 291.12M594.86 290.97L599.90 296.01M594.86 296.01L599.90 290.97M597.38 290.69L597.38 296.29M595.28 293.49L599.48 293.49M606.73 290.55L611.77 295.59M606.73 295.59L611.77 290.55M609.25 290.27L609.25 295.87M607.15 293.07L611.35 293.07M618.61 293.75L623.65 298.79M618.61 298.79L623.65 293.75M621.13 293.47L621.13 299.07M619.03 296.27L623.23 296.27M630.48 295.15L635.52 300.19M630.48 300.19L635.52 295.15M633.00 294.87L633.00 300.47M630.90 297.67L635.10 297.67" stroke="#0000ff" stroke-width="1.05"/>
<path d="M348.05 298.08L359.92 297.67L371.80 297.67L383.67 299.76L395.54 301.01L407.41 302.40L419.29 305.61L431.16 307.98L443.03 306.30L454.91 305.61L466.78 301.01L478.65 297.39L490.52 284.85L502.40 271.75L514.27 266.59L526.14 262.41L538.02 259.63L549.89 262.41L561.76 270.77L573.64 269.66L585.51 305.19L597.38 314.52L609.25 320.79L621.13 318.70L633.00 298.08" stroke="#ff0000"/>
<path d="M345.53 295.56L350.57 300.60M345.53 300.60L350.57 295.56M348.05 295.28L348.05 300.88M345.95 298.08L350.15 298.08M357.40 295.15L362.44 300.19M357.40 300.19L362.44 295.15M359.92 294.87L359.92 300.47M357.82 297.67L362.02 297.67M369.28 295.15L374.32 300.19M369.28 300.19L374.32 295.15M371.80 294.87L371.80 300.47M369.70 297.67L373.90 297.67M381.15 297.24L386.19 302.28M381.15 302.28L386.19 297.24M383.67 296.96L383.67 302.56M381.57 299.76L385.77 299.76M393.02 298.49L398.06 303.53M393.02 303.53L398.06 298.49M395.54 298.21L395.54 303.81M393.44 301.01L397.64 301.01M404.89 299.88L409.93 304.92M404.89 304.92L409.93 299.88M407.41 299.60L407.41 305.20M405.31 302.40L409.51 302.40M416.77 303.09L421.81 308.13M416.77 308.13L421.81 303.09M419.29 302.81L419.29 308.41M417.19 305.61L421.39 305.61M428.64 305.46L433.68 310.50M428.64 310.50L433.68 305.46M431.16 305.18L431.16 310.78M429.06 307.98L433.26 307.98M440.51 303.78L445.55 308.82M440.51 308.82L445.55 303.78M443.03 303.50L443.03 309.10M440.93 306.30L445.13 306.30M452.39 303.09L457.43 308.13M452.39 308.13L457.43 303.09M454.91 302.81L454.91 308.41M452.81 305.61L457.01 305.61M464.26 298.49L469.30 303.53M464.26 303.53L469.30 298.49M466.78 298.21L466.78 303.81M464.68 301.01L468.88 301.01M476.13 294.87L481.17 299.91M476.13 299.91L481.17 294.87M478.65 294.59L478.65 300.19M476.55 297.39L480.75 297.39M488.00 282.33L493.04 287.37M488.00 287.37L493.04 282.33M490.52 282.05L490.52 287.65M488.42 284.85L492.62 284.85M499.88 269.23L504.92 274.27M499.88 274.27L504.92 269.23M502.40 268.95L502.40 274.55M500.30 271.75L504.50 271.75M511.75 264.07L516.79 269.11M511.75 269.11L516.79 264.07M514.27 263.79L514.27 269.39M512.17 266.59L516.37 266.59M523.62 259.89L528.66 264.93M523.62 264.93L528.66 259.89M526.14 259.61L526.14 265.21M524.04 262.41L528.24 262.41M535.50 257.11L540.54 262.15M535.50 262.15L540.54 257.11M538.02 256.83L538.02 262.43M535.92 259.63L540.12 259.63M547.37 259.89L552.41 264.93M547.37 264.93L552.41 259.89M549.89 259.61L549.89 265.21M547.79 262.41L551.99 262.41M559.24 268.25L564.28 273.29M559.24 273.29L564.28 268.25M561.76 267.97L561.76 273.57M559.66 270.77L563.86 270.77M571.12 267.14L576.16 272.18M571.12 272.18L576.16 267.14M573.64 266.86L573.64 272.46M571.54 269.66L575.74 269.66M582.99 302.67L588.03 307.71M582.99 307.71L588.03 302.67M585.51 302.39L585.51 307.99M583.41 305.19L587.61 305.19M594.86 312.00L599.90 317.04M594.86 317.04L599.90 312.00M597.38 311.72L597.38 317.32M595.28 314.52L599.48 314.52M606.73 318.27L611.77 323.31M606.73 323.31L611.77 318.27M609.25 317.99L609.25 323.59M607.15 320.79L611.35 320.79M618.61 316.18L623.65 321.22M618.61 321.22L623.65 316.18M621.13 315.90L621.13 321.50M619.03 318.70L623.23 318.70M630.48 295.56L635.52 300.60M630.48 300.60L635.52 295.56M633.00 295.28L633.00 300.88M630.90 298.08L635.10 298.08" stroke="#ff0000" stroke-width="1.05"/>
</g>
<path d="M349.05 312.02H633.00M349.05 298.08H633.00M349.05 284.15H633.00M349.05 270.22H633.00M349.05 256.28H633.00" stroke="#000" stroke-width="1.1" stroke-dasharray="1.15 1.95" fill="none"/>
<path d="M395.54 243.10V325.95M443.03 243.10V325.95M490.52 243.10V325.95M538.02 243.10V325.95M585.51 243.10V325.95" stroke="#000" stroke-width="1.1" stroke-dasharray="1.15 1.95" fill="none"/>
<path d="M371.80 242.10v3.8M371.80 325.95v-3.8M395.54 242.10v4.6M395.54 325.95v-4.6M419.29 242.10v3.8M419.29 325.95v-3.8M443.03 242.10v4.6M443.03 325.95v-4.6M466.78 242.10v3.8M466.78 325.95v-3.8M490.52 242.10v4.6M490.52 325.95v-4.6M514.27 242.10v3.8M514.27 325.95v-3.8M538.02 242.10v4.6M538.02 325.95v-4.6M561.76 242.10v3.8M561.76 325.95v-3.8M585.51 242.10v4.6M585.51 325.95v-4.6M609.25 242.10v3.8M609.25 325.95v-3.8M348.05 318.98h3.8M633.00 318.98h-3.8M348.05 312.02h6.2M633.00 312.02h-6.2M348.05 305.05h3.8M633.00 305.05h-3.8M348.05 298.08h6.2M633.00 298.08h-6.2M348.05 291.12h3.8M633.00 291.12h-3.8M348.05 284.15h6.2M633.00 284.15h-6.2M348.05 277.18h3.8M633.00 277.18h-3.8M348.05 270.22h6.2M633.00 270.22h-6.2M348.05 263.25h3.8M633.00 263.25h-3.8M348.05 256.28h6.2M633.00 256.28h-6.2M348.05 249.32h3.8M633.00 249.32h-3.8" stroke="#111" stroke-width="1.2" fill="none"/>
<rect x="348.05" y="242.1" width="284.95" height="83.85" fill="none" stroke="#111" stroke-width="1.7"/>
<g clip-path="url(#s6)" fill="none" stroke-width="1.05">
<path d="M345.53 296.82L350.57 301.86M345.53 301.86L350.57 296.82M348.05 296.54L348.05 302.14M345.95 299.34L350.15 299.34M630.48 292.08L635.52 297.12M630.48 297.12L635.52 292.08M633.00 291.80L633.00 297.40M630.90 294.60L635.10 294.60" stroke="#00ffff"/>
<path d="M345.53 292.08L350.57 297.12M345.53 297.12L350.57 292.08M348.05 291.80L348.05 297.40M345.95 294.60L350.15 294.60M630.48 295.15L635.52 300.19M630.48 300.19L635.52 295.15M633.00 294.87L633.00 300.47M630.90 297.67L635.10 297.67" stroke="#00ff00"/>
<path d="M345.53 294.45L350.57 299.49M345.53 299.49L350.57 294.45M348.05 294.17L348.05 299.77M345.95 296.97L350.15 296.97M630.48 295.15L635.52 300.19M630.48 300.19L635.52 295.15M633.00 294.87L633.00 300.47M630.90 297.67L635.10 297.67" stroke="#0000ff"/>
<path d="M345.53 295.56L350.57 300.60M345.53 300.60L350.57 295.56M348.05 295.28L348.05 300.88M345.95 298.08L350.15 298.08M630.48 295.56L635.52 300.60M630.48 300.60L635.52 295.56M633.00 295.28L633.00 300.88M630.90 298.08L635.10 298.08" stroke="#ff0000"/>
</g>
<text x="348.05" y="337.05" font-family="Liberation Serif, serif" font-weight="bold" font-size="8.6" stroke="#000" stroke-width="0.2" text-anchor="middle" textLength="5.1" lengthAdjust="spacingAndGlyphs">0</text>
<text x="395.54" y="337.05" font-family="Liberation Serif, serif" font-weight="bold" font-size="8.6" stroke="#000" stroke-width="0.2" text-anchor="middle" textLength="5.1" lengthAdjust="spacingAndGlyphs">4</text>
<text x="443.03" y="337.05" font-family="Liberation Serif, serif" font-weight="bold" font-size="8.6" stroke="#000" stroke-width="0.2" text-anchor="middle" textLength="5.1" lengthAdjust="spacingAndGlyphs">8</text>
<text x="490.52" y="337.05" font-family="Liberation Serif, serif" font-weight="bold" font-size="8.6" stroke="#000" stroke-width="0.2" text-anchor="middle" textLength="10.2" lengthAdjust="spacingAndGlyphs">12</text>
<text x="538.02" y="337.05" font-family="Liberation Serif, serif" font-weight="bold" font-size="8.6" stroke="#000" stroke-width="0.2" text-anchor="middle" textLength="10.2" lengthAdjust="spacingAndGlyphs">16</text>
<text x="585.51" y="337.05" font-family="Liberation Serif, serif" font-weight="bold" font-size="8.6" stroke="#000" stroke-width="0.2" text-anchor="middle" textLength="10.2" lengthAdjust="spacingAndGlyphs">20</text>
<text x="633.00" y="337.05" font-family="Liberation Serif, serif" font-weight="bold" font-size="8.6" stroke="#000" stroke-width="0.2" text-anchor="middle" textLength="10.2" lengthAdjust="spacingAndGlyphs">24</text>
<text x="343.45" y="328.85" font-family="Liberation Sans, sans-serif" font-weight="bold" font-size="8.5" stroke="#000" stroke-width="0.25" text-anchor="end" textLength="10.0" lengthAdjust="spacingAndGlyphs">10</text>
<text x="343.45" y="314.92" font-family="Liberation Sans, sans-serif" font-weight="bold" font-size="8.5" stroke="#000" stroke-width="0.25" text-anchor="end" textLength="10.0" lengthAdjust="spacingAndGlyphs">20</text>
<text x="343.45" y="300.98" font-family="Liberation Sans, sans-serif" font-weight="bold" font-size="8.5" stroke="#000" stroke-width="0.25" text-anchor="end" textLength="10.0" lengthAdjust="spacingAndGlyphs">30</text>
<text x="343.45" y="287.05" font-family="Liberation Sans, sans-serif" font-weight="bold" font-size="8.5" stroke="#000" stroke-width="0.25" text-anchor="end" textLength="10.0" lengthAdjust="spacingAndGlyphs">40</text>
<text x="343.45" y="273.12" font-family="Liberation Sans, sans-serif" font-weight="bold" font-size="8.5" stroke="#000" stroke-width="0.25" text-anchor="end" textLength="10.0" lengthAdjust="spacingAndGlyphs">50</text>
<text x="343.45" y="259.18" font-family="Liberation Sans, sans-serif" font-weight="bold" font-size="8.5" stroke="#000" stroke-width="0.25" text-anchor="end" textLength="10.0" lengthAdjust="spacingAndGlyphs">60</text>
<text x="343.45" y="245.25" font-family="Liberation Sans, sans-serif" font-weight="bold" font-size="8.5" stroke="#000" stroke-width="0.25" text-anchor="end" textLength="10.0" lengthAdjust="spacingAndGlyphs">70</text>
<text x="607.90" y="238.70" font-family="Liberation Serif, serif" font-weight="bold" font-size="7.8" stroke="#000" stroke-width="0.25" text-anchor="end" textLength="10.3" lengthAdjust="spacingAndGlyphs">O3</text>
<text x="634.50" y="238.70" font-family="Liberation Serif, serif" font-weight="bold" font-size="7.8" stroke="#000" stroke-width="0.25" text-anchor="end" textLength="23.0" lengthAdjust="spacingAndGlyphs">(ppb)</text>
<g clip-path="url(#c7)" fill="none" stroke-width="1.1" stroke-linecap="butt">
<path d="M673.05 288.09L684.92 287.73L696.80 288.09L708.67 288.78L720.54 288.78L732.41 289.50L744.29 284.87L756.16 287.73L768.03 287.02L779.91 287.02L791.78 288.33L803.65 288.33L815.52 285.58L827.40 290.60L839.27 287.16L851.14 285.99L863.02 288.33L874.89 285.82L886.76 287.16L898.64 291.79L910.51 291.12L922.38 286.54L934.25 287.73L946.13 289.26L958.00 290.43" stroke="#00ffff"/>
<path d="M670.53 285.57L675.57 290.61M670.53 290.61L675.57 285.57M673.05 285.29L673.05 290.89M670.95 288.09L675.15 288.09M682.40 285.21L687.44 290.25M682.40 290.25L687.44 285.21M684.92 284.93L684.92 290.53M682.82 287.73L687.02 287.73M694.28 285.57L699.32 290.61M694.28 290.61L699.32 285.57M696.80 285.29L696.80 290.89M694.70 288.09L698.90 288.09M706.15 286.26L711.19 291.30M706.15 291.30L711.19 286.26M708.67 285.98L708.67 291.58M706.57 288.78L710.77 288.78M718.02 286.26L723.06 291.30M718.02 291.30L723.06 286.26M720.54 285.98L720.54 291.58M718.44 288.78L722.64 288.78M729.89 286.98L734.93 292.02M729.89 292.02L734.93 286.98M732.41 286.70L732.41 292.30M730.31 289.50L734.51 289.50M741.77 282.35L746.81 287.39M741.77 287.39L746.81 282.35M744.29 282.07L744.29 287.67M742.19 284.87L746.39 284.87M753.64 285.21L758.68 290.25M753.64 290.25L758.68 285.21M756.16 284.93L756.16 290.53M754.06 287.73L758.26 287.73M765.51 284.50L770.55 289.54M765.51 289.54L770.55 284.50M768.03 284.22L768.03 289.82M765.93 287.02L770.13 287.02M777.39 284.50L782.43 289.54M777.39 289.54L782.43 284.50M779.91 284.22L779.91 289.82M777.81 287.02L782.01 287.02M789.26 285.81L794.30 290.85M789.26 290.85L794.30 285.81M791.78 285.53L791.78 291.13M789.68 288.33L793.88 288.33M801.13 285.81L806.17 290.85M801.13 290.85L806.17 285.81M803.65 285.53L803.65 291.13M801.55 288.33L805.75 288.33M813.00 283.06L818.04 288.10M813.00 288.10L818.04 283.06M815.52 282.78L815.52 288.38M813.42 285.58L817.62 285.58M824.88 288.08L829.92 293.12M824.88 293.12L829.92 288.08M827.40 287.80L827.40 293.40M825.30 290.60L829.50 290.60M836.75 284.64L841.79 289.68M836.75 289.68L841.79 284.64M839.27 284.36L839.27 289.96M837.17 287.16L841.37 287.16M848.62 283.47L853.66 288.51M848.62 288.51L853.66 283.47M851.14 283.19L851.14 288.79M849.04 285.99L853.24 285.99M860.50 285.81L865.54 290.85M860.50 290.85L865.54 285.81M863.02 285.53L863.02 291.13M860.92 288.33L865.12 288.33M872.37 283.30L877.41 288.34M872.37 288.34L877.41 283.30M874.89 283.02L874.89 288.62M872.79 285.82L876.99 285.82M884.24 284.64L889.28 289.68M884.24 289.68L889.28 284.64M886.76 284.36L886.76 289.96M884.66 287.16L888.86 287.16M896.12 289.27L901.16 294.31M896.12 294.31L901.16 289.27M898.64 288.99L898.64 294.59M896.54 291.79L900.74 291.79M907.99 288.60L913.03 293.64M907.99 293.64L913.03 288.60M910.51 288.32L910.51 293.92M908.41 291.12L912.61 291.12M919.86 284.02L924.90 289.06M919.86 289.06L924.90 284.02M922.38 283.74L922.38 289.34M920.28 286.54L924.48 286.54M931.73 285.21L936.77 290.25M931.73 290.25L936.77 285.21M934.25 284.93L934.25 290.53M932.15 287.73L936.35 287.73M943.61 286.74L948.65 291.78M943.61 291.78L948.65 286.74M946.13 286.46L946.13 292.06M944.03 289.26L948.23 289.26M955.48 287.91L960.52 292.95M955.48 292.95L960.52 287.91M958.00 287.63L958.00 293.23M955.90 290.43L960.10 290.43" stroke="#00ffff" stroke-width="1.05"/>
<path d="M673.05 289.95L684.92 290.12L696.80 290.12L708.67 291.08L720.54 278.18L732.41 285.34L744.29 284.15L756.16 278.18L768.03 276.51L779.91 275.55L791.78 280.57L803.65 284.87L815.52 288.09L827.40 291.32L839.27 293.47L851.14 294.66L863.02 294.18L874.89 293.47L886.76 294.18L898.64 292.75L910.51 292.99L922.38 295.14L934.25 294.18L946.13 296.33L958.00 298.84" stroke="#00ff00"/>
<path d="M670.53 287.43L675.57 292.47M670.53 292.47L675.57 287.43M673.05 287.15L673.05 292.75M670.95 289.95L675.15 289.95M682.40 287.60L687.44 292.64M682.40 292.64L687.44 287.60M684.92 287.32L684.92 292.92M682.82 290.12L687.02 290.12M694.28 287.60L699.32 292.64M694.28 292.64L699.32 287.60M696.80 287.32L696.80 292.92M694.70 290.12L698.90 290.12M706.15 288.56L711.19 293.60M706.15 293.60L711.19 288.56M708.67 288.28L708.67 293.88M706.57 291.08L710.77 291.08M718.02 275.66L723.06 280.70M718.02 280.70L723.06 275.66M720.54 275.38L720.54 280.98M718.44 278.18L722.64 278.18M729.89 282.82L734.93 287.86M729.89 287.86L734.93 282.82M732.41 282.54L732.41 288.14M730.31 285.34L734.51 285.34M741.77 281.63L746.81 286.67M741.77 286.67L746.81 281.63M744.29 281.35L744.29 286.95M742.19 284.15L746.39 284.15M753.64 275.66L758.68 280.70M753.64 280.70L758.68 275.66M756.16 275.38L756.16 280.98M754.06 278.18L758.26 278.18M765.51 273.99L770.55 279.03M765.51 279.03L770.55 273.99M768.03 273.71L768.03 279.31M765.93 276.51L770.13 276.51M777.39 273.03L782.43 278.07M777.39 278.07L782.43 273.03M779.91 272.75L779.91 278.35M777.81 275.55L782.01 275.55M789.26 278.05L794.30 283.09M789.26 283.09L794.30 278.05M791.78 277.77L791.78 283.37M789.68 280.57L793.88 280.57M801.13 282.35L806.17 287.39M801.13 287.39L806.17 282.35M803.65 282.07L803.65 287.67M801.55 284.87L805.75 284.87M813.00 285.57L818.04 290.61M813.00 290.61L818.04 285.57M815.52 285.29L815.52 290.89M813.42 288.09L817.62 288.09M824.88 288.80L829.92 293.84M824.88 293.84L829.92 288.80M827.40 288.52L827.40 294.12M825.30 291.32L829.50 291.32M836.75 290.95L841.79 295.99M836.75 295.99L841.79 290.95M839.27 290.67L839.27 296.27M837.17 293.47L841.37 293.47M848.62 292.14L853.66 297.18M848.62 297.18L853.66 292.14M851.14 291.86L851.14 297.46M849.04 294.66L853.24 294.66M860.50 291.66L865.54 296.70M860.50 296.70L865.54 291.66M863.02 291.38L863.02 296.98M860.92 294.18L865.12 294.18M872.37 290.95L877.41 295.99M872.37 295.99L877.41 290.95M874.89 290.67L874.89 296.27M872.79 293.47L876.99 293.47M884.24 291.66L889.28 296.70M884.24 296.70L889.28 291.66M886.76 291.38L886.76 296.98M884.66 294.18L888.86 294.18M896.12 290.23L901.16 295.27M896.12 295.27L901.16 290.23M898.64 289.95L898.64 295.55M896.54 292.75L900.74 292.75M907.99 290.47L913.03 295.51M907.99 295.51L913.03 290.47M910.51 290.19L910.51 295.79M908.41 292.99L912.61 292.99M919.86 292.62L924.90 297.66M919.86 297.66L924.90 292.62M922.38 292.34L922.38 297.94M920.28 295.14L924.48 295.14M931.73 291.66L936.77 296.70M931.73 296.70L936.77 291.66M934.25 291.38L934.25 296.98M932.15 294.18L936.35 294.18M943.61 293.81L948.65 298.85M943.61 298.85L948.65 293.81M946.13 293.53L946.13 299.13M944.03 296.33L948.23 296.33M955.48 296.32L960.52 301.36M955.48 301.36L960.52 296.32M958.00 296.04L958.00 301.64M955.90 298.84L960.10 298.84" stroke="#00ff00" stroke-width="1.05"/>
<path d="M673.05 298.60L684.92 300.49L696.80 303.98L708.67 306.84L720.54 308.66L732.41 309.83L744.29 307.96L756.16 305.17L768.03 306.36L779.91 308.66L791.78 307.96L803.65 307.32L815.52 309.83L827.40 308.11L839.27 307.96L851.14 305.89L863.02 306.36L874.89 305.89L886.76 305.89L898.64 306.84L910.51 308.66L922.38 307.56L934.25 309.83L946.13 310.30L958.00 311.00" stroke="#0000ff"/>
<path d="M670.53 296.08L675.57 301.12M670.53 301.12L675.57 296.08M673.05 295.80L673.05 301.40M670.95 298.60L675.15 298.60M682.40 297.97L687.44 303.01M682.40 303.01L687.44 297.97M684.92 297.69L684.92 303.29M682.82 300.49L687.02 300.49M694.28 301.46L699.32 306.50M694.28 306.50L699.32 301.46M696.80 301.18L696.80 306.78M694.70 303.98L698.90 303.98M706.15 304.32L711.19 309.36M706.15 309.36L711.19 304.32M708.67 304.04L708.67 309.64M706.57 306.84L710.77 306.84M718.02 306.14L723.06 311.18M718.02 311.18L723.06 306.14M720.54 305.86L720.54 311.46M718.44 308.66L722.64 308.66M729.89 307.31L734.93 312.35M729.89 312.35L734.93 307.31M732.41 307.03L732.41 312.63M730.31 309.83L734.51 309.83M741.77 305.44L746.81 310.48M741.77 310.48L746.81 305.44M744.29 305.16L744.29 310.76M742.19 307.96L746.39 307.96M753.64 302.65L758.68 307.69M753.64 307.69L758.68 302.65M756.16 302.37L756.16 307.97M754.06 305.17L758.26 305.17M765.51 303.84L770.55 308.88M765.51 308.88L770.55 303.84M768.03 303.56L768.03 309.16M765.93 306.36L770.13 306.36M777.39 306.14L782.43 311.18M777.39 311.18L782.43 306.14M779.91 305.86L779.91 311.46M777.81 308.66L782.01 308.66M789.26 305.44L794.30 310.48M789.26 310.48L794.30 305.44M791.78 305.16L791.78 310.76M789.68 307.96L793.88 307.96M801.13 304.80L806.17 309.84M801.13 309.84L806.17 304.80M803.65 304.52L803.65 310.12M801.55 307.32L805.75 307.32M813.00 307.31L818.04 312.35M813.00 312.35L818.04 307.31M815.52 307.03L815.52 312.63M813.42 309.83L817.62 309.83M824.88 305.59L829.92 310.63M824.88 310.63L829.92 305.59M827.40 305.31L827.40 310.91M825.30 308.11L829.50 308.11M836.75 305.44L841.79 310.48M836.75 310.48L841.79 305.44M839.27 305.16L839.27 310.76M837.17 307.96L841.37 307.96M848.62 303.37L853.66 308.41M848.62 308.41L853.66 303.37M851.14 303.09L851.14 308.69M849.04 305.89L853.24 305.89M860.50 303.84L865.54 308.88M860.50 308.88L865.54 303.84M863.02 303.56L863.02 309.16M860.92 306.36L865.12 306.36M872.37 303.37L877.41 308.41M872.37 308.41L877.41 303.37M874.89 303.09L874.89 308.69M872.79 305.89L876.99 305.89M884.24 303.37L889.28 308.41M884.24 308.41L889.28 303.37M886.76 303.09L886.76 308.69M884.66 305.89L888.86 305.89M896.12 304.32L901.16 309.36M896.12 309.36L901.16 304.32M898.64 304.04L898.64 309.64M896.54 306.84L900.74 306.84M907.99 306.14L913.03 311.18M907.99 311.18L913.03 306.14M910.51 305.86L910.51 311.46M908.41 308.66L912.61 308.66M919.86 305.04L924.90 310.08M919.86 310.08L924.90 305.04M922.38 304.76L922.38 310.36M920.28 307.56L924.48 307.56M931.73 307.31L936.77 312.35M931.73 312.35L936.77 307.31M934.25 307.03L934.25 312.63M932.15 309.83L936.35 309.83M943.61 307.78L948.65 312.82M943.61 312.82L948.65 307.78M946.13 307.50L946.13 313.10M944.03 310.30L948.23 310.30M955.48 308.48L960.52 313.52M955.48 313.52L960.52 308.48M958.00 308.20L958.00 313.80M955.90 311.00L960.10 311.00" stroke="#0000ff" stroke-width="1.05"/>
<path d="M673.05 310.54L684.92 310.30L696.80 309.47L708.67 306.84L720.54 300.01L732.41 309.83L744.29 307.56L756.16 304.69L768.03 303.50L779.91 305.89L791.78 307.08L803.65 307.08L815.52 311.00L827.40 316.40L839.27 320.84L851.14 318.07L863.02 313.82L874.89 315.20L886.76 303.98L898.64 311.71L910.51 279.90L922.38 260.74L934.25 244.83L946.13 250.23L958.00 275.22" stroke="#ff0000"/>
<path d="M670.53 308.02L675.57 313.06M670.53 313.06L675.57 308.02M673.05 307.74L673.05 313.34M670.95 310.54L675.15 310.54M682.40 307.78L687.44 312.82M682.40 312.82L687.44 307.78M684.92 307.50L684.92 313.10M682.82 310.30L687.02 310.30M694.28 306.95L699.32 311.99M694.28 311.99L699.32 306.95M696.80 306.67L696.80 312.27M694.70 309.47L698.90 309.47M706.15 304.32L711.19 309.36M706.15 309.36L711.19 304.32M708.67 304.04L708.67 309.64M706.57 306.84L710.77 306.84M718.02 297.49L723.06 302.53M718.02 302.53L723.06 297.49M720.54 297.21L720.54 302.81M718.44 300.01L722.64 300.01M729.89 307.31L734.93 312.35M729.89 312.35L734.93 307.31M732.41 307.03L732.41 312.63M730.31 309.83L734.51 309.83M741.77 305.04L746.81 310.08M741.77 310.08L746.81 305.04M744.29 304.76L744.29 310.36M742.19 307.56L746.39 307.56M753.64 302.17L758.68 307.21M753.64 307.21L758.68 302.17M756.16 301.89L756.16 307.49M754.06 304.69L758.26 304.69M765.51 300.98L770.55 306.02M765.51 306.02L770.55 300.98M768.03 300.70L768.03 306.30M765.93 303.50L770.13 303.50M777.39 303.37L782.43 308.41M777.39 308.41L782.43 303.37M779.91 303.09L779.91 308.69M777.81 305.89L782.01 305.89M789.26 304.56L794.30 309.60M789.26 309.60L794.30 304.56M791.78 304.28L791.78 309.88M789.68 307.08L793.88 307.08M801.13 304.56L806.17 309.60M801.13 309.60L806.17 304.56M803.65 304.28L803.65 309.88M801.55 307.08L805.75 307.08M813.00 308.48L818.04 313.52M813.00 313.52L818.04 308.48M815.52 308.20L815.52 313.80M813.42 311.00L817.62 311.00M824.88 313.88L829.92 318.92M824.88 318.92L829.92 313.88M827.40 313.60L827.40 319.20M825.30 316.40L829.50 316.40M836.75 318.32L841.79 323.36M836.75 323.36L841.79 318.32M839.27 318.04L839.27 323.64M837.17 320.84L841.37 320.84M848.62 315.55L853.66 320.59M848.62 320.59L853.66 315.55M851.14 315.27L851.14 320.87M849.04 318.07L853.24 318.07M860.50 311.30L865.54 316.34M860.50 316.34L865.54 311.30M863.02 311.02L863.02 316.62M860.92 313.82L865.12 313.82M872.37 312.68L877.41 317.72M872.37 317.72L877.41 312.68M874.89 312.40L874.89 318.00M872.79 315.20L876.99 315.20M884.24 301.46L889.28 306.50M884.24 306.50L889.28 301.46M886.76 301.18L886.76 306.78M884.66 303.98L888.86 303.98M896.12 309.19L901.16 314.23M896.12 314.23L901.16 309.19M898.64 308.91L898.64 314.51M896.54 311.71L900.74 311.71M907.99 277.38L913.03 282.42M907.99 282.42L913.03 277.38M910.51 277.10L910.51 282.70M908.41 279.90L912.61 279.90M919.86 258.22L924.90 263.26M919.86 263.26L924.90 258.22M922.38 257.94L922.38 263.54M920.28 260.74L924.48 260.74M931.73 242.31L936.77 247.35M931.73 247.35L936.77 242.31M934.25 242.03L934.25 247.63M932.15 244.83L936.35 244.83M943.61 247.71L948.65 252.75M943.61 252.75L948.65 247.71M946.13 247.43L946.13 253.03M944.03 250.23L948.23 250.23M955.48 272.70L960.52 277.74M955.48 277.74L960.52 272.70M958.00 272.42L958.00 278.02M955.90 275.22L960.10 275.22" stroke="#ff0000" stroke-width="1.05"/>
</g>
<path d="M674.05 314.01H958.00M674.05 302.06H958.00M674.05 290.12H958.00M674.05 278.18H958.00M674.05 266.24H958.00M674.05 254.29H958.00" stroke="#000" stroke-width="1.1" stroke-dasharray="1.15 1.95" fill="none"/>
<path d="M720.54 243.10V325.95M768.03 243.10V325.95M815.52 243.10V325.95M863.02 243.10V325.95M910.51 243.10V325.95" stroke="#000" stroke-width="1.1" stroke-dasharray="1.15 1.95" fill="none"/>
<path d="M696.80 242.10v3.8M696.80 325.95v-3.8M720.54 242.10v4.6M720.54 325.95v-4.6M744.29 242.10v3.8M744.29 325.95v-3.8M768.03 242.10v4.6M768.03 325.95v-4.6M791.78 242.10v3.8M791.78 325.95v-3.8M815.52 242.10v4.6M815.52 325.95v-4.6M839.27 242.10v3.8M839.27 325.95v-3.8M863.02 242.10v4.6M863.02 325.95v-4.6M886.76 242.10v3.8M886.76 325.95v-3.8M910.51 242.10v4.6M910.51 325.95v-4.6M934.25 242.10v3.8M934.25 325.95v-3.8M673.05 319.98h3.8M958.00 319.98h-3.8M673.05 314.01h6.2M958.00 314.01h-6.2M673.05 308.04h3.8M958.00 308.04h-3.8M673.05 302.06h6.2M958.00 302.06h-6.2M673.05 296.09h3.8M958.00 296.09h-3.8M673.05 290.12h6.2M958.00 290.12h-6.2M673.05 284.15h3.8M958.00 284.15h-3.8M673.05 278.18h6.2M958.00 278.18h-6.2M673.05 272.21h3.8M958.00 272.21h-3.8M673.05 266.24h6.2M958.00 266.24h-6.2M673.05 260.26h3.8M958.00 260.26h-3.8M673.05 254.29h6.2M958.00 254.29h-6.2M673.05 248.32h3.8M958.00 248.32h-3.8" stroke="#111" stroke-width="1.2" fill="none"/>
<rect x="673.05" y="242.1" width="284.95" height="83.85" fill="none" stroke="#111" stroke-width="1.7"/>
<g clip-path="url(#s7)" fill="none" stroke-width="1.05">
<path d="M670.53 285.57L675.57 290.61M670.53 290.61L675.57 285.57M673.05 285.29L673.05 290.89M670.95 288.09L675.15 288.09M955.48 287.91L960.52 292.95M955.48 292.95L960.52 287.91M958.00 287.63L958.00 293.23M955.90 290.43L960.10 290.43" stroke="#00ffff"/>
<path d="M670.53 287.43L675.57 292.47M670.53 292.47L675.57 287.43M673.05 287.15L673.05 292.75M670.95 289.95L675.15 289.95M955.48 296.32L960.52 301.36M955.48 301.36L960.52 296.32M958.00 296.04L958.00 301.64M955.90 298.84L960.10 298.84" stroke="#00ff00"/>
<path d="M670.53 296.08L675.57 301.12M670.53 301.12L675.57 296.08M673.05 295.80L673.05 301.40M670.95 298.60L675.15 298.60M955.48 308.48L960.52 313.52M955.48 313.52L960.52 308.48M958.00 308.20L958.00 313.80M955.90 311.00L960.10 311.00" stroke="#0000ff"/>
<path d="M670.53 308.02L675.57 313.06M670.53 313.06L675.57 308.02M673.05 307.74L673.05 313.34M670.95 310.54L675.15 310.54M931.73 242.31L936.77 247.35M931.73 247.35L936.77 242.31M934.25 242.03L934.25 247.63M932.15 244.83L936.35 244.83M955.48 272.70L960.52 277.74M955.48 277.74L960.52 272.70M958.00 272.42L958.00 278.02M955.90 275.22L960.10 275.22" stroke="#ff0000"/>
</g>
<text x="673.05" y="337.05" font-family="Liberation Serif, serif" font-weight="bold" font-size="8.6" stroke="#000" stroke-width="0.2" text-anchor="middle" textLength="5.1" lengthAdjust="spacingAndGlyphs">0</text>
<text x="720.54" y="337.05" font-family="Liberation Serif, serif" font-weight="bold" font-size="8.6" stroke="#000" stroke-width="0.2" text-anchor="middle" textLength="5.1" lengthAdjust="spacingAndGlyphs">4</text>
<text x="768.03" y="337.05" font-family="Liberation Serif, serif" font-weight="bold" font-size="8.6" stroke="#000" stroke-width="0.2" text-anchor="middle" textLength="5.1" lengthAdjust="spacingAndGlyphs">8</text>
<text x="815.52" y="337.05" font-family="Liberation Serif, serif" font-weight="bold" font-size="8.6" stroke="#000" stroke-width="0.2" text-anchor="middle" textLength="10.2" lengthAdjust="spacingAndGlyphs">12</text>
<text x="863.02" y="337.05" font-family="Liberation Serif, serif" font-weight="bold" font-size="8.6" stroke="#000" stroke-width="0.2" text-anchor="middle" textLength="10.2" lengthAdjust="spacingAndGlyphs">16</text>
<text x="910.51" y="337.05" font-family="Liberation Serif, serif" font-weight="bold" font-size="8.6" stroke="#000" stroke-width="0.2" text-anchor="middle" textLength="10.2" lengthAdjust="spacingAndGlyphs">20</text>
<text x="958.00" y="337.05" font-family="Liberation Serif, serif" font-weight="bold" font-size="8.6" stroke="#000" stroke-width="0.2" text-anchor="middle" textLength="10.2" lengthAdjust="spacingAndGlyphs">24</text>
<text x="668.45" y="328.85" font-family="Liberation Sans, sans-serif" font-weight="bold" font-size="8.5" stroke="#000" stroke-width="0.25" text-anchor="end" textLength="17.2" lengthAdjust="spacingAndGlyphs">0.25</text>
<text x="668.45" y="316.91" font-family="Liberation Sans, sans-serif" font-weight="bold" font-size="8.5" stroke="#000" stroke-width="0.25" text-anchor="end" textLength="17.2" lengthAdjust="spacingAndGlyphs">0.30</text>
<text x="668.45" y="304.96" font-family="Liberation Sans, sans-serif" font-weight="bold" font-size="8.5" stroke="#000" stroke-width="0.25" text-anchor="end" textLength="17.2" lengthAdjust="spacingAndGlyphs">0.35</text>
<text x="668.45" y="293.02" font-family="Liberation Sans, sans-serif" font-weight="bold" font-size="8.5" stroke="#000" stroke-width="0.25" text-anchor="end" textLength="17.2" lengthAdjust="spacingAndGlyphs">0.40</text>
<text x="668.45" y="281.08" font-family="Liberation Sans, sans-serif" font-weight="bold" font-size="8.5" stroke="#000" stroke-width="0.25" text-anchor="end" textLength="17.2" lengthAdjust="spacingAndGlyphs">0.45</text>
<text x="668.45" y="269.14" font-family="Liberation Sans, sans-serif" font-weight="bold" font-size="8.5" stroke="#000" stroke-width="0.25" text-anchor="end" textLength="17.2" lengthAdjust="spacingAndGlyphs">0.50</text>
<text x="668.45" y="257.19" font-family="Liberation Sans, sans-serif" font-weight="bold" font-size="8.5" stroke="#000" stroke-width="0.25" text-anchor="end" textLength="17.2" lengthAdjust="spacingAndGlyphs">0.55</text>
<text x="668.45" y="245.25" font-family="Liberation Sans, sans-serif" font-weight="bold" font-size="8.5" stroke="#000" stroke-width="0.25" text-anchor="end" textLength="17.2" lengthAdjust="spacingAndGlyphs">0.60</text>
<text x="929.00" y="238.70" font-family="Liberation Serif, serif" font-weight="bold" font-size="7.8" stroke="#000" stroke-width="0.25" text-anchor="end" textLength="10.3" lengthAdjust="spacingAndGlyphs">CO</text>
<text x="959.50" y="238.70" font-family="Liberation Serif, serif" font-weight="bold" font-size="7.8" stroke="#000" stroke-width="0.25" text-anchor="end" textLength="26.4" lengthAdjust="spacingAndGlyphs">(ppm)</text>
</svg>
</body></html>
